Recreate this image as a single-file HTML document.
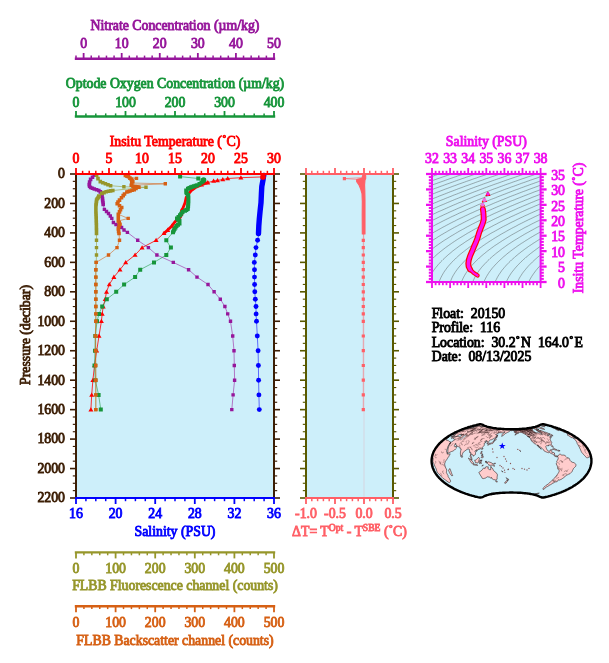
<!DOCTYPE html>
<html><head><meta charset="utf-8"><title>Float 20150 profile 116</title>
<style>
html,body{margin:0;padding:0;background:#fff;}
svg{display:block;font-family:"Liberation Serif",serif;will-change:transform;}
</style></head><body>
<svg width="609" height="663" viewBox="0 0 609 663">
<rect width="609" height="663" fill="#fff"/>
<rect x="76" y="174" width="198" height="324" fill="#cdeffa"/>
<polyline points="264.2,175.4 263.9,176.6 263.4,180.0 262.2,186.4 261.8,194.0 261.4,202.8 260.5,211.0 259.7,219.3 259.2,226.0 258.9,233.5 257.6,240.3 256.0,247.6 255.3,255.0 254.3,262.4 254.5,269.7 254.5,277.1 254.6,284.5 254.8,291.8 255.3,299.2 256.0,306.5 256.1,313.9 256.5,321.3 257.3,336.0 258.1,350.7 258.4,365.5 258.6,380.2 258.9,394.9 259.3,409.6" fill="none" stroke="#0000ff" stroke-width="0.7" stroke-opacity="0.8" stroke-linejoin="round"/>
<polyline points="263.8,175.4 263.5,176.6 263.0,180.0 261.8,186.4 261.4,194.0 261.0,202.8 260.1,211.0 259.3,219.3 258.8,226.0 258.5,233.5" fill="none" stroke="#0000ff" stroke-width="5.4" stroke-linejoin="round" stroke-linecap="round"/>
<circle cx="257.6" cy="240.3" r="2.45" fill="#0000ff"/>
<circle cx="256.0" cy="247.6" r="2.45" fill="#0000ff"/>
<circle cx="255.3" cy="255.0" r="2.45" fill="#0000ff"/>
<circle cx="254.3" cy="262.4" r="2.45" fill="#0000ff"/>
<circle cx="254.5" cy="269.7" r="2.45" fill="#0000ff"/>
<circle cx="254.5" cy="277.1" r="2.45" fill="#0000ff"/>
<circle cx="254.6" cy="284.5" r="2.45" fill="#0000ff"/>
<circle cx="254.8" cy="291.8" r="2.45" fill="#0000ff"/>
<circle cx="255.3" cy="299.2" r="2.45" fill="#0000ff"/>
<circle cx="256.0" cy="306.5" r="2.45" fill="#0000ff"/>
<circle cx="256.1" cy="313.9" r="2.45" fill="#0000ff"/>
<circle cx="256.5" cy="321.3" r="2.45" fill="#0000ff"/>
<circle cx="257.3" cy="336.0" r="2.45" fill="#0000ff"/>
<circle cx="258.1" cy="350.7" r="2.45" fill="#0000ff"/>
<circle cx="258.4" cy="365.5" r="2.45" fill="#0000ff"/>
<circle cx="258.6" cy="380.2" r="2.45" fill="#0000ff"/>
<circle cx="258.9" cy="394.9" r="2.45" fill="#0000ff"/>
<circle cx="259.3" cy="409.6" r="2.45" fill="#0000ff"/>
<polyline points="263.0,176.9 240.9,177.7 227.7,178.5 222.8,179.5 217.5,180.4 213.6,181.0 207.8,182.6 201.5,184.7 195.1,187.8 190.9,191.0 188.8,193.6 186.2,197.3 185.1,202.6 183.0,207.9 181.4,210.5 182.0,214.2 180.3,217.4 175.1,221.6 171.9,225.9 167.7,230.1 164.0,233.2 156.1,240.3 142.1,247.6 135.1,255.0 125.7,262.4 120.0,269.7 113.9,277.1 109.3,284.5 106.5,291.8 105.2,299.2 103.2,306.5 102.2,313.9 101.4,321.3 99.0,336.0 96.7,350.7 94.5,365.5 92.9,380.2 91.7,394.9 90.9,409.6" fill="none" stroke="#ff0000" stroke-width="0.8" stroke-opacity="1" stroke-linejoin="round"/>
<polyline points="207.8,182.6 201.5,184.7 195.1,187.8 190.9,191.0 188.8,193.6 186.2,197.3 185.1,202.6 183.0,207.9 181.4,210.5 182.0,214.2 180.3,217.4 175.1,221.6 171.9,225.9 167.7,230.1 164.0,233.2" fill="none" stroke="#ff0000" stroke-width="2.8" stroke-linejoin="round" stroke-linecap="round"/>
<path d="M260.5,178.7h5l-2.5,-4.3zM238.4,179.5h5l-2.5,-4.3zM225.2,180.3h5l-2.5,-4.3zM220.3,181.3h5l-2.5,-4.3zM215.0,182.2h5l-2.5,-4.3zM211.1,182.8h5l-2.5,-4.3zM205.3,184.4h5l-2.5,-4.3zM199.0,186.5h5l-2.5,-4.3zM169.4,227.7h5l-2.5,-4.3zM165.2,231.9h5l-2.5,-4.3zM161.5,235.0h5l-2.5,-4.3zM153.6,242.1h5l-2.5,-4.3zM139.6,249.5h5l-2.5,-4.3zM132.6,256.8h5l-2.5,-4.3zM123.2,264.2h5l-2.5,-4.3zM117.5,271.6h5l-2.5,-4.3zM111.4,278.9h5l-2.5,-4.3zM106.8,286.3h5l-2.5,-4.3zM104.0,293.7h5l-2.5,-4.3zM102.7,301.0h5l-2.5,-4.3zM100.7,308.4h5l-2.5,-4.3zM99.7,315.8h5l-2.5,-4.3zM98.9,323.1h5l-2.5,-4.3zM96.5,337.8h5l-2.5,-4.3zM94.2,352.6h5l-2.5,-4.3zM92.0,367.3h5l-2.5,-4.3zM90.4,382.0h5l-2.5,-4.3zM89.2,396.8h5l-2.5,-4.3zM88.4,411.5h5l-2.5,-4.3z" fill="#ff0000"/>
<circle cx="263.0" cy="176.9" r="2.8" fill="#ff0000"/>
<polyline points="180.1,176.6 198.3,178.5 203.6,179.9 203.0,181.2 201.5,182.6 199.5,184.0 197.2,185.2 194.0,186.3 190.9,187.3 188.0,188.8 186.2,190.5 186.3,192.0 186.7,193.1 187.8,195.0 188.3,196.3 188.4,199.5 188.3,202.6 188.1,206.0 187.7,209.0 185.0,210.8 182.5,212.1 180.0,215.3 177.0,218.5 179.5,221.0 179.5,223.5 176.5,226.0 174.5,229.0 173.0,232.2 166.3,240.3 170.9,247.6 166.3,255.0 154.0,262.4 140.2,269.7 135.1,277.1 124.1,284.5 116.2,291.8 106.8,299.2 102.2,306.5 99.0,313.9 97.0,321.3 95.3,336.0 95.0,350.7 94.5,365.5 95.3,380.2 98.6,394.9 100.8,409.6" fill="none" stroke="#16953a" stroke-width="0.7" stroke-opacity="0.8" stroke-linejoin="round"/>
<path d="M201.6,177.9h4.0v4.0h-4.0zM201.0,179.2h4.0v4.0h-4.0zM199.5,180.6h4.0v4.0h-4.0zM197.5,182.0h4.0v4.0h-4.0zM195.2,183.2h4.0v4.0h-4.0zM193.6,183.8h4.0v4.0h-4.0zM192.0,184.3h4.0v4.0h-4.0zM190.4,184.8h4.0v4.0h-4.0zM188.9,185.3h4.0v4.0h-4.0zM187.4,186.1h4.0v4.0h-4.0zM186.0,186.8h4.0v4.0h-4.0zM184.2,188.5h4.0v4.0h-4.0zM184.3,190.0h4.0v4.0h-4.0zM184.7,191.1h4.0v4.0h-4.0zM185.8,193.0h4.0v4.0h-4.0zM186.3,194.3h4.0v4.0h-4.0zM186.4,195.9h4.0v4.0h-4.0zM186.4,197.5h4.0v4.0h-4.0zM186.4,199.1h4.0v4.0h-4.0zM186.3,200.6h4.0v4.0h-4.0zM186.2,202.3h4.0v4.0h-4.0zM186.1,204.0h4.0v4.0h-4.0zM185.9,205.5h4.0v4.0h-4.0zM185.7,207.0h4.0v4.0h-4.0zM184.3,207.9h4.0v4.0h-4.0zM183.0,208.8h4.0v4.0h-4.0zM180.5,210.1h4.0v4.0h-4.0zM179.2,211.7h4.0v4.0h-4.0zM178.0,213.3h4.0v4.0h-4.0zM176.5,214.9h4.0v4.0h-4.0zM175.0,216.5h4.0v4.0h-4.0zM176.2,217.8h4.0v4.0h-4.0zM177.5,219.0h4.0v4.0h-4.0zM177.5,221.5h4.0v4.0h-4.0zM176.0,222.8h4.0v4.0h-4.0zM174.5,224.0h4.0v4.0h-4.0zM173.5,225.5h4.0v4.0h-4.0zM172.5,227.0h4.0v4.0h-4.0zM171.8,228.6h4.0v4.0h-4.0zM171.0,230.2h4.0v4.0h-4.0z" fill="#16953a"/>
<path d="M178.1,174.6h4.0v4.0h-4.0zM196.3,176.5h4.0v4.0h-4.0zM164.3,238.3h4.0v4.0h-4.0zM168.9,245.6h4.0v4.0h-4.0zM164.3,253.0h4.0v4.0h-4.0zM152.0,260.4h4.0v4.0h-4.0zM138.2,267.7h4.0v4.0h-4.0zM133.1,275.1h4.0v4.0h-4.0zM122.1,282.5h4.0v4.0h-4.0zM114.2,289.8h4.0v4.0h-4.0zM104.8,297.2h4.0v4.0h-4.0zM100.2,304.5h4.0v4.0h-4.0zM97.0,311.9h4.0v4.0h-4.0zM95.0,319.3h4.0v4.0h-4.0zM93.3,334.0h4.0v4.0h-4.0zM93.0,348.7h4.0v4.0h-4.0zM92.5,363.5h4.0v4.0h-4.0zM93.3,378.2h4.0v4.0h-4.0zM96.6,392.9h4.0v4.0h-4.0zM98.8,407.6h4.0v4.0h-4.0z" fill="#16953a"/>
<circle cx="203.6" cy="179.9" r="2.7" fill="#16953a"/>
<polyline points="94.3,175.2 92.5,177.3 90.6,179.4 89.6,182.0 89.2,184.6 89.6,186.3 90.6,187.5 94.3,189.0 98.8,190.5 101.7,193.4 102.5,198.6 103.2,204.5 104.4,209.4 106.5,211.5 108.5,213.5 110.3,216.0 111.8,218.4 113.4,222.5 116.0,224.5 118.5,226.0 121.6,227.5 124.0,230.0 127.4,232.4 137.7,240.3 148.4,247.6 156.9,255.0 173.3,262.4 188.6,269.7 197.0,277.1 208.0,284.5 214.1,291.8 220.3,299.2 224.9,306.5 227.7,313.9 230.5,321.3 232.7,336.0 234.0,350.7 234.3,365.5 234.6,380.2 233.1,394.9 231.8,409.6" fill="none" stroke="#96169b" stroke-width="0.7" stroke-opacity="0.8" stroke-linejoin="round"/>
<path d="M92.5,173.4h3.6v3.6h-3.6zM90.7,175.5h3.6v3.6h-3.6zM88.8,177.6h3.6v3.6h-3.6zM87.8,180.2h3.6v3.6h-3.6zM87.4,182.8h3.6v3.6h-3.6zM87.8,184.5h3.6v3.6h-3.6zM88.8,185.7h3.6v3.6h-3.6zM90.6,186.4h3.6v3.6h-3.6zM92.5,187.2h3.6v3.6h-3.6zM94.8,187.9h3.6v3.6h-3.6zM97.0,188.7h3.6v3.6h-3.6zM98.5,190.1h3.6v3.6h-3.6zM99.9,191.6h3.6v3.6h-3.6zM100.3,194.2h3.6v3.6h-3.6zM100.7,196.8h3.6v3.6h-3.6zM100.9,198.8h3.6v3.6h-3.6zM101.2,200.7h3.6v3.6h-3.6zM101.4,202.7h3.6v3.6h-3.6z" fill="#96169b"/>
<path d="M102.7,207.7h3.4v3.4h-3.4zM104.8,209.8h3.4v3.4h-3.4zM106.8,211.8h3.4v3.4h-3.4zM108.6,214.3h3.4v3.4h-3.4zM110.1,216.7h3.4v3.4h-3.4zM111.7,220.8h3.4v3.4h-3.4zM114.3,222.8h3.4v3.4h-3.4zM116.8,224.3h3.4v3.4h-3.4zM119.9,225.8h3.4v3.4h-3.4zM122.3,228.3h3.4v3.4h-3.4zM125.7,230.7h3.4v3.4h-3.4zM136.0,238.6h3.4v3.4h-3.4zM146.7,245.9h3.4v3.4h-3.4zM155.2,253.3h3.4v3.4h-3.4zM171.6,260.7h3.4v3.4h-3.4zM186.9,268.0h3.4v3.4h-3.4zM195.3,275.4h3.4v3.4h-3.4zM206.3,282.8h3.4v3.4h-3.4zM212.4,290.1h3.4v3.4h-3.4zM218.6,297.5h3.4v3.4h-3.4zM223.2,304.8h3.4v3.4h-3.4zM226.0,312.2h3.4v3.4h-3.4zM228.8,319.6h3.4v3.4h-3.4zM231.0,334.3h3.4v3.4h-3.4zM232.3,349.0h3.4v3.4h-3.4zM232.6,363.8h3.4v3.4h-3.4zM232.9,378.5h3.4v3.4h-3.4zM231.4,393.2h3.4v3.4h-3.4zM230.1,407.9h3.4v3.4h-3.4z" fill="#96169b"/>
<polyline points="96.6,175.2 98.0,178.6 100.3,181.6 105.4,183.8 110.6,185.7 123.9,186.8 146.0,187.2 112.8,190.5 106.2,191.7 101.7,193.4 98.8,196.4 96.6,200.0 95.9,206.0 95.9,212.0 96.2,219.3 96.4,226.0 96.5,233.5 96.5,240.3 96.5,247.6 96.5,255.0 96.2,262.4 95.9,269.7 95.9,277.1 95.9,284.5 95.9,291.8 95.9,299.2 95.9,306.5 95.9,313.9 95.9,321.3 95.7,336.0 95.7,350.7 95.7,365.5 95.8,380.2 95.8,394.9 95.8,409.6" fill="none" stroke="#96962a" stroke-width="0.7" stroke-opacity="0.8" stroke-linejoin="round"/>
<path d="M94.8,173.4h3.6v3.6h-3.6zM96.2,176.8h3.6v3.6h-3.6zM98.5,179.8h3.6v3.6h-3.6zM101.0,180.9h3.6v3.6h-3.6zM103.6,182.0h3.6v3.6h-3.6zM106.2,182.9h3.6v3.6h-3.6zM108.8,183.9h3.6v3.6h-3.6z" fill="#96962a"/>
<path d="M111.0,188.7h3.6v3.6h-3.6zM108.8,189.1h3.6v3.6h-3.6zM106.6,189.5h3.6v3.6h-3.6zM104.4,189.9h3.6v3.6h-3.6zM102.2,190.8h3.6v3.6h-3.6zM99.9,191.6h3.6v3.6h-3.6zM97.0,194.6h3.6v3.6h-3.6z" fill="#96962a"/>
<path d="M97.0,194.6h3.6v3.6h-3.6zM96.3,195.8h3.6v3.6h-3.6zM95.5,197.0h3.6v3.6h-3.6zM94.8,198.2h3.6v3.6h-3.6zM94.7,199.4h3.6v3.6h-3.6zM94.5,200.6h3.6v3.6h-3.6zM94.4,201.8h3.6v3.6h-3.6zM94.2,203.0h3.6v3.6h-3.6zM94.1,204.2h3.6v3.6h-3.6zM94.1,205.4h3.6v3.6h-3.6zM94.1,206.6h3.6v3.6h-3.6zM94.1,207.8h3.6v3.6h-3.6zM94.1,209.0h3.6v3.6h-3.6zM94.1,210.2h3.6v3.6h-3.6zM94.2,211.4h3.6v3.6h-3.6zM94.2,212.6h3.6v3.6h-3.6zM94.3,213.8h3.6v3.6h-3.6zM94.3,215.1h3.6v3.6h-3.6zM94.4,216.3h3.6v3.6h-3.6zM94.4,217.5h3.6v3.6h-3.6zM94.4,218.8h3.6v3.6h-3.6zM94.5,220.2h3.6v3.6h-3.6zM94.5,221.5h3.6v3.6h-3.6zM94.6,222.9h3.6v3.6h-3.6zM94.6,224.2h3.6v3.6h-3.6zM94.6,225.4h3.6v3.6h-3.6zM94.6,226.7h3.6v3.6h-3.6zM94.7,227.9h3.6v3.6h-3.6zM94.7,229.2h3.6v3.6h-3.6zM94.7,230.4h3.6v3.6h-3.6zM94.7,231.7h3.6v3.6h-3.6z" fill="#96962a"/>
<path d="M122.2,185.1h3.4v3.4h-3.4zM144.3,185.5h3.4v3.4h-3.4zM94.8,238.6h3.4v3.4h-3.4zM94.8,245.9h3.4v3.4h-3.4zM94.8,253.3h3.4v3.4h-3.4zM94.5,260.7h3.4v3.4h-3.4zM94.2,268.0h3.4v3.4h-3.4zM94.2,275.4h3.4v3.4h-3.4zM94.2,282.8h3.4v3.4h-3.4zM94.2,290.1h3.4v3.4h-3.4zM94.2,297.5h3.4v3.4h-3.4zM94.2,304.8h3.4v3.4h-3.4zM94.2,312.2h3.4v3.4h-3.4zM94.2,319.6h3.4v3.4h-3.4zM94.0,334.3h3.4v3.4h-3.4zM94.0,349.0h3.4v3.4h-3.4zM94.0,363.8h3.4v3.4h-3.4zM94.1,378.5h3.4v3.4h-3.4zM94.1,393.2h3.4v3.4h-3.4zM94.1,407.9h3.4v3.4h-3.4z" fill="#96962a"/>
<polyline points="125.4,175.4 128.5,176.8 136.5,178.4 131.3,179.4 132.0,180.5 132.8,181.6 131.8,183.0 165.3,183.8 131.3,185.3 133.0,186.2 138.7,187.2 136.0,188.5 134.2,189.7 130.0,191.0 126.9,192.0 124.5,194.0 123.2,195.6 121.5,197.8 119.5,200.1 118.0,202.0 117.2,203.8 119.5,205.7 121.7,207.5 120.5,209.8 119.5,211.9 118.3,214.3 128.2,218.4 118.3,221.0 119.2,222.6 120.0,224.2 119.0,226.5 118.3,229.0 118.6,231.5 119.0,233.5 119.5,240.3 117.0,247.6 108.5,255.0 96.2,262.4 95.8,269.7 95.8,277.1 95.8,284.5 95.8,291.8 95.8,299.2 95.8,306.5 95.8,313.9 95.8,321.3 95.3,336.0 95.5,350.7 95.7,365.5 95.8,380.2 95.8,394.9 95.8,409.6" fill="none" stroke="#d66014" stroke-width="0.7" stroke-opacity="0.8" stroke-linejoin="round"/>
<path d="M123.6,173.6h3.6v3.6h-3.6zM125.2,174.3h3.6v3.6h-3.6zM126.7,175.0h3.6v3.6h-3.6zM128.1,176.3h3.6v3.6h-3.6zM129.5,177.6h3.6v3.6h-3.6zM130.2,178.7h3.6v3.6h-3.6zM131.0,179.8h3.6v3.6h-3.6zM130.0,181.2h3.6v3.6h-3.6zM129.5,183.5h3.6v3.6h-3.6zM131.2,184.4h3.6v3.6h-3.6zM133.1,184.7h3.6v3.6h-3.6zM135.0,185.1h3.6v3.6h-3.6zM136.9,185.4h3.6v3.6h-3.6zM134.2,186.7h3.6v3.6h-3.6zM132.4,187.9h3.6v3.6h-3.6zM130.3,188.5h3.6v3.6h-3.6zM128.2,189.2h3.6v3.6h-3.6zM126.6,189.7h3.6v3.6h-3.6zM125.1,190.2h3.6v3.6h-3.6zM122.7,192.2h3.6v3.6h-3.6zM121.4,193.8h3.6v3.6h-3.6zM119.7,196.0h3.6v3.6h-3.6zM117.7,198.3h3.6v3.6h-3.6zM116.2,200.2h3.6v3.6h-3.6zM115.4,202.0h3.6v3.6h-3.6zM117.7,203.9h3.6v3.6h-3.6zM119.9,205.7h3.6v3.6h-3.6zM118.7,208.0h3.6v3.6h-3.6zM117.7,210.1h3.6v3.6h-3.6zM116.5,212.5h3.6v3.6h-3.6zM116.5,214.2h3.6v3.6h-3.6zM116.5,215.8h3.6v3.6h-3.6zM116.5,217.5h3.6v3.6h-3.6zM116.5,219.2h3.6v3.6h-3.6zM117.4,220.8h3.6v3.6h-3.6zM118.2,222.4h3.6v3.6h-3.6zM117.2,224.7h3.6v3.6h-3.6zM116.5,227.2h3.6v3.6h-3.6zM116.8,229.7h3.6v3.6h-3.6zM117.2,231.7h3.6v3.6h-3.6z" fill="#d66014"/>
<path d="M134.8,176.7h3.4v3.4h-3.4zM163.6,182.1h3.4v3.4h-3.4zM126.5,216.7h3.4v3.4h-3.4zM137.0,185.5h3.4v3.4h-3.4zM117.8,238.6h3.4v3.4h-3.4zM115.3,245.9h3.4v3.4h-3.4zM106.8,253.3h3.4v3.4h-3.4zM94.5,260.7h3.4v3.4h-3.4zM94.1,268.0h3.4v3.4h-3.4zM94.1,275.4h3.4v3.4h-3.4zM94.1,282.8h3.4v3.4h-3.4zM94.1,290.1h3.4v3.4h-3.4zM94.1,297.5h3.4v3.4h-3.4zM94.1,304.8h3.4v3.4h-3.4zM94.1,312.2h3.4v3.4h-3.4zM94.1,319.6h3.4v3.4h-3.4zM93.6,334.3h3.4v3.4h-3.4zM93.8,349.0h3.4v3.4h-3.4zM94.0,363.8h3.4v3.4h-3.4zM94.1,378.5h3.4v3.4h-3.4zM94.1,393.2h3.4v3.4h-3.4zM94.1,407.9h3.4v3.4h-3.4z" fill="#d66014"/>
<line x1="76.00" y1="173.00" x2="76.00" y2="499.00" stroke="#3c1e05" stroke-width="2" />
<line x1="76.00" y1="174.00" x2="70.00" y2="174.00" stroke="#3c1e05" stroke-width="1.6" />
<text x="65.00" y="178.40" fill="#3c1e05" stroke="#3c1e05" stroke-width="0.85" text-anchor="end" font-size="13.8" >0</text>
<line x1="76.00" y1="181.36" x2="72.80" y2="181.36" stroke="#3c1e05" stroke-width="1.15" />
<line x1="76.00" y1="188.73" x2="72.80" y2="188.73" stroke="#3c1e05" stroke-width="1.15" />
<line x1="76.00" y1="196.09" x2="72.80" y2="196.09" stroke="#3c1e05" stroke-width="1.15" />
<line x1="76.00" y1="203.45" x2="70.00" y2="203.45" stroke="#3c1e05" stroke-width="1.6" />
<text x="65.00" y="207.85" fill="#3c1e05" stroke="#3c1e05" stroke-width="0.85" text-anchor="end" font-size="13.8" >200</text>
<line x1="76.00" y1="210.82" x2="72.80" y2="210.82" stroke="#3c1e05" stroke-width="1.15" />
<line x1="76.00" y1="218.18" x2="72.80" y2="218.18" stroke="#3c1e05" stroke-width="1.15" />
<line x1="76.00" y1="225.55" x2="72.80" y2="225.55" stroke="#3c1e05" stroke-width="1.15" />
<line x1="76.00" y1="232.91" x2="70.00" y2="232.91" stroke="#3c1e05" stroke-width="1.6" />
<text x="65.00" y="237.31" fill="#3c1e05" stroke="#3c1e05" stroke-width="0.85" text-anchor="end" font-size="13.8" >400</text>
<line x1="76.00" y1="240.27" x2="72.80" y2="240.27" stroke="#3c1e05" stroke-width="1.15" />
<line x1="76.00" y1="247.64" x2="72.80" y2="247.64" stroke="#3c1e05" stroke-width="1.15" />
<line x1="76.00" y1="255.00" x2="72.80" y2="255.00" stroke="#3c1e05" stroke-width="1.15" />
<line x1="76.00" y1="262.36" x2="70.00" y2="262.36" stroke="#3c1e05" stroke-width="1.6" />
<text x="65.00" y="266.76" fill="#3c1e05" stroke="#3c1e05" stroke-width="0.85" text-anchor="end" font-size="13.8" >600</text>
<line x1="76.00" y1="269.73" x2="72.80" y2="269.73" stroke="#3c1e05" stroke-width="1.15" />
<line x1="76.00" y1="277.09" x2="72.80" y2="277.09" stroke="#3c1e05" stroke-width="1.15" />
<line x1="76.00" y1="284.45" x2="72.80" y2="284.45" stroke="#3c1e05" stroke-width="1.15" />
<line x1="76.00" y1="291.82" x2="70.00" y2="291.82" stroke="#3c1e05" stroke-width="1.6" />
<text x="65.00" y="296.22" fill="#3c1e05" stroke="#3c1e05" stroke-width="0.85" text-anchor="end" font-size="13.8" >800</text>
<line x1="76.00" y1="299.18" x2="72.80" y2="299.18" stroke="#3c1e05" stroke-width="1.15" />
<line x1="76.00" y1="306.55" x2="72.80" y2="306.55" stroke="#3c1e05" stroke-width="1.15" />
<line x1="76.00" y1="313.91" x2="72.80" y2="313.91" stroke="#3c1e05" stroke-width="1.15" />
<line x1="76.00" y1="321.27" x2="70.00" y2="321.27" stroke="#3c1e05" stroke-width="1.6" />
<text x="65.00" y="325.67" fill="#3c1e05" stroke="#3c1e05" stroke-width="0.85" text-anchor="end" font-size="13.8" >1000</text>
<line x1="76.00" y1="328.64" x2="72.80" y2="328.64" stroke="#3c1e05" stroke-width="1.15" />
<line x1="76.00" y1="336.00" x2="72.80" y2="336.00" stroke="#3c1e05" stroke-width="1.15" />
<line x1="76.00" y1="343.36" x2="72.80" y2="343.36" stroke="#3c1e05" stroke-width="1.15" />
<line x1="76.00" y1="350.73" x2="70.00" y2="350.73" stroke="#3c1e05" stroke-width="1.6" />
<text x="65.00" y="355.13" fill="#3c1e05" stroke="#3c1e05" stroke-width="0.85" text-anchor="end" font-size="13.8" >1200</text>
<line x1="76.00" y1="358.09" x2="72.80" y2="358.09" stroke="#3c1e05" stroke-width="1.15" />
<line x1="76.00" y1="365.45" x2="72.80" y2="365.45" stroke="#3c1e05" stroke-width="1.15" />
<line x1="76.00" y1="372.82" x2="72.80" y2="372.82" stroke="#3c1e05" stroke-width="1.15" />
<line x1="76.00" y1="380.18" x2="70.00" y2="380.18" stroke="#3c1e05" stroke-width="1.6" />
<text x="65.00" y="384.58" fill="#3c1e05" stroke="#3c1e05" stroke-width="0.85" text-anchor="end" font-size="13.8" >1400</text>
<line x1="76.00" y1="387.55" x2="72.80" y2="387.55" stroke="#3c1e05" stroke-width="1.15" />
<line x1="76.00" y1="394.91" x2="72.80" y2="394.91" stroke="#3c1e05" stroke-width="1.15" />
<line x1="76.00" y1="402.27" x2="72.80" y2="402.27" stroke="#3c1e05" stroke-width="1.15" />
<line x1="76.00" y1="409.64" x2="70.00" y2="409.64" stroke="#3c1e05" stroke-width="1.6" />
<text x="65.00" y="414.04" fill="#3c1e05" stroke="#3c1e05" stroke-width="0.85" text-anchor="end" font-size="13.8" >1600</text>
<line x1="76.00" y1="417.00" x2="72.80" y2="417.00" stroke="#3c1e05" stroke-width="1.15" />
<line x1="76.00" y1="424.36" x2="72.80" y2="424.36" stroke="#3c1e05" stroke-width="1.15" />
<line x1="76.00" y1="431.73" x2="72.80" y2="431.73" stroke="#3c1e05" stroke-width="1.15" />
<line x1="76.00" y1="439.09" x2="70.00" y2="439.09" stroke="#3c1e05" stroke-width="1.6" />
<text x="65.00" y="443.49" fill="#3c1e05" stroke="#3c1e05" stroke-width="0.85" text-anchor="end" font-size="13.8" >1800</text>
<line x1="76.00" y1="446.45" x2="72.80" y2="446.45" stroke="#3c1e05" stroke-width="1.15" />
<line x1="76.00" y1="453.82" x2="72.80" y2="453.82" stroke="#3c1e05" stroke-width="1.15" />
<line x1="76.00" y1="461.18" x2="72.80" y2="461.18" stroke="#3c1e05" stroke-width="1.15" />
<line x1="76.00" y1="468.55" x2="70.00" y2="468.55" stroke="#3c1e05" stroke-width="1.6" />
<text x="65.00" y="472.95" fill="#3c1e05" stroke="#3c1e05" stroke-width="0.85" text-anchor="end" font-size="13.8" >2000</text>
<line x1="76.00" y1="475.91" x2="72.80" y2="475.91" stroke="#3c1e05" stroke-width="1.15" />
<line x1="76.00" y1="483.27" x2="72.80" y2="483.27" stroke="#3c1e05" stroke-width="1.15" />
<line x1="76.00" y1="490.64" x2="72.80" y2="490.64" stroke="#3c1e05" stroke-width="1.15" />
<line x1="76.00" y1="498.00" x2="70.00" y2="498.00" stroke="#3c1e05" stroke-width="1.6" />
<text x="65.00" y="502.40" fill="#3c1e05" stroke="#3c1e05" stroke-width="0.85" text-anchor="end" font-size="13.8" >2200</text>
<line x1="274.00" y1="173.00" x2="274.00" y2="499.00" stroke="#3c1e05" stroke-width="2" />
<line x1="274.00" y1="174.00" x2="280.00" y2="174.00" stroke="#3c1e05" stroke-width="1.6" />
<line x1="274.00" y1="181.36" x2="277.20" y2="181.36" stroke="#3c1e05" stroke-width="1.15" />
<line x1="274.00" y1="188.73" x2="277.20" y2="188.73" stroke="#3c1e05" stroke-width="1.15" />
<line x1="274.00" y1="196.09" x2="277.20" y2="196.09" stroke="#3c1e05" stroke-width="1.15" />
<line x1="274.00" y1="203.45" x2="280.00" y2="203.45" stroke="#3c1e05" stroke-width="1.6" />
<line x1="274.00" y1="210.82" x2="277.20" y2="210.82" stroke="#3c1e05" stroke-width="1.15" />
<line x1="274.00" y1="218.18" x2="277.20" y2="218.18" stroke="#3c1e05" stroke-width="1.15" />
<line x1="274.00" y1="225.55" x2="277.20" y2="225.55" stroke="#3c1e05" stroke-width="1.15" />
<line x1="274.00" y1="232.91" x2="280.00" y2="232.91" stroke="#3c1e05" stroke-width="1.6" />
<line x1="274.00" y1="240.27" x2="277.20" y2="240.27" stroke="#3c1e05" stroke-width="1.15" />
<line x1="274.00" y1="247.64" x2="277.20" y2="247.64" stroke="#3c1e05" stroke-width="1.15" />
<line x1="274.00" y1="255.00" x2="277.20" y2="255.00" stroke="#3c1e05" stroke-width="1.15" />
<line x1="274.00" y1="262.36" x2="280.00" y2="262.36" stroke="#3c1e05" stroke-width="1.6" />
<line x1="274.00" y1="269.73" x2="277.20" y2="269.73" stroke="#3c1e05" stroke-width="1.15" />
<line x1="274.00" y1="277.09" x2="277.20" y2="277.09" stroke="#3c1e05" stroke-width="1.15" />
<line x1="274.00" y1="284.45" x2="277.20" y2="284.45" stroke="#3c1e05" stroke-width="1.15" />
<line x1="274.00" y1="291.82" x2="280.00" y2="291.82" stroke="#3c1e05" stroke-width="1.6" />
<line x1="274.00" y1="299.18" x2="277.20" y2="299.18" stroke="#3c1e05" stroke-width="1.15" />
<line x1="274.00" y1="306.55" x2="277.20" y2="306.55" stroke="#3c1e05" stroke-width="1.15" />
<line x1="274.00" y1="313.91" x2="277.20" y2="313.91" stroke="#3c1e05" stroke-width="1.15" />
<line x1="274.00" y1="321.27" x2="280.00" y2="321.27" stroke="#3c1e05" stroke-width="1.6" />
<line x1="274.00" y1="328.64" x2="277.20" y2="328.64" stroke="#3c1e05" stroke-width="1.15" />
<line x1="274.00" y1="336.00" x2="277.20" y2="336.00" stroke="#3c1e05" stroke-width="1.15" />
<line x1="274.00" y1="343.36" x2="277.20" y2="343.36" stroke="#3c1e05" stroke-width="1.15" />
<line x1="274.00" y1="350.73" x2="280.00" y2="350.73" stroke="#3c1e05" stroke-width="1.6" />
<line x1="274.00" y1="358.09" x2="277.20" y2="358.09" stroke="#3c1e05" stroke-width="1.15" />
<line x1="274.00" y1="365.45" x2="277.20" y2="365.45" stroke="#3c1e05" stroke-width="1.15" />
<line x1="274.00" y1="372.82" x2="277.20" y2="372.82" stroke="#3c1e05" stroke-width="1.15" />
<line x1="274.00" y1="380.18" x2="280.00" y2="380.18" stroke="#3c1e05" stroke-width="1.6" />
<line x1="274.00" y1="387.55" x2="277.20" y2="387.55" stroke="#3c1e05" stroke-width="1.15" />
<line x1="274.00" y1="394.91" x2="277.20" y2="394.91" stroke="#3c1e05" stroke-width="1.15" />
<line x1="274.00" y1="402.27" x2="277.20" y2="402.27" stroke="#3c1e05" stroke-width="1.15" />
<line x1="274.00" y1="409.64" x2="280.00" y2="409.64" stroke="#3c1e05" stroke-width="1.6" />
<line x1="274.00" y1="417.00" x2="277.20" y2="417.00" stroke="#3c1e05" stroke-width="1.15" />
<line x1="274.00" y1="424.36" x2="277.20" y2="424.36" stroke="#3c1e05" stroke-width="1.15" />
<line x1="274.00" y1="431.73" x2="277.20" y2="431.73" stroke="#3c1e05" stroke-width="1.15" />
<line x1="274.00" y1="439.09" x2="280.00" y2="439.09" stroke="#3c1e05" stroke-width="1.6" />
<line x1="274.00" y1="446.45" x2="277.20" y2="446.45" stroke="#3c1e05" stroke-width="1.15" />
<line x1="274.00" y1="453.82" x2="277.20" y2="453.82" stroke="#3c1e05" stroke-width="1.15" />
<line x1="274.00" y1="461.18" x2="277.20" y2="461.18" stroke="#3c1e05" stroke-width="1.15" />
<line x1="274.00" y1="468.55" x2="280.00" y2="468.55" stroke="#3c1e05" stroke-width="1.6" />
<line x1="274.00" y1="475.91" x2="277.20" y2="475.91" stroke="#3c1e05" stroke-width="1.15" />
<line x1="274.00" y1="483.27" x2="277.20" y2="483.27" stroke="#3c1e05" stroke-width="1.15" />
<line x1="274.00" y1="490.64" x2="277.20" y2="490.64" stroke="#3c1e05" stroke-width="1.15" />
<line x1="274.00" y1="498.00" x2="280.00" y2="498.00" stroke="#3c1e05" stroke-width="1.6" />
<line x1="75.00" y1="174.00" x2="275.00" y2="174.00" stroke="#ff0000" stroke-width="2" />
<line x1="76.00" y1="174.00" x2="76.00" y2="168.00" stroke="#ff0000" stroke-width="1.8" />
<text x="76.00" y="162.60" fill="#ff0000" stroke="#ff0000" stroke-width="0.85" text-anchor="middle" font-size="13.8" >0</text>
<line x1="82.60" y1="174.00" x2="82.60" y2="170.80" stroke="#ff0000" stroke-width="1.5" />
<line x1="89.20" y1="174.00" x2="89.20" y2="170.80" stroke="#ff0000" stroke-width="1.5" />
<line x1="95.80" y1="174.00" x2="95.80" y2="170.80" stroke="#ff0000" stroke-width="1.5" />
<line x1="102.40" y1="174.00" x2="102.40" y2="170.80" stroke="#ff0000" stroke-width="1.5" />
<line x1="109.00" y1="174.00" x2="109.00" y2="168.00" stroke="#ff0000" stroke-width="1.8" />
<text x="109.00" y="162.60" fill="#ff0000" stroke="#ff0000" stroke-width="0.85" text-anchor="middle" font-size="13.8" >5</text>
<line x1="115.60" y1="174.00" x2="115.60" y2="170.80" stroke="#ff0000" stroke-width="1.5" />
<line x1="122.20" y1="174.00" x2="122.20" y2="170.80" stroke="#ff0000" stroke-width="1.5" />
<line x1="128.80" y1="174.00" x2="128.80" y2="170.80" stroke="#ff0000" stroke-width="1.5" />
<line x1="135.40" y1="174.00" x2="135.40" y2="170.80" stroke="#ff0000" stroke-width="1.5" />
<line x1="142.00" y1="174.00" x2="142.00" y2="168.00" stroke="#ff0000" stroke-width="1.8" />
<text x="142.00" y="162.60" fill="#ff0000" stroke="#ff0000" stroke-width="0.85" text-anchor="middle" font-size="13.8" >10</text>
<line x1="148.60" y1="174.00" x2="148.60" y2="170.80" stroke="#ff0000" stroke-width="1.5" />
<line x1="155.20" y1="174.00" x2="155.20" y2="170.80" stroke="#ff0000" stroke-width="1.5" />
<line x1="161.80" y1="174.00" x2="161.80" y2="170.80" stroke="#ff0000" stroke-width="1.5" />
<line x1="168.40" y1="174.00" x2="168.40" y2="170.80" stroke="#ff0000" stroke-width="1.5" />
<line x1="175.00" y1="174.00" x2="175.00" y2="168.00" stroke="#ff0000" stroke-width="1.8" />
<text x="175.00" y="162.60" fill="#ff0000" stroke="#ff0000" stroke-width="0.85" text-anchor="middle" font-size="13.8" >15</text>
<line x1="181.60" y1="174.00" x2="181.60" y2="170.80" stroke="#ff0000" stroke-width="1.5" />
<line x1="188.20" y1="174.00" x2="188.20" y2="170.80" stroke="#ff0000" stroke-width="1.5" />
<line x1="194.80" y1="174.00" x2="194.80" y2="170.80" stroke="#ff0000" stroke-width="1.5" />
<line x1="201.40" y1="174.00" x2="201.40" y2="170.80" stroke="#ff0000" stroke-width="1.5" />
<line x1="208.00" y1="174.00" x2="208.00" y2="168.00" stroke="#ff0000" stroke-width="1.8" />
<text x="208.00" y="162.60" fill="#ff0000" stroke="#ff0000" stroke-width="0.85" text-anchor="middle" font-size="13.8" >20</text>
<line x1="214.60" y1="174.00" x2="214.60" y2="170.80" stroke="#ff0000" stroke-width="1.5" />
<line x1="221.20" y1="174.00" x2="221.20" y2="170.80" stroke="#ff0000" stroke-width="1.5" />
<line x1="227.80" y1="174.00" x2="227.80" y2="170.80" stroke="#ff0000" stroke-width="1.5" />
<line x1="234.40" y1="174.00" x2="234.40" y2="170.80" stroke="#ff0000" stroke-width="1.5" />
<line x1="241.00" y1="174.00" x2="241.00" y2="168.00" stroke="#ff0000" stroke-width="1.8" />
<text x="241.00" y="162.60" fill="#ff0000" stroke="#ff0000" stroke-width="0.85" text-anchor="middle" font-size="13.8" >25</text>
<line x1="247.60" y1="174.00" x2="247.60" y2="170.80" stroke="#ff0000" stroke-width="1.5" />
<line x1="254.20" y1="174.00" x2="254.20" y2="170.80" stroke="#ff0000" stroke-width="1.5" />
<line x1="260.80" y1="174.00" x2="260.80" y2="170.80" stroke="#ff0000" stroke-width="1.5" />
<line x1="267.40" y1="174.00" x2="267.40" y2="170.80" stroke="#ff0000" stroke-width="1.5" />
<line x1="274.00" y1="174.00" x2="274.00" y2="168.00" stroke="#ff0000" stroke-width="1.8" />
<text x="274.00" y="162.60" fill="#ff0000" stroke="#ff0000" stroke-width="0.85" text-anchor="middle" font-size="13.8" >30</text>
<text x="175.00" y="145.80" fill="#ff0000" stroke="#ff0000" stroke-width="0.85" text-anchor="middle" font-size="13.8" >Insitu Temperature (˚C)</text>
<line x1="75.00" y1="498.00" x2="275.00" y2="498.00" stroke="#0000ff" stroke-width="2" />
<line x1="76.00" y1="498.00" x2="76.00" y2="504.00" stroke="#0000ff" stroke-width="1.8" />
<text x="76.00" y="517.80" fill="#0000ff" stroke="#0000ff" stroke-width="0.85" text-anchor="middle" font-size="13.8" >16</text>
<line x1="85.90" y1="498.00" x2="85.90" y2="501.20" stroke="#0000ff" stroke-width="1.5" />
<line x1="95.80" y1="498.00" x2="95.80" y2="501.20" stroke="#0000ff" stroke-width="1.5" />
<line x1="105.70" y1="498.00" x2="105.70" y2="501.20" stroke="#0000ff" stroke-width="1.5" />
<line x1="115.60" y1="498.00" x2="115.60" y2="504.00" stroke="#0000ff" stroke-width="1.8" />
<text x="115.60" y="517.80" fill="#0000ff" stroke="#0000ff" stroke-width="0.85" text-anchor="middle" font-size="13.8" >20</text>
<line x1="125.50" y1="498.00" x2="125.50" y2="501.20" stroke="#0000ff" stroke-width="1.5" />
<line x1="135.40" y1="498.00" x2="135.40" y2="501.20" stroke="#0000ff" stroke-width="1.5" />
<line x1="145.30" y1="498.00" x2="145.30" y2="501.20" stroke="#0000ff" stroke-width="1.5" />
<line x1="155.20" y1="498.00" x2="155.20" y2="504.00" stroke="#0000ff" stroke-width="1.8" />
<text x="155.20" y="517.80" fill="#0000ff" stroke="#0000ff" stroke-width="0.85" text-anchor="middle" font-size="13.8" >24</text>
<line x1="165.10" y1="498.00" x2="165.10" y2="501.20" stroke="#0000ff" stroke-width="1.5" />
<line x1="175.00" y1="498.00" x2="175.00" y2="501.20" stroke="#0000ff" stroke-width="1.5" />
<line x1="184.90" y1="498.00" x2="184.90" y2="501.20" stroke="#0000ff" stroke-width="1.5" />
<line x1="194.80" y1="498.00" x2="194.80" y2="504.00" stroke="#0000ff" stroke-width="1.8" />
<text x="194.80" y="517.80" fill="#0000ff" stroke="#0000ff" stroke-width="0.85" text-anchor="middle" font-size="13.8" >28</text>
<line x1="204.70" y1="498.00" x2="204.70" y2="501.20" stroke="#0000ff" stroke-width="1.5" />
<line x1="214.60" y1="498.00" x2="214.60" y2="501.20" stroke="#0000ff" stroke-width="1.5" />
<line x1="224.50" y1="498.00" x2="224.50" y2="501.20" stroke="#0000ff" stroke-width="1.5" />
<line x1="234.40" y1="498.00" x2="234.40" y2="504.00" stroke="#0000ff" stroke-width="1.8" />
<text x="234.40" y="517.80" fill="#0000ff" stroke="#0000ff" stroke-width="0.85" text-anchor="middle" font-size="13.8" >32</text>
<line x1="244.30" y1="498.00" x2="244.30" y2="501.20" stroke="#0000ff" stroke-width="1.5" />
<line x1="254.20" y1="498.00" x2="254.20" y2="501.20" stroke="#0000ff" stroke-width="1.5" />
<line x1="264.10" y1="498.00" x2="264.10" y2="501.20" stroke="#0000ff" stroke-width="1.5" />
<line x1="274.00" y1="498.00" x2="274.00" y2="504.00" stroke="#0000ff" stroke-width="1.8" />
<text x="274.00" y="517.80" fill="#0000ff" stroke="#0000ff" stroke-width="0.85" text-anchor="middle" font-size="13.8" >36</text>
<text x="175.00" y="535.80" fill="#0000ff" stroke="#0000ff" stroke-width="0.85" text-anchor="middle" font-size="13.8" >Salinity (PSU)</text>
<text transform="translate(30.2,335) rotate(-90)" fill="#3c1e05" stroke="#3c1e05" stroke-width="0.85" text-anchor="middle" font-size="13.8">Pressure (decibar)</text>
<line x1="74.80" y1="58.70" x2="275.20" y2="58.70" stroke="#96169b" stroke-width="2.4" />
<line x1="76.00" y1="58.70" x2="76.00" y2="55.60" stroke="#96169b" stroke-width="1.5" />
<line x1="83.62" y1="58.70" x2="83.62" y2="53.00" stroke="#96169b" stroke-width="1.8" />
<text x="83.62" y="47.80" fill="#96169b" stroke="#96169b" stroke-width="0.85" text-anchor="middle" font-size="13.8" >0</text>
<line x1="91.23" y1="58.70" x2="91.23" y2="55.60" stroke="#96169b" stroke-width="1.5" />
<line x1="98.85" y1="58.70" x2="98.85" y2="55.60" stroke="#96169b" stroke-width="1.5" />
<line x1="106.46" y1="58.70" x2="106.46" y2="55.60" stroke="#96169b" stroke-width="1.5" />
<line x1="114.08" y1="58.70" x2="114.08" y2="55.60" stroke="#96169b" stroke-width="1.5" />
<line x1="121.69" y1="58.70" x2="121.69" y2="53.00" stroke="#96169b" stroke-width="1.8" />
<text x="121.69" y="47.80" fill="#96169b" stroke="#96169b" stroke-width="0.85" text-anchor="middle" font-size="13.8" >10</text>
<line x1="129.31" y1="58.70" x2="129.31" y2="55.60" stroke="#96169b" stroke-width="1.5" />
<line x1="136.92" y1="58.70" x2="136.92" y2="55.60" stroke="#96169b" stroke-width="1.5" />
<line x1="144.54" y1="58.70" x2="144.54" y2="55.60" stroke="#96169b" stroke-width="1.5" />
<line x1="152.15" y1="58.70" x2="152.15" y2="55.60" stroke="#96169b" stroke-width="1.5" />
<line x1="159.77" y1="58.70" x2="159.77" y2="53.00" stroke="#96169b" stroke-width="1.8" />
<text x="159.77" y="47.80" fill="#96169b" stroke="#96169b" stroke-width="0.85" text-anchor="middle" font-size="13.8" >20</text>
<line x1="167.38" y1="58.70" x2="167.38" y2="55.60" stroke="#96169b" stroke-width="1.5" />
<line x1="175.00" y1="58.70" x2="175.00" y2="55.60" stroke="#96169b" stroke-width="1.5" />
<line x1="182.62" y1="58.70" x2="182.62" y2="55.60" stroke="#96169b" stroke-width="1.5" />
<line x1="190.23" y1="58.70" x2="190.23" y2="55.60" stroke="#96169b" stroke-width="1.5" />
<line x1="197.85" y1="58.70" x2="197.85" y2="53.00" stroke="#96169b" stroke-width="1.8" />
<text x="197.85" y="47.80" fill="#96169b" stroke="#96169b" stroke-width="0.85" text-anchor="middle" font-size="13.8" >30</text>
<line x1="205.46" y1="58.70" x2="205.46" y2="55.60" stroke="#96169b" stroke-width="1.5" />
<line x1="213.08" y1="58.70" x2="213.08" y2="55.60" stroke="#96169b" stroke-width="1.5" />
<line x1="220.69" y1="58.70" x2="220.69" y2="55.60" stroke="#96169b" stroke-width="1.5" />
<line x1="228.31" y1="58.70" x2="228.31" y2="55.60" stroke="#96169b" stroke-width="1.5" />
<line x1="235.92" y1="58.70" x2="235.92" y2="53.00" stroke="#96169b" stroke-width="1.8" />
<text x="235.92" y="47.80" fill="#96169b" stroke="#96169b" stroke-width="0.85" text-anchor="middle" font-size="13.8" >40</text>
<line x1="243.54" y1="58.70" x2="243.54" y2="55.60" stroke="#96169b" stroke-width="1.5" />
<line x1="251.15" y1="58.70" x2="251.15" y2="55.60" stroke="#96169b" stroke-width="1.5" />
<line x1="258.77" y1="58.70" x2="258.77" y2="55.60" stroke="#96169b" stroke-width="1.5" />
<line x1="266.38" y1="58.70" x2="266.38" y2="55.60" stroke="#96169b" stroke-width="1.5" />
<line x1="274.00" y1="58.70" x2="274.00" y2="53.00" stroke="#96169b" stroke-width="1.8" />
<text x="274.00" y="47.80" fill="#96169b" stroke="#96169b" stroke-width="0.85" text-anchor="middle" font-size="13.8" >50</text>
<text x="175.00" y="29.80" fill="#96169b" stroke="#96169b" stroke-width="0.85" text-anchor="middle" font-size="13.8" >Nitrate Concentration (µm/kg)</text>
<line x1="74.80" y1="116.50" x2="275.20" y2="116.50" stroke="#16953a" stroke-width="2.4" />
<line x1="76.00" y1="116.50" x2="76.00" y2="111.00" stroke="#16953a" stroke-width="1.8" />
<text x="76.00" y="106.50" fill="#16953a" stroke="#16953a" stroke-width="0.85" text-anchor="middle" font-size="13.8" >0</text>
<line x1="85.90" y1="116.50" x2="85.90" y2="113.40" stroke="#16953a" stroke-width="1.5" />
<line x1="95.80" y1="116.50" x2="95.80" y2="113.40" stroke="#16953a" stroke-width="1.5" />
<line x1="105.70" y1="116.50" x2="105.70" y2="113.40" stroke="#16953a" stroke-width="1.5" />
<line x1="115.60" y1="116.50" x2="115.60" y2="113.40" stroke="#16953a" stroke-width="1.5" />
<line x1="125.50" y1="116.50" x2="125.50" y2="111.00" stroke="#16953a" stroke-width="1.8" />
<text x="125.50" y="106.50" fill="#16953a" stroke="#16953a" stroke-width="0.85" text-anchor="middle" font-size="13.8" >100</text>
<line x1="135.40" y1="116.50" x2="135.40" y2="113.40" stroke="#16953a" stroke-width="1.5" />
<line x1="145.30" y1="116.50" x2="145.30" y2="113.40" stroke="#16953a" stroke-width="1.5" />
<line x1="155.20" y1="116.50" x2="155.20" y2="113.40" stroke="#16953a" stroke-width="1.5" />
<line x1="165.10" y1="116.50" x2="165.10" y2="113.40" stroke="#16953a" stroke-width="1.5" />
<line x1="175.00" y1="116.50" x2="175.00" y2="111.00" stroke="#16953a" stroke-width="1.8" />
<text x="175.00" y="106.50" fill="#16953a" stroke="#16953a" stroke-width="0.85" text-anchor="middle" font-size="13.8" >200</text>
<line x1="184.90" y1="116.50" x2="184.90" y2="113.40" stroke="#16953a" stroke-width="1.5" />
<line x1="194.80" y1="116.50" x2="194.80" y2="113.40" stroke="#16953a" stroke-width="1.5" />
<line x1="204.70" y1="116.50" x2="204.70" y2="113.40" stroke="#16953a" stroke-width="1.5" />
<line x1="214.60" y1="116.50" x2="214.60" y2="113.40" stroke="#16953a" stroke-width="1.5" />
<line x1="224.50" y1="116.50" x2="224.50" y2="111.00" stroke="#16953a" stroke-width="1.8" />
<text x="224.50" y="106.50" fill="#16953a" stroke="#16953a" stroke-width="0.85" text-anchor="middle" font-size="13.8" >300</text>
<line x1="234.40" y1="116.50" x2="234.40" y2="113.40" stroke="#16953a" stroke-width="1.5" />
<line x1="244.30" y1="116.50" x2="244.30" y2="113.40" stroke="#16953a" stroke-width="1.5" />
<line x1="254.20" y1="116.50" x2="254.20" y2="113.40" stroke="#16953a" stroke-width="1.5" />
<line x1="264.10" y1="116.50" x2="264.10" y2="113.40" stroke="#16953a" stroke-width="1.5" />
<line x1="274.00" y1="116.50" x2="274.00" y2="111.00" stroke="#16953a" stroke-width="1.8" />
<text x="274.00" y="106.50" fill="#16953a" stroke="#16953a" stroke-width="0.85" text-anchor="middle" font-size="13.8" >400</text>
<text x="175.00" y="88.10" fill="#16953a" stroke="#16953a" stroke-width="0.85" text-anchor="middle" font-size="13.8" >Optode Oxygen Concentration (µm/kg)</text>
<line x1="74.80" y1="552.40" x2="275.20" y2="552.40" stroke="#96962a" stroke-width="2.4" />
<line x1="76.00" y1="552.40" x2="76.00" y2="558.40" stroke="#96962a" stroke-width="1.8" />
<text x="76.00" y="572.50" fill="#96962a" stroke="#96962a" stroke-width="0.85" text-anchor="middle" font-size="13.8" >0</text>
<line x1="83.92" y1="552.40" x2="83.92" y2="555.30" stroke="#96962a" stroke-width="1.5" />
<line x1="91.84" y1="552.40" x2="91.84" y2="555.30" stroke="#96962a" stroke-width="1.5" />
<line x1="99.76" y1="552.40" x2="99.76" y2="555.30" stroke="#96962a" stroke-width="1.5" />
<line x1="107.68" y1="552.40" x2="107.68" y2="555.30" stroke="#96962a" stroke-width="1.5" />
<line x1="115.60" y1="552.40" x2="115.60" y2="558.40" stroke="#96962a" stroke-width="1.8" />
<text x="115.60" y="572.50" fill="#96962a" stroke="#96962a" stroke-width="0.85" text-anchor="middle" font-size="13.8" >100</text>
<line x1="123.52" y1="552.40" x2="123.52" y2="555.30" stroke="#96962a" stroke-width="1.5" />
<line x1="131.44" y1="552.40" x2="131.44" y2="555.30" stroke="#96962a" stroke-width="1.5" />
<line x1="139.36" y1="552.40" x2="139.36" y2="555.30" stroke="#96962a" stroke-width="1.5" />
<line x1="147.28" y1="552.40" x2="147.28" y2="555.30" stroke="#96962a" stroke-width="1.5" />
<line x1="155.20" y1="552.40" x2="155.20" y2="558.40" stroke="#96962a" stroke-width="1.8" />
<text x="155.20" y="572.50" fill="#96962a" stroke="#96962a" stroke-width="0.85" text-anchor="middle" font-size="13.8" >200</text>
<line x1="163.12" y1="552.40" x2="163.12" y2="555.30" stroke="#96962a" stroke-width="1.5" />
<line x1="171.04" y1="552.40" x2="171.04" y2="555.30" stroke="#96962a" stroke-width="1.5" />
<line x1="178.96" y1="552.40" x2="178.96" y2="555.30" stroke="#96962a" stroke-width="1.5" />
<line x1="186.88" y1="552.40" x2="186.88" y2="555.30" stroke="#96962a" stroke-width="1.5" />
<line x1="194.80" y1="552.40" x2="194.80" y2="558.40" stroke="#96962a" stroke-width="1.8" />
<text x="194.80" y="572.50" fill="#96962a" stroke="#96962a" stroke-width="0.85" text-anchor="middle" font-size="13.8" >300</text>
<line x1="202.72" y1="552.40" x2="202.72" y2="555.30" stroke="#96962a" stroke-width="1.5" />
<line x1="210.64" y1="552.40" x2="210.64" y2="555.30" stroke="#96962a" stroke-width="1.5" />
<line x1="218.56" y1="552.40" x2="218.56" y2="555.30" stroke="#96962a" stroke-width="1.5" />
<line x1="226.48" y1="552.40" x2="226.48" y2="555.30" stroke="#96962a" stroke-width="1.5" />
<line x1="234.40" y1="552.40" x2="234.40" y2="558.40" stroke="#96962a" stroke-width="1.8" />
<text x="234.40" y="572.50" fill="#96962a" stroke="#96962a" stroke-width="0.85" text-anchor="middle" font-size="13.8" >400</text>
<line x1="242.32" y1="552.40" x2="242.32" y2="555.30" stroke="#96962a" stroke-width="1.5" />
<line x1="250.24" y1="552.40" x2="250.24" y2="555.30" stroke="#96962a" stroke-width="1.5" />
<line x1="258.16" y1="552.40" x2="258.16" y2="555.30" stroke="#96962a" stroke-width="1.5" />
<line x1="266.08" y1="552.40" x2="266.08" y2="555.30" stroke="#96962a" stroke-width="1.5" />
<line x1="274.00" y1="552.40" x2="274.00" y2="558.40" stroke="#96962a" stroke-width="1.8" />
<text x="274.00" y="572.50" fill="#96962a" stroke="#96962a" stroke-width="0.85" text-anchor="middle" font-size="13.8" >500</text>
<text x="175.00" y="589.90" fill="#96962a" stroke="#96962a" stroke-width="0.85" text-anchor="middle" font-size="13.8" >FLBB Fluorescence channel (counts)</text>
<line x1="74.80" y1="606.20" x2="275.20" y2="606.20" stroke="#d66014" stroke-width="2.4" />
<line x1="76.00" y1="606.20" x2="76.00" y2="612.20" stroke="#d66014" stroke-width="1.8" />
<text x="76.00" y="627.00" fill="#d66014" stroke="#d66014" stroke-width="0.85" text-anchor="middle" font-size="13.8" >0</text>
<line x1="83.92" y1="606.20" x2="83.92" y2="609.10" stroke="#d66014" stroke-width="1.5" />
<line x1="91.84" y1="606.20" x2="91.84" y2="609.10" stroke="#d66014" stroke-width="1.5" />
<line x1="99.76" y1="606.20" x2="99.76" y2="609.10" stroke="#d66014" stroke-width="1.5" />
<line x1="107.68" y1="606.20" x2="107.68" y2="609.10" stroke="#d66014" stroke-width="1.5" />
<line x1="115.60" y1="606.20" x2="115.60" y2="612.20" stroke="#d66014" stroke-width="1.8" />
<text x="115.60" y="627.00" fill="#d66014" stroke="#d66014" stroke-width="0.85" text-anchor="middle" font-size="13.8" >100</text>
<line x1="123.52" y1="606.20" x2="123.52" y2="609.10" stroke="#d66014" stroke-width="1.5" />
<line x1="131.44" y1="606.20" x2="131.44" y2="609.10" stroke="#d66014" stroke-width="1.5" />
<line x1="139.36" y1="606.20" x2="139.36" y2="609.10" stroke="#d66014" stroke-width="1.5" />
<line x1="147.28" y1="606.20" x2="147.28" y2="609.10" stroke="#d66014" stroke-width="1.5" />
<line x1="155.20" y1="606.20" x2="155.20" y2="612.20" stroke="#d66014" stroke-width="1.8" />
<text x="155.20" y="627.00" fill="#d66014" stroke="#d66014" stroke-width="0.85" text-anchor="middle" font-size="13.8" >200</text>
<line x1="163.12" y1="606.20" x2="163.12" y2="609.10" stroke="#d66014" stroke-width="1.5" />
<line x1="171.04" y1="606.20" x2="171.04" y2="609.10" stroke="#d66014" stroke-width="1.5" />
<line x1="178.96" y1="606.20" x2="178.96" y2="609.10" stroke="#d66014" stroke-width="1.5" />
<line x1="186.88" y1="606.20" x2="186.88" y2="609.10" stroke="#d66014" stroke-width="1.5" />
<line x1="194.80" y1="606.20" x2="194.80" y2="612.20" stroke="#d66014" stroke-width="1.8" />
<text x="194.80" y="627.00" fill="#d66014" stroke="#d66014" stroke-width="0.85" text-anchor="middle" font-size="13.8" >300</text>
<line x1="202.72" y1="606.20" x2="202.72" y2="609.10" stroke="#d66014" stroke-width="1.5" />
<line x1="210.64" y1="606.20" x2="210.64" y2="609.10" stroke="#d66014" stroke-width="1.5" />
<line x1="218.56" y1="606.20" x2="218.56" y2="609.10" stroke="#d66014" stroke-width="1.5" />
<line x1="226.48" y1="606.20" x2="226.48" y2="609.10" stroke="#d66014" stroke-width="1.5" />
<line x1="234.40" y1="606.20" x2="234.40" y2="612.20" stroke="#d66014" stroke-width="1.8" />
<text x="234.40" y="627.00" fill="#d66014" stroke="#d66014" stroke-width="0.85" text-anchor="middle" font-size="13.8" >400</text>
<line x1="242.32" y1="606.20" x2="242.32" y2="609.10" stroke="#d66014" stroke-width="1.5" />
<line x1="250.24" y1="606.20" x2="250.24" y2="609.10" stroke="#d66014" stroke-width="1.5" />
<line x1="258.16" y1="606.20" x2="258.16" y2="609.10" stroke="#d66014" stroke-width="1.5" />
<line x1="266.08" y1="606.20" x2="266.08" y2="609.10" stroke="#d66014" stroke-width="1.5" />
<line x1="274.00" y1="606.20" x2="274.00" y2="612.20" stroke="#d66014" stroke-width="1.8" />
<text x="274.00" y="627.00" fill="#d66014" stroke="#d66014" stroke-width="0.85" text-anchor="middle" font-size="13.8" >500</text>
<text x="175.00" y="644.50" fill="#d66014" stroke="#d66014" stroke-width="0.85" text-anchor="middle" font-size="13.8" >FLBB Backscatter channel (counts)</text>
<rect x="306" y="174" width="87" height="324" fill="#cdeffa"/>
<line x1="364.00" y1="174.00" x2="364.00" y2="498.00" stroke="#ff5f66" stroke-width="0.5" stroke-opacity="0.35"/>
<polyline points="364.0,175.3 364.0,177.5 344.4,178.6 360.0,179.6 361.0,181.5 361.5,184.0 362.3,187.0 363.0,191.0 363.4,196.0 363.5,205.0 363.5,215.0 363.5,225.0 363.5,234.0 363.3,240.3 363.3,247.6 363.3,255.0 363.3,262.4 363.3,269.7 363.3,277.1 363.3,284.5 363.3,291.8 363.3,299.2 363.3,306.5 363.3,313.9 363.3,321.3 363.3,336.0 363.3,350.7 363.3,365.5 363.3,380.2 363.3,394.9 363.3,409.6" fill="none" stroke="#ff5f66" stroke-width="0.7" stroke-opacity="0.8" stroke-linejoin="round"/>
<path d="M362.6,175.5 L365.7,175.5 L365.7,178.5 L365.0,180.0 L364.6,185.0 L364.8,190.0 L365.0,200.0 L365.0,234.0 L362.3,234.0 L362.2,215.0 L362.3,201.6 L362.0,193.7 L360.7,189.0 L359.0,185.0 L356.7,181.7 L356.6,179.8 L358.2,179.0 L362.0,178.4Z" fill="#ff5f66" stroke="#ff5f66" stroke-width="1.1" stroke-linejoin="round"/>
<path d="M342.8,177.0h3.2v3.2h-3.2zM361.7,238.7h3.2v3.2h-3.2zM361.7,246.0h3.2v3.2h-3.2zM361.7,253.4h3.2v3.2h-3.2zM361.7,260.8h3.2v3.2h-3.2zM361.7,268.1h3.2v3.2h-3.2zM361.7,275.5h3.2v3.2h-3.2zM361.7,282.9h3.2v3.2h-3.2zM361.7,290.2h3.2v3.2h-3.2zM361.7,297.6h3.2v3.2h-3.2zM361.7,304.9h3.2v3.2h-3.2zM361.7,312.3h3.2v3.2h-3.2zM361.7,319.7h3.2v3.2h-3.2zM361.7,334.4h3.2v3.2h-3.2zM361.7,349.1h3.2v3.2h-3.2zM361.7,363.9h3.2v3.2h-3.2zM361.7,378.6h3.2v3.2h-3.2zM361.7,393.3h3.2v3.2h-3.2zM361.7,408.0h3.2v3.2h-3.2z" fill="#ff5f66"/>
<line x1="306.00" y1="173.00" x2="306.00" y2="499.00" stroke="#595900" stroke-width="2" />
<line x1="306.00" y1="174.00" x2="300.00" y2="174.00" stroke="#595900" stroke-width="1.6" />
<line x1="306.00" y1="181.36" x2="302.80" y2="181.36" stroke="#595900" stroke-width="1.15" />
<line x1="306.00" y1="188.73" x2="302.80" y2="188.73" stroke="#595900" stroke-width="1.15" />
<line x1="306.00" y1="196.09" x2="302.80" y2="196.09" stroke="#595900" stroke-width="1.15" />
<line x1="306.00" y1="203.45" x2="300.00" y2="203.45" stroke="#595900" stroke-width="1.6" />
<line x1="306.00" y1="210.82" x2="302.80" y2="210.82" stroke="#595900" stroke-width="1.15" />
<line x1="306.00" y1="218.18" x2="302.80" y2="218.18" stroke="#595900" stroke-width="1.15" />
<line x1="306.00" y1="225.55" x2="302.80" y2="225.55" stroke="#595900" stroke-width="1.15" />
<line x1="306.00" y1="232.91" x2="300.00" y2="232.91" stroke="#595900" stroke-width="1.6" />
<line x1="306.00" y1="240.27" x2="302.80" y2="240.27" stroke="#595900" stroke-width="1.15" />
<line x1="306.00" y1="247.64" x2="302.80" y2="247.64" stroke="#595900" stroke-width="1.15" />
<line x1="306.00" y1="255.00" x2="302.80" y2="255.00" stroke="#595900" stroke-width="1.15" />
<line x1="306.00" y1="262.36" x2="300.00" y2="262.36" stroke="#595900" stroke-width="1.6" />
<line x1="306.00" y1="269.73" x2="302.80" y2="269.73" stroke="#595900" stroke-width="1.15" />
<line x1="306.00" y1="277.09" x2="302.80" y2="277.09" stroke="#595900" stroke-width="1.15" />
<line x1="306.00" y1="284.45" x2="302.80" y2="284.45" stroke="#595900" stroke-width="1.15" />
<line x1="306.00" y1="291.82" x2="300.00" y2="291.82" stroke="#595900" stroke-width="1.6" />
<line x1="306.00" y1="299.18" x2="302.80" y2="299.18" stroke="#595900" stroke-width="1.15" />
<line x1="306.00" y1="306.55" x2="302.80" y2="306.55" stroke="#595900" stroke-width="1.15" />
<line x1="306.00" y1="313.91" x2="302.80" y2="313.91" stroke="#595900" stroke-width="1.15" />
<line x1="306.00" y1="321.27" x2="300.00" y2="321.27" stroke="#595900" stroke-width="1.6" />
<line x1="306.00" y1="328.64" x2="302.80" y2="328.64" stroke="#595900" stroke-width="1.15" />
<line x1="306.00" y1="336.00" x2="302.80" y2="336.00" stroke="#595900" stroke-width="1.15" />
<line x1="306.00" y1="343.36" x2="302.80" y2="343.36" stroke="#595900" stroke-width="1.15" />
<line x1="306.00" y1="350.73" x2="300.00" y2="350.73" stroke="#595900" stroke-width="1.6" />
<line x1="306.00" y1="358.09" x2="302.80" y2="358.09" stroke="#595900" stroke-width="1.15" />
<line x1="306.00" y1="365.45" x2="302.80" y2="365.45" stroke="#595900" stroke-width="1.15" />
<line x1="306.00" y1="372.82" x2="302.80" y2="372.82" stroke="#595900" stroke-width="1.15" />
<line x1="306.00" y1="380.18" x2="300.00" y2="380.18" stroke="#595900" stroke-width="1.6" />
<line x1="306.00" y1="387.55" x2="302.80" y2="387.55" stroke="#595900" stroke-width="1.15" />
<line x1="306.00" y1="394.91" x2="302.80" y2="394.91" stroke="#595900" stroke-width="1.15" />
<line x1="306.00" y1="402.27" x2="302.80" y2="402.27" stroke="#595900" stroke-width="1.15" />
<line x1="306.00" y1="409.64" x2="300.00" y2="409.64" stroke="#595900" stroke-width="1.6" />
<line x1="306.00" y1="417.00" x2="302.80" y2="417.00" stroke="#595900" stroke-width="1.15" />
<line x1="306.00" y1="424.36" x2="302.80" y2="424.36" stroke="#595900" stroke-width="1.15" />
<line x1="306.00" y1="431.73" x2="302.80" y2="431.73" stroke="#595900" stroke-width="1.15" />
<line x1="306.00" y1="439.09" x2="300.00" y2="439.09" stroke="#595900" stroke-width="1.6" />
<line x1="306.00" y1="446.45" x2="302.80" y2="446.45" stroke="#595900" stroke-width="1.15" />
<line x1="306.00" y1="453.82" x2="302.80" y2="453.82" stroke="#595900" stroke-width="1.15" />
<line x1="306.00" y1="461.18" x2="302.80" y2="461.18" stroke="#595900" stroke-width="1.15" />
<line x1="306.00" y1="468.55" x2="300.00" y2="468.55" stroke="#595900" stroke-width="1.6" />
<line x1="306.00" y1="475.91" x2="302.80" y2="475.91" stroke="#595900" stroke-width="1.15" />
<line x1="306.00" y1="483.27" x2="302.80" y2="483.27" stroke="#595900" stroke-width="1.15" />
<line x1="306.00" y1="490.64" x2="302.80" y2="490.64" stroke="#595900" stroke-width="1.15" />
<line x1="306.00" y1="498.00" x2="300.00" y2="498.00" stroke="#595900" stroke-width="1.6" />
<line x1="393.00" y1="173.00" x2="393.00" y2="499.00" stroke="#595900" stroke-width="2" />
<line x1="393.00" y1="174.00" x2="399.00" y2="174.00" stroke="#595900" stroke-width="1.6" />
<line x1="393.00" y1="181.36" x2="396.20" y2="181.36" stroke="#595900" stroke-width="1.15" />
<line x1="393.00" y1="188.73" x2="396.20" y2="188.73" stroke="#595900" stroke-width="1.15" />
<line x1="393.00" y1="196.09" x2="396.20" y2="196.09" stroke="#595900" stroke-width="1.15" />
<line x1="393.00" y1="203.45" x2="399.00" y2="203.45" stroke="#595900" stroke-width="1.6" />
<line x1="393.00" y1="210.82" x2="396.20" y2="210.82" stroke="#595900" stroke-width="1.15" />
<line x1="393.00" y1="218.18" x2="396.20" y2="218.18" stroke="#595900" stroke-width="1.15" />
<line x1="393.00" y1="225.55" x2="396.20" y2="225.55" stroke="#595900" stroke-width="1.15" />
<line x1="393.00" y1="232.91" x2="399.00" y2="232.91" stroke="#595900" stroke-width="1.6" />
<line x1="393.00" y1="240.27" x2="396.20" y2="240.27" stroke="#595900" stroke-width="1.15" />
<line x1="393.00" y1="247.64" x2="396.20" y2="247.64" stroke="#595900" stroke-width="1.15" />
<line x1="393.00" y1="255.00" x2="396.20" y2="255.00" stroke="#595900" stroke-width="1.15" />
<line x1="393.00" y1="262.36" x2="399.00" y2="262.36" stroke="#595900" stroke-width="1.6" />
<line x1="393.00" y1="269.73" x2="396.20" y2="269.73" stroke="#595900" stroke-width="1.15" />
<line x1="393.00" y1="277.09" x2="396.20" y2="277.09" stroke="#595900" stroke-width="1.15" />
<line x1="393.00" y1="284.45" x2="396.20" y2="284.45" stroke="#595900" stroke-width="1.15" />
<line x1="393.00" y1="291.82" x2="399.00" y2="291.82" stroke="#595900" stroke-width="1.6" />
<line x1="393.00" y1="299.18" x2="396.20" y2="299.18" stroke="#595900" stroke-width="1.15" />
<line x1="393.00" y1="306.55" x2="396.20" y2="306.55" stroke="#595900" stroke-width="1.15" />
<line x1="393.00" y1="313.91" x2="396.20" y2="313.91" stroke="#595900" stroke-width="1.15" />
<line x1="393.00" y1="321.27" x2="399.00" y2="321.27" stroke="#595900" stroke-width="1.6" />
<line x1="393.00" y1="328.64" x2="396.20" y2="328.64" stroke="#595900" stroke-width="1.15" />
<line x1="393.00" y1="336.00" x2="396.20" y2="336.00" stroke="#595900" stroke-width="1.15" />
<line x1="393.00" y1="343.36" x2="396.20" y2="343.36" stroke="#595900" stroke-width="1.15" />
<line x1="393.00" y1="350.73" x2="399.00" y2="350.73" stroke="#595900" stroke-width="1.6" />
<line x1="393.00" y1="358.09" x2="396.20" y2="358.09" stroke="#595900" stroke-width="1.15" />
<line x1="393.00" y1="365.45" x2="396.20" y2="365.45" stroke="#595900" stroke-width="1.15" />
<line x1="393.00" y1="372.82" x2="396.20" y2="372.82" stroke="#595900" stroke-width="1.15" />
<line x1="393.00" y1="380.18" x2="399.00" y2="380.18" stroke="#595900" stroke-width="1.6" />
<line x1="393.00" y1="387.55" x2="396.20" y2="387.55" stroke="#595900" stroke-width="1.15" />
<line x1="393.00" y1="394.91" x2="396.20" y2="394.91" stroke="#595900" stroke-width="1.15" />
<line x1="393.00" y1="402.27" x2="396.20" y2="402.27" stroke="#595900" stroke-width="1.15" />
<line x1="393.00" y1="409.64" x2="399.00" y2="409.64" stroke="#595900" stroke-width="1.6" />
<line x1="393.00" y1="417.00" x2="396.20" y2="417.00" stroke="#595900" stroke-width="1.15" />
<line x1="393.00" y1="424.36" x2="396.20" y2="424.36" stroke="#595900" stroke-width="1.15" />
<line x1="393.00" y1="431.73" x2="396.20" y2="431.73" stroke="#595900" stroke-width="1.15" />
<line x1="393.00" y1="439.09" x2="399.00" y2="439.09" stroke="#595900" stroke-width="1.6" />
<line x1="393.00" y1="446.45" x2="396.20" y2="446.45" stroke="#595900" stroke-width="1.15" />
<line x1="393.00" y1="453.82" x2="396.20" y2="453.82" stroke="#595900" stroke-width="1.15" />
<line x1="393.00" y1="461.18" x2="396.20" y2="461.18" stroke="#595900" stroke-width="1.15" />
<line x1="393.00" y1="468.55" x2="399.00" y2="468.55" stroke="#595900" stroke-width="1.6" />
<line x1="393.00" y1="475.91" x2="396.20" y2="475.91" stroke="#595900" stroke-width="1.15" />
<line x1="393.00" y1="483.27" x2="396.20" y2="483.27" stroke="#595900" stroke-width="1.15" />
<line x1="393.00" y1="490.64" x2="396.20" y2="490.64" stroke="#595900" stroke-width="1.15" />
<line x1="393.00" y1="498.00" x2="399.00" y2="498.00" stroke="#595900" stroke-width="1.6" />
<line x1="305.00" y1="174.00" x2="394.00" y2="174.00" stroke="#ff5f66" stroke-width="2" />
<line x1="306.00" y1="174.00" x2="306.00" y2="168.00" stroke="#ff5f66" stroke-width="1.8" />
<line x1="311.80" y1="174.00" x2="311.80" y2="170.80" stroke="#ff5f66" stroke-width="1.5" />
<line x1="317.60" y1="174.00" x2="317.60" y2="170.80" stroke="#ff5f66" stroke-width="1.5" />
<line x1="323.40" y1="174.00" x2="323.40" y2="170.80" stroke="#ff5f66" stroke-width="1.5" />
<line x1="329.20" y1="174.00" x2="329.20" y2="170.80" stroke="#ff5f66" stroke-width="1.5" />
<line x1="335.00" y1="174.00" x2="335.00" y2="168.00" stroke="#ff5f66" stroke-width="1.8" />
<line x1="340.80" y1="174.00" x2="340.80" y2="170.80" stroke="#ff5f66" stroke-width="1.5" />
<line x1="346.60" y1="174.00" x2="346.60" y2="170.80" stroke="#ff5f66" stroke-width="1.5" />
<line x1="352.40" y1="174.00" x2="352.40" y2="170.80" stroke="#ff5f66" stroke-width="1.5" />
<line x1="358.20" y1="174.00" x2="358.20" y2="170.80" stroke="#ff5f66" stroke-width="1.5" />
<line x1="364.00" y1="174.00" x2="364.00" y2="168.00" stroke="#ff5f66" stroke-width="1.8" />
<line x1="369.80" y1="174.00" x2="369.80" y2="170.80" stroke="#ff5f66" stroke-width="1.5" />
<line x1="375.60" y1="174.00" x2="375.60" y2="170.80" stroke="#ff5f66" stroke-width="1.5" />
<line x1="381.40" y1="174.00" x2="381.40" y2="170.80" stroke="#ff5f66" stroke-width="1.5" />
<line x1="387.20" y1="174.00" x2="387.20" y2="170.80" stroke="#ff5f66" stroke-width="1.5" />
<line x1="393.00" y1="174.00" x2="393.00" y2="168.00" stroke="#ff5f66" stroke-width="1.8" />
<line x1="305.00" y1="498.00" x2="394.00" y2="498.00" stroke="#ff5f66" stroke-width="2" />
<line x1="306.00" y1="498.00" x2="306.00" y2="504.00" stroke="#ff5f66" stroke-width="1.8" />
<text x="306.00" y="517.80" fill="#ff5f66" stroke="#ff5f66" stroke-width="0.85" text-anchor="middle" font-size="13.8" >-1.0</text>
<line x1="311.80" y1="498.00" x2="311.80" y2="501.20" stroke="#ff5f66" stroke-width="1.5" />
<line x1="317.60" y1="498.00" x2="317.60" y2="501.20" stroke="#ff5f66" stroke-width="1.5" />
<line x1="323.40" y1="498.00" x2="323.40" y2="501.20" stroke="#ff5f66" stroke-width="1.5" />
<line x1="329.20" y1="498.00" x2="329.20" y2="501.20" stroke="#ff5f66" stroke-width="1.5" />
<line x1="335.00" y1="498.00" x2="335.00" y2="504.00" stroke="#ff5f66" stroke-width="1.8" />
<text x="335.00" y="517.80" fill="#ff5f66" stroke="#ff5f66" stroke-width="0.85" text-anchor="middle" font-size="13.8" >-0.5</text>
<line x1="340.80" y1="498.00" x2="340.80" y2="501.20" stroke="#ff5f66" stroke-width="1.5" />
<line x1="346.60" y1="498.00" x2="346.60" y2="501.20" stroke="#ff5f66" stroke-width="1.5" />
<line x1="352.40" y1="498.00" x2="352.40" y2="501.20" stroke="#ff5f66" stroke-width="1.5" />
<line x1="358.20" y1="498.00" x2="358.20" y2="501.20" stroke="#ff5f66" stroke-width="1.5" />
<line x1="364.00" y1="498.00" x2="364.00" y2="504.00" stroke="#ff5f66" stroke-width="1.8" />
<text x="364.00" y="517.80" fill="#ff5f66" stroke="#ff5f66" stroke-width="0.85" text-anchor="middle" font-size="13.8" >0.0</text>
<line x1="369.80" y1="498.00" x2="369.80" y2="501.20" stroke="#ff5f66" stroke-width="1.5" />
<line x1="375.60" y1="498.00" x2="375.60" y2="501.20" stroke="#ff5f66" stroke-width="1.5" />
<line x1="381.40" y1="498.00" x2="381.40" y2="501.20" stroke="#ff5f66" stroke-width="1.5" />
<line x1="387.20" y1="498.00" x2="387.20" y2="501.20" stroke="#ff5f66" stroke-width="1.5" />
<line x1="393.00" y1="498.00" x2="393.00" y2="504.00" stroke="#ff5f66" stroke-width="1.8" />
<text x="393.00" y="517.80" fill="#ff5f66" stroke="#ff5f66" stroke-width="0.85" text-anchor="middle" font-size="13.8" >0.5</text>
<text x="349.5" y="535.8" fill="#ff5f66" stroke="#ff5f66" stroke-width="0.85" text-anchor="middle" font-size="13.8">ΔT= T<tspan font-size="9.6" dy="-5">Opt</tspan><tspan dy="5"> - T</tspan><tspan font-size="9.6" dy="-5">SBE</tspan><tspan dy="5"> (˚C)</tspan></text>
<rect x="432" y="174" width="108.60000000000002" height="108" fill="#cdeffa"/>
<path d="M439.3,174.0 L437.4,174.6 L435.6,175.2 L433.8,175.9 L432.0,176.5 L432.0,176.5M451.4,174.0 L449.2,174.8 L447.4,175.4 L445.6,176.0 L443.8,176.6 L442.0,177.2 L440.1,177.9 L438.0,178.6 L435.8,179.4 L433.8,180.1 L432.0,180.7 L432.0,180.7M463.6,174.0 L461.3,174.8 L459.1,175.5 L457.3,176.1 L455.5,176.8 L453.7,177.4 L451.9,178.0 L450.1,178.6 L447.9,179.4 L445.7,180.2 L443.8,180.9 L442.0,181.5 L440.1,182.2 L438.3,182.8 L436.5,183.5 L434.7,184.1 L432.8,184.8 L432.0,185.1M475.8,174.0 L473.6,174.7 L471.8,175.3 L470.0,176.0 L468.2,176.6 L466.4,177.2 L464.5,177.9 L462.3,178.6 L460.1,179.4 L458.2,180.0 L456.4,180.7 L454.6,181.3 L452.8,182.0 L451.0,182.6 L449.2,183.3 L447.1,184.0 L444.9,184.8 L442.9,185.6 L441.1,186.2 L439.2,186.9 L437.4,187.6 L435.6,188.2 L433.8,188.9 L432.0,189.6 L432.0,189.6M487.9,174.0 L485.6,174.8 L483.6,175.5 L481.8,176.1 L480.0,176.7 L478.2,177.3 L476.3,178.0 L474.4,178.6 L472.2,179.4 L470.0,180.2 L468.2,180.8 L466.4,181.4 L464.6,182.1 L462.8,182.7 L461.0,183.4 L459.1,184.0 L457.0,184.8 L454.9,185.6 L452.8,186.3 L451.0,187.0 L449.2,187.7 L447.4,188.4 L445.6,189.0 L443.8,189.7 L442.0,190.4 L440.1,191.1 L438.3,191.8 L436.4,192.5 L434.5,193.3 L432.5,194.1 L432.0,194.2M500.1,174.0 L498.1,174.7 L496.3,175.3 L494.4,175.9 L492.6,176.5 L490.8,177.1 L488.8,177.9 L486.5,178.6 L484.5,179.3 L482.7,180.0 L480.9,180.6 L479.1,181.2 L477.2,181.9 L475.4,182.5 L473.4,183.3 L471.3,184.0 L469.2,184.8 L467.3,185.5 L465.5,186.1 L463.7,186.8 L461.9,187.5 L460.1,188.1 L458.2,188.8 L456.4,189.5 L454.6,190.2 L452.5,191.0 L450.5,191.7 L448.5,192.5 L446.5,193.3 L444.7,194.0 L442.9,194.7 L441.1,195.4 L439.2,196.1 L437.4,196.9 L435.6,197.6 L433.8,198.3 L432.0,199.1 L432.0,199.1M512.2,174.0 L509.9,174.8 L508.0,175.4 L506.2,176.0 L504.4,176.7 L502.6,177.3 L500.8,177.9 L498.7,178.6 L496.4,179.4 L494.4,180.1 L492.6,180.7 L490.8,181.4 L489.0,182.0 L487.2,182.7 L485.4,183.3 L483.4,184.0 L481.3,184.8 L479.1,185.6 L477.2,186.3 L475.4,186.9 L473.6,187.6 L471.8,188.3 L470.0,188.9 L468.2,189.6 L466.4,190.3 L464.6,191.0 L462.6,191.7 L460.6,192.5 L458.6,193.3 L456.6,194.1 L454.6,194.8 L452.8,195.5 L451.0,196.3 L449.2,197.0 L447.4,197.7 L445.6,198.4 L443.8,199.2 L442.0,199.9 L440.1,200.6 L438.3,201.4 L436.5,202.2 L434.7,202.9 L432.9,203.7 L432.0,204.1M524.4,174.0 L522.5,174.6 L520.7,175.2 L518.9,175.9 L517.1,176.5 L515.3,177.1 L513.0,177.9 L510.8,178.6 L508.9,179.3 L507.1,179.9 L505.3,180.5 L503.5,181.2 L501.7,181.8 L499.8,182.5 L497.6,183.3 L495.5,184.0 L493.5,184.7 L491.7,185.4 L489.9,186.0 L488.1,186.7 L486.3,187.4 L484.5,188.0 L482.7,188.7 L480.8,189.4 L478.7,190.2 L476.7,191.0 L474.7,191.7 L472.7,192.5 L470.9,193.2 L469.1,193.9 L467.3,194.6 L465.5,195.3 L463.7,196.0 L461.9,196.7 L460.1,197.4 L458.2,198.2 L456.4,198.9 L454.6,199.6 L452.8,200.4 L451.0,201.1 L449.2,201.9 L447.4,202.6 L445.6,203.4 L443.8,204.2 L442.0,204.9 L440.1,205.7 L438.3,206.5 L436.5,207.3 L434.7,208.1 L432.9,208.9 L432.0,209.3M536.5,174.0 L534.3,174.7 L532.5,175.4 L530.6,176.0 L528.8,176.6 L527.0,177.2 L525.1,177.9 L522.9,178.6 L520.7,179.4 L518.9,180.0 L517.1,180.7 L515.3,181.3 L513.5,181.9 L511.6,182.6 L509.7,183.3 L507.6,184.0 L505.4,184.8 L503.5,185.5 L501.7,186.2 L499.9,186.8 L498.1,187.5 L496.3,188.2 L494.4,188.8 L492.6,189.5 L490.8,190.2 L488.8,191.0 L486.7,191.7 L484.7,192.5 L482.7,193.3 L480.9,194.0 L479.1,194.7 L477.2,195.4 L475.4,196.1 L473.6,196.8 L471.8,197.6 L470.0,198.3 L468.2,199.0 L466.4,199.7 L464.6,200.5 L462.8,201.2 L461.0,202.0 L459.1,202.7 L457.3,203.5 L455.5,204.3 L453.7,205.0 L451.9,205.8 L450.1,206.6 L448.3,207.4 L446.5,208.2 L444.7,209.0 L442.9,209.8 L441.1,210.6 L439.2,211.4 L437.4,212.2 L435.6,213.1 L433.8,213.9 L432.0,214.8 L432.0,214.8M540.6,176.7 L538.8,177.3 L537.0,178.0 L535.0,178.6 L532.8,179.4 L530.6,180.1 L528.8,180.8 L527.0,181.4 L525.2,182.1 L523.4,182.7 L521.6,183.3 L519.7,184.0 L517.5,184.8 L515.4,185.6 L513.5,186.3 L511.6,186.9 L509.8,187.6 L508.0,188.3 L506.2,188.9 L504.4,189.6 L502.6,190.3 L500.8,191.0 L498.8,191.7 L496.8,192.5 L494.7,193.3 L492.7,194.1 L490.8,194.8 L489.0,195.5 L487.2,196.2 L485.4,196.9 L483.6,197.7 L481.8,198.4 L480.0,199.1 L478.2,199.8 L476.3,200.6 L474.5,201.3 L472.7,202.1 L470.9,202.8 L469.1,203.6 L467.3,204.4 L465.5,205.1 L463.7,205.9 L461.9,206.7 L460.1,207.5 L458.2,208.3 L456.4,209.1 L454.6,209.9 L452.8,210.7 L451.0,211.5 L449.2,212.3 L447.4,213.2 L445.6,214.0 L443.8,214.8 L442.0,215.7 L440.4,216.4 L438.8,217.2 L437.2,218.0 L435.6,218.8 L433.8,219.7 L432.0,220.6 L432.0,220.6M540.6,180.9 L538.8,181.5 L537.0,182.2 L535.2,182.8 L533.4,183.5 L531.6,184.1 L529.6,184.8 L527.5,185.6 L525.4,186.3 L523.4,187.1 L521.6,187.7 L519.8,188.4 L518.0,189.1 L516.2,189.7 L514.4,190.4 L512.5,191.1 L510.7,191.8 L508.8,192.5 L506.8,193.3 L504.8,194.1 L502.8,194.8 L500.8,195.6 L499.0,196.3 L497.2,197.0 L495.4,197.8 L493.5,198.5 L491.7,199.2 L489.9,199.9 L488.1,200.7 L486.3,201.4 L484.5,202.2 L482.7,202.9 L480.9,203.7 L479.1,204.4 L477.2,205.2 L475.4,206.0 L473.6,206.8 L471.8,207.6 L470.0,208.3 L468.2,209.1 L466.4,209.9 L464.6,210.8 L462.8,211.6 L461.0,212.4 L459.1,213.2 L457.3,214.1 L455.6,214.9 L454.0,215.7 L452.3,216.4 L450.7,217.2 L449.1,218.0 L447.4,218.8 L445.6,219.7 L443.8,220.6 L442.0,221.5 L440.1,222.5 L438.4,223.4 L436.9,224.1 L435.4,224.9 L433.8,225.8 L432.0,226.8 L432.0,226.8M540.6,185.2 L538.8,185.8 L537.0,186.5 L535.2,187.2 L533.2,187.9 L531.1,188.7 L529.0,189.4 L527.0,190.2 L525.2,190.9 L523.4,191.5 L521.6,192.2 L519.8,192.9 L518.0,193.6 L516.2,194.3 L514.4,195.0 L512.5,195.7 L510.7,196.4 L508.9,197.1 L507.0,197.9 L505.0,198.7 L503.1,199.5 L501.2,200.2 L499.3,201.0 L497.4,201.8 L495.6,202.5 L493.7,203.3 L491.9,204.1 L490.1,204.9 L488.2,205.6 L486.4,206.4 L484.7,207.2 L482.9,207.9 L481.1,208.7 L479.4,209.5 L477.6,210.3 L475.9,211.0 L474.2,211.8 L472.5,212.6 L470.8,213.3 L469.1,214.1 L467.3,215.0 L465.5,215.8 L463.7,216.7 L461.9,217.6 L460.1,218.4 L458.2,219.3 L456.4,220.2 L454.8,221.1 L453.2,221.8 L451.7,222.6 L450.1,223.4 L448.3,224.4 L446.5,225.3 L444.7,226.3 L442.9,227.2 L441.5,228.0 L440.1,228.8 L438.3,229.8 L436.5,230.8 L434.7,231.8 L433.4,232.6 L432.0,233.4 L432.0,233.4M540.6,189.6 L538.8,190.3 L537.0,191.0 L534.9,191.7 L532.9,192.5 L530.9,193.3 L528.8,194.1 L527.0,194.8 L525.2,195.5 L523.4,196.2 L521.6,196.9 L519.8,197.6 L518.0,198.3 L516.2,199.0 L514.4,199.8 L512.5,200.5 L510.7,201.2 L508.9,202.0 L507.1,202.7 L505.3,203.5 L503.5,204.2 L501.7,205.0 L499.9,205.8 L498.1,206.5 L496.3,207.3 L494.4,208.1 L492.6,208.9 L490.8,209.7 L489.0,210.5 L487.2,211.3 L485.4,212.1 L483.6,213.0 L481.8,213.8 L480.0,214.6 L478.2,215.5 L476.3,216.3 L474.5,217.2 L472.9,218.0 L471.3,218.7 L469.8,219.5 L468.2,220.3 L466.4,221.2 L464.6,222.1 L462.8,223.0 L461.0,224.0 L459.1,224.9 L457.7,225.7 L456.2,226.5 L454.6,227.3 L452.8,228.3 L451.0,229.3 L449.2,230.3 L447.8,231.1 L446.5,231.9 L444.7,232.9 L442.9,234.0 L441.2,234.9 L440.0,235.7 L438.3,236.7 L436.5,237.9 L435.0,238.8 L433.8,239.6 L432.0,240.8 L432.0,240.8M540.6,194.2 L538.8,194.9 L536.9,195.6 L534.9,196.4 L532.9,197.1 L531.0,197.9 L529.0,198.7 L527.1,199.5 L525.2,200.2 L523.4,201.0 L521.6,201.7 L519.8,202.4 L518.0,203.2 L516.2,203.9 L514.4,204.7 L512.5,205.5 L510.7,206.2 L508.9,207.0 L507.1,207.8 L505.3,208.6 L503.5,209.4 L501.7,210.2 L499.9,211.0 L498.1,211.8 L496.4,212.6 L494.7,213.3 L493.0,214.1 L491.3,214.9 L489.7,215.7 L488.0,216.4 L486.3,217.3 L484.5,218.1 L482.7,219.0 L480.9,219.9 L479.1,220.8 L477.2,221.7 L475.4,222.6 L473.9,223.4 L472.4,224.1 L470.9,224.9 L469.1,225.9 L467.3,226.8 L465.5,227.8 L463.8,228.8 L462.4,229.5 L461.0,230.3 L459.1,231.3 L457.3,232.4 L455.6,233.4 L454.3,234.2 L452.8,235.1 L451.0,236.1 L449.2,237.3 L448.0,238.0 L446.5,239.0 L444.7,240.1 L443.2,241.1 L442.0,241.9 L440.1,243.2 L438.7,244.2 L437.4,245.1 L435.6,246.4 L434.4,247.3 L432.9,248.4 L432.0,249.1M540.6,198.9 L538.8,199.6 L537.0,200.3 L535.2,201.0 L533.4,201.8 L531.5,202.5 L529.7,203.3 L527.8,204.1 L526.0,204.9 L524.1,205.6 L522.3,206.4 L520.5,207.2 L518.7,207.9 L516.9,208.7 L515.2,209.5 L513.4,210.3 L511.6,211.1 L509.8,211.9 L508.0,212.7 L506.2,213.5 L504.4,214.3 L502.6,215.2 L500.8,216.0 L499.0,216.9 L497.2,217.7 L495.4,218.6 L493.5,219.5 L491.9,220.3 L490.4,221.1 L488.8,221.8 L487.2,222.6 L485.4,223.6 L483.6,224.5 L481.8,225.4 L480.0,226.4 L478.4,227.2 L477.0,228.0 L475.4,228.8 L473.6,229.8 L471.8,230.8 L470.0,231.9 L468.7,232.6 L467.3,233.4 L465.5,234.5 L463.7,235.6 L462.2,236.5 L460.9,237.3 L459.1,238.4 L457.3,239.5 L456.1,240.3 L454.6,241.3 L452.8,242.5 L451.5,243.4 L450.1,244.4 L448.3,245.7 L447.1,246.5 L445.6,247.6 L444.0,248.8 L442.9,249.7 L441.1,251.1 L440.1,251.9 L438.3,253.4 L437.3,254.2 L435.6,255.7 L434.7,256.5 L433.1,258.1 L432.0,259.1 L432.0,259.1M540.6,203.7 L538.8,204.5 L537.0,205.3 L535.2,206.0 L533.4,206.8 L531.6,207.6 L529.7,208.3 L527.9,209.1 L526.1,209.9 L524.3,210.7 L522.5,211.5 L520.7,212.3 L518.9,213.2 L517.1,214.0 L515.3,214.8 L513.5,215.7 L511.8,216.4 L510.2,217.2 L508.6,218.0 L507.0,218.7 L505.3,219.5 L503.5,220.4 L501.7,221.3 L499.9,222.2 L498.1,223.1 L496.3,224.1 L494.6,224.9 L493.1,225.7 L491.7,226.5 L489.9,227.4 L488.1,228.4 L486.3,229.3 L484.5,230.3 L483.2,231.1 L481.8,231.9 L480.0,232.9 L478.2,234.0 L476.5,234.9 L475.2,235.7 L473.6,236.7 L471.8,237.8 L470.2,238.8 L469.0,239.6 L467.3,240.7 L465.5,241.8 L464.3,242.7 L462.8,243.7 L461.0,244.9 L459.8,245.7 L458.2,246.9 L456.6,248.1 L455.5,248.9 L453.7,250.3 L452.6,251.1 L451.0,252.5 L449.8,253.5 L448.3,254.7 L447.1,255.8 L445.6,257.2 L444.6,258.1 L443.0,259.6 L442.0,260.6 L440.7,261.9 L439.3,263.5 L438.3,264.5 L437.3,265.8 L436.0,267.3 L434.8,268.9 L433.8,270.3 L432.9,271.6 L432.0,273.1 L432.0,273.1M540.6,208.8 L538.8,209.6 L537.0,210.4 L535.2,211.2 L533.4,212.0 L531.6,212.8 L529.7,213.6 L527.9,214.5 L526.1,215.3 L524.3,216.1 L522.5,217.0 L520.7,217.8 L518.9,218.7 L517.2,219.5 L515.6,220.3 L514.1,221.1 L512.5,221.8 L510.7,222.7 L508.9,223.6 L507.1,224.6 L505.3,225.5 L503.5,226.4 L502.0,227.2 L500.6,228.0 L499.0,228.9 L497.2,229.9 L495.4,230.9 L493.6,231.9 L492.2,232.6 L490.8,233.4 L489.0,234.5 L487.2,235.6 L485.7,236.5 L484.4,237.3 L482.7,238.3 L480.9,239.5 L479.5,240.3 L478.2,241.2 L476.3,242.4 L474.8,243.4 L473.6,244.2 L471.8,245.5 L470.4,246.5 L469.1,247.4 L467.3,248.8 L466.2,249.6 L464.6,250.9 L463.3,251.9 L461.9,253.0 L460.4,254.2 L459.1,255.3 L457.8,256.5 L456.4,257.8 L455.3,258.9 L453.7,260.4 L452.8,261.3 L451.4,262.7 L450.1,264.2 L449.2,265.2 L448.0,266.6 L446.8,268.1 L445.7,269.7 L444.7,271.0 L443.8,272.4 L442.9,273.9 L442.0,275.5 L441.1,277.2 L440.3,278.9 L439.6,280.5 L439.1,282.0 L439.1,282.0M540.6,214.1 L538.9,214.9 L537.2,215.7 L535.6,216.4 L533.9,217.2 L532.3,218.0 L530.6,218.8 L528.8,219.6 L527.0,220.5 L525.2,221.4 L523.4,222.3 L521.6,223.2 L519.8,224.1 L518.2,224.9 L516.8,225.7 L515.3,226.5 L513.5,227.4 L511.6,228.4 L509.8,229.4 L508.1,230.3 L506.7,231.1 L505.3,231.9 L503.5,232.9 L501.7,233.9 L500.0,234.9 L498.7,235.7 L497.2,236.6 L495.4,237.7 L493.6,238.8 L492.4,239.6 L490.8,240.6 L489.0,241.7 L487.6,242.7 L486.3,243.5 L484.5,244.8 L483.1,245.7 L481.8,246.7 L480.0,248.0 L478.8,248.8 L477.2,250.0 L475.8,251.1 L474.5,252.2 L472.9,253.5 L471.8,254.4 L470.2,255.8 L469.1,256.7 L467.6,258.1 L466.4,259.2 L465.2,260.4 L463.7,261.9 L462.8,262.9 L461.5,264.3 L460.1,265.8 L459.1,267.0 L458.2,268.1 L457.0,269.7 L455.9,271.2 L454.9,272.7 L453.9,274.3 L453.0,275.8 L452.2,277.4 L451.5,278.9 L450.9,280.5 L450.3,282.0M540.6,219.7 L538.8,220.6 L537.0,221.4 L535.2,222.3 L533.4,223.2 L531.6,224.1 L530.1,224.9 L528.6,225.7 L527.0,226.5 L525.2,227.4 L523.4,228.4 L521.6,229.4 L519.9,230.3 L518.5,231.1 L517.1,231.9 L515.3,232.9 L513.5,233.9 L511.7,234.9 L510.4,235.7 L508.9,236.6 L507.1,237.7 L505.3,238.8 L504.1,239.6 L502.6,240.5 L500.8,241.7 L499.3,242.7 L498.1,243.5 L496.3,244.7 L494.7,245.7 L493.5,246.6 L491.7,247.9 L490.5,248.8 L489.0,249.9 L487.4,251.1 L486.3,252.0 L484.5,253.5 L483.6,254.2 L481.8,255.7 L480.9,256.5 L479.1,258.1 L478.2,259.0 L476.7,260.4 L475.4,261.6 L474.4,262.7 L472.9,264.3 L471.8,265.5 L470.9,266.6 L469.6,268.1 L468.4,269.7 L467.3,271.2 L466.4,272.5 L465.5,273.9 L464.6,275.4 L463.7,277.1 L462.8,278.9 L462.1,280.5 L461.5,282.0 L461.5,282.0M540.6,225.6 L538.9,226.5 L537.4,227.2 L535.9,228.0 L534.3,228.9 L532.5,229.9 L530.6,230.9 L528.9,231.9 L527.5,232.6 L526.1,233.4 L524.3,234.4 L522.5,235.5 L520.8,236.5 L519.5,237.3 L518.0,238.2 L516.2,239.3 L514.5,240.3 L513.3,241.1 L511.6,242.2 L509.8,243.4 L508.6,244.2 L507.1,245.2 L505.3,246.5 L504.2,247.3 L502.6,248.4 L501.0,249.6 L499.9,250.5 L498.1,251.9 L497.0,252.7 L495.4,254.0 L494.2,255.0 L492.6,256.3 L491.5,257.3 L489.9,258.7 L489.0,259.6 L487.4,261.2 L486.3,262.2 L485.1,263.5 L483.7,265.0 L482.7,266.1 L481.6,267.3 L480.4,268.9 L479.2,270.4 L478.2,271.9 L477.2,273.2 L476.3,274.7 L475.4,276.2 L474.5,277.9 L473.7,279.7 L473.0,281.2 L472.7,282.0M540.6,231.9 L538.8,232.9 L537.0,233.9 L535.2,234.9 L533.8,235.7 L532.5,236.5 L530.6,237.6 L528.8,238.7 L527.5,239.6 L526.1,240.4 L524.3,241.6 L522.6,242.7 L521.4,243.4 L519.8,244.5 L518.0,245.7 L516.9,246.5 L515.3,247.7 L513.7,248.8 L512.5,249.7 L510.7,251.0 L509.6,251.9 L508.0,253.1 L506.7,254.2 L505.3,255.4 L503.9,256.5 L502.6,257.7 L501.3,258.9 L499.9,260.2 L498.8,261.2 L497.3,262.7 L496.3,263.8 L495.1,265.0 L493.7,266.6 L492.6,267.8 L491.7,268.9 L490.6,270.4 L489.4,272.0 L488.4,273.5 L487.4,275.1 L486.5,276.6 L485.7,278.1 L484.9,279.7 L484.2,281.2 L483.9,282.0M540.6,238.7 L539.1,239.6 L537.9,240.4 L536.1,241.5 L534.3,242.7 L533.1,243.4 L531.6,244.5 L529.7,245.7 L528.5,246.5 L527.0,247.6 L525.3,248.8 L524.2,249.6 L522.5,250.9 L521.1,251.9 L519.8,253.0 L518.2,254.2 L517.1,255.2 L515.4,256.5 L514.4,257.5 L512.8,258.9 L511.6,259.9 L510.3,261.2 L508.9,262.5 L508.0,263.5 L506.5,265.0 L505.3,266.4 L504.4,267.4 L503.2,268.9 L501.9,270.4 L500.8,272.0 L499.9,273.3 L499.0,274.6 L498.1,276.1 L497.2,277.7 L496.3,279.5 L495.4,281.2 L495.1,282.0M540.6,246.2 L539.0,247.3 L537.9,248.1 L536.1,249.4 L534.8,250.4 L533.4,251.4 L531.7,252.7 L530.6,253.5 L528.8,255.0 L527.9,255.8 L526.1,257.2 L525.2,258.1 L523.4,259.6 L522.5,260.5 L521.0,261.9 L519.8,263.1 L518.7,264.3 L517.2,265.8 L516.2,267.0 L515.2,268.1 L513.9,269.7 L512.7,271.2 L511.6,272.6 L510.7,273.9 L509.8,275.3 L508.9,276.8 L508.0,278.4 L507.1,280.2 L506.3,282.0 L506.3,282.0M540.6,254.8 L539.4,255.8 L537.9,257.0 L536.7,258.1 L535.2,259.4 L534.1,260.4 L532.5,261.9 L531.6,262.8 L530.1,264.3 L528.8,265.6 L527.9,266.6 L526.6,268.1 L525.3,269.7 L524.3,270.9 L523.4,272.0 L522.3,273.5 L521.3,275.1 L520.3,276.6 L519.4,278.1 L518.6,279.7 L517.9,281.2 L517.5,282.0M540.6,265.2 L539.3,266.6 L537.9,268.1 L537.0,269.2 L536.0,270.4 L534.8,272.0 L533.7,273.5 L532.6,275.1 L531.6,276.6 L530.7,278.1 L529.8,279.7 L529.1,281.2 L528.7,282.0M540.6,280.6 L539.9,282.0" fill="none" stroke="#444" stroke-width="0.5" stroke-opacity="0.85"/>
<path d="M485.2,196.0h5.4l-2.7,-4.7zM481.7,202.0h5.4l-2.7,-4.7zM479.9,206.6h5.4l-2.7,-4.7z" fill="#ff0000"/>
<polyline points="470.1,269.5 473.5,272.8 477.6,275.5" fill="none" stroke="#ff0000" stroke-width="4.2" stroke-linejoin="round" stroke-linecap="round"/>
<polyline points="482.9,209.1 483.5,214.0 483.7,219.7 482.5,224.0 480.6,228.7 479.0,233.0 477.6,237.8 475.8,242.5 473.9,246.8 472.0,251.5 470.1,255.9 468.8,260.0 468.3,263.4 468.6,266.5 470.1,269.5" fill="none" stroke="#ff0000" stroke-width="5.9" stroke-linejoin="round" stroke-linecap="round"/>
<polyline points="470.1,269.5 473.5,272.8 477.6,275.5" fill="none" stroke="#ff10f0" stroke-width="2.2" stroke-linejoin="round" stroke-linecap="round"/>
<polyline points="482.9,209.1 483.5,214.0 483.7,219.7 482.5,224.0 480.6,228.7 479.0,233.0 477.6,237.8 475.8,242.5 473.9,246.8 472.0,251.5 470.1,255.9 468.8,260.0 468.3,263.4 468.6,266.5 470.1,269.5" fill="none" stroke="#ff10f0" stroke-width="3.5" stroke-linejoin="round" stroke-linecap="round"/>
<circle cx="487.9" cy="194.0" r="1.7" fill="#f020e8"/>
<circle cx="484.4" cy="200.0" r="1.9" fill="#f070e8"/>
<circle cx="482.6" cy="204.6" r="1.9" fill="#f070e8"/>
<line x1="432.00" y1="173.00" x2="432.00" y2="283.00" stroke="#ee10ee" stroke-width="2" />
<line x1="432.00" y1="174.00" x2="426.00" y2="174.00" stroke="#ee10ee" stroke-width="2.3" />
<line x1="432.00" y1="177.09" x2="428.80" y2="177.09" stroke="#ee10ee" stroke-width="2.0" />
<line x1="432.00" y1="180.17" x2="428.80" y2="180.17" stroke="#ee10ee" stroke-width="2.0" />
<line x1="432.00" y1="183.26" x2="428.80" y2="183.26" stroke="#ee10ee" stroke-width="2.0" />
<line x1="432.00" y1="186.34" x2="428.80" y2="186.34" stroke="#ee10ee" stroke-width="2.0" />
<line x1="432.00" y1="189.43" x2="426.00" y2="189.43" stroke="#ee10ee" stroke-width="2.3" />
<line x1="432.00" y1="192.51" x2="428.80" y2="192.51" stroke="#ee10ee" stroke-width="2.0" />
<line x1="432.00" y1="195.60" x2="428.80" y2="195.60" stroke="#ee10ee" stroke-width="2.0" />
<line x1="432.00" y1="198.69" x2="428.80" y2="198.69" stroke="#ee10ee" stroke-width="2.0" />
<line x1="432.00" y1="201.77" x2="428.80" y2="201.77" stroke="#ee10ee" stroke-width="2.0" />
<line x1="432.00" y1="204.86" x2="426.00" y2="204.86" stroke="#ee10ee" stroke-width="2.3" />
<line x1="432.00" y1="207.94" x2="428.80" y2="207.94" stroke="#ee10ee" stroke-width="2.0" />
<line x1="432.00" y1="211.03" x2="428.80" y2="211.03" stroke="#ee10ee" stroke-width="2.0" />
<line x1="432.00" y1="214.11" x2="428.80" y2="214.11" stroke="#ee10ee" stroke-width="2.0" />
<line x1="432.00" y1="217.20" x2="428.80" y2="217.20" stroke="#ee10ee" stroke-width="2.0" />
<line x1="432.00" y1="220.29" x2="426.00" y2="220.29" stroke="#ee10ee" stroke-width="2.3" />
<line x1="432.00" y1="223.37" x2="428.80" y2="223.37" stroke="#ee10ee" stroke-width="2.0" />
<line x1="432.00" y1="226.46" x2="428.80" y2="226.46" stroke="#ee10ee" stroke-width="2.0" />
<line x1="432.00" y1="229.54" x2="428.80" y2="229.54" stroke="#ee10ee" stroke-width="2.0" />
<line x1="432.00" y1="232.63" x2="428.80" y2="232.63" stroke="#ee10ee" stroke-width="2.0" />
<line x1="432.00" y1="235.71" x2="426.00" y2="235.71" stroke="#ee10ee" stroke-width="2.3" />
<line x1="432.00" y1="238.80" x2="428.80" y2="238.80" stroke="#ee10ee" stroke-width="2.0" />
<line x1="432.00" y1="241.89" x2="428.80" y2="241.89" stroke="#ee10ee" stroke-width="2.0" />
<line x1="432.00" y1="244.97" x2="428.80" y2="244.97" stroke="#ee10ee" stroke-width="2.0" />
<line x1="432.00" y1="248.06" x2="428.80" y2="248.06" stroke="#ee10ee" stroke-width="2.0" />
<line x1="432.00" y1="251.14" x2="426.00" y2="251.14" stroke="#ee10ee" stroke-width="2.3" />
<line x1="432.00" y1="254.23" x2="428.80" y2="254.23" stroke="#ee10ee" stroke-width="2.0" />
<line x1="432.00" y1="257.31" x2="428.80" y2="257.31" stroke="#ee10ee" stroke-width="2.0" />
<line x1="432.00" y1="260.40" x2="428.80" y2="260.40" stroke="#ee10ee" stroke-width="2.0" />
<line x1="432.00" y1="263.49" x2="428.80" y2="263.49" stroke="#ee10ee" stroke-width="2.0" />
<line x1="432.00" y1="266.57" x2="426.00" y2="266.57" stroke="#ee10ee" stroke-width="2.3" />
<line x1="432.00" y1="269.66" x2="428.80" y2="269.66" stroke="#ee10ee" stroke-width="2.0" />
<line x1="432.00" y1="272.74" x2="428.80" y2="272.74" stroke="#ee10ee" stroke-width="2.0" />
<line x1="432.00" y1="275.83" x2="428.80" y2="275.83" stroke="#ee10ee" stroke-width="2.0" />
<line x1="432.00" y1="278.91" x2="428.80" y2="278.91" stroke="#ee10ee" stroke-width="2.0" />
<line x1="432.00" y1="282.00" x2="426.00" y2="282.00" stroke="#ee10ee" stroke-width="2.3" />
<line x1="540.60" y1="173.00" x2="540.60" y2="283.00" stroke="#ee10ee" stroke-width="2" />
<line x1="540.60" y1="174.00" x2="546.60" y2="174.00" stroke="#ee10ee" stroke-width="2.3" />
<text x="565.00" y="179.70" fill="#ee10ee" stroke="#ee10ee" stroke-width="0.85" text-anchor="end" font-size="13.8" >35</text>
<line x1="540.60" y1="177.09" x2="543.80" y2="177.09" stroke="#ee10ee" stroke-width="2.0" />
<line x1="540.60" y1="180.17" x2="543.80" y2="180.17" stroke="#ee10ee" stroke-width="2.0" />
<line x1="540.60" y1="183.26" x2="543.80" y2="183.26" stroke="#ee10ee" stroke-width="2.0" />
<line x1="540.60" y1="186.34" x2="543.80" y2="186.34" stroke="#ee10ee" stroke-width="2.0" />
<line x1="540.60" y1="189.43" x2="546.60" y2="189.43" stroke="#ee10ee" stroke-width="2.3" />
<text x="565.00" y="195.13" fill="#ee10ee" stroke="#ee10ee" stroke-width="0.85" text-anchor="end" font-size="13.8" >30</text>
<line x1="540.60" y1="192.51" x2="543.80" y2="192.51" stroke="#ee10ee" stroke-width="2.0" />
<line x1="540.60" y1="195.60" x2="543.80" y2="195.60" stroke="#ee10ee" stroke-width="2.0" />
<line x1="540.60" y1="198.69" x2="543.80" y2="198.69" stroke="#ee10ee" stroke-width="2.0" />
<line x1="540.60" y1="201.77" x2="543.80" y2="201.77" stroke="#ee10ee" stroke-width="2.0" />
<line x1="540.60" y1="204.86" x2="546.60" y2="204.86" stroke="#ee10ee" stroke-width="2.3" />
<text x="565.00" y="210.56" fill="#ee10ee" stroke="#ee10ee" stroke-width="0.85" text-anchor="end" font-size="13.8" >25</text>
<line x1="540.60" y1="207.94" x2="543.80" y2="207.94" stroke="#ee10ee" stroke-width="2.0" />
<line x1="540.60" y1="211.03" x2="543.80" y2="211.03" stroke="#ee10ee" stroke-width="2.0" />
<line x1="540.60" y1="214.11" x2="543.80" y2="214.11" stroke="#ee10ee" stroke-width="2.0" />
<line x1="540.60" y1="217.20" x2="543.80" y2="217.20" stroke="#ee10ee" stroke-width="2.0" />
<line x1="540.60" y1="220.29" x2="546.60" y2="220.29" stroke="#ee10ee" stroke-width="2.3" />
<text x="565.00" y="225.99" fill="#ee10ee" stroke="#ee10ee" stroke-width="0.85" text-anchor="end" font-size="13.8" >20</text>
<line x1="540.60" y1="223.37" x2="543.80" y2="223.37" stroke="#ee10ee" stroke-width="2.0" />
<line x1="540.60" y1="226.46" x2="543.80" y2="226.46" stroke="#ee10ee" stroke-width="2.0" />
<line x1="540.60" y1="229.54" x2="543.80" y2="229.54" stroke="#ee10ee" stroke-width="2.0" />
<line x1="540.60" y1="232.63" x2="543.80" y2="232.63" stroke="#ee10ee" stroke-width="2.0" />
<line x1="540.60" y1="235.71" x2="546.60" y2="235.71" stroke="#ee10ee" stroke-width="2.3" />
<text x="565.00" y="241.41" fill="#ee10ee" stroke="#ee10ee" stroke-width="0.85" text-anchor="end" font-size="13.8" >15</text>
<line x1="540.60" y1="238.80" x2="543.80" y2="238.80" stroke="#ee10ee" stroke-width="2.0" />
<line x1="540.60" y1="241.89" x2="543.80" y2="241.89" stroke="#ee10ee" stroke-width="2.0" />
<line x1="540.60" y1="244.97" x2="543.80" y2="244.97" stroke="#ee10ee" stroke-width="2.0" />
<line x1="540.60" y1="248.06" x2="543.80" y2="248.06" stroke="#ee10ee" stroke-width="2.0" />
<line x1="540.60" y1="251.14" x2="546.60" y2="251.14" stroke="#ee10ee" stroke-width="2.3" />
<text x="565.00" y="256.84" fill="#ee10ee" stroke="#ee10ee" stroke-width="0.85" text-anchor="end" font-size="13.8" >10</text>
<line x1="540.60" y1="254.23" x2="543.80" y2="254.23" stroke="#ee10ee" stroke-width="2.0" />
<line x1="540.60" y1="257.31" x2="543.80" y2="257.31" stroke="#ee10ee" stroke-width="2.0" />
<line x1="540.60" y1="260.40" x2="543.80" y2="260.40" stroke="#ee10ee" stroke-width="2.0" />
<line x1="540.60" y1="263.49" x2="543.80" y2="263.49" stroke="#ee10ee" stroke-width="2.0" />
<line x1="540.60" y1="266.57" x2="546.60" y2="266.57" stroke="#ee10ee" stroke-width="2.3" />
<text x="565.00" y="272.27" fill="#ee10ee" stroke="#ee10ee" stroke-width="0.85" text-anchor="end" font-size="13.8" >5</text>
<line x1="540.60" y1="269.66" x2="543.80" y2="269.66" stroke="#ee10ee" stroke-width="2.0" />
<line x1="540.60" y1="272.74" x2="543.80" y2="272.74" stroke="#ee10ee" stroke-width="2.0" />
<line x1="540.60" y1="275.83" x2="543.80" y2="275.83" stroke="#ee10ee" stroke-width="2.0" />
<line x1="540.60" y1="278.91" x2="543.80" y2="278.91" stroke="#ee10ee" stroke-width="2.0" />
<line x1="540.60" y1="282.00" x2="546.60" y2="282.00" stroke="#ee10ee" stroke-width="2.3" />
<text x="565.00" y="287.70" fill="#ee10ee" stroke="#ee10ee" stroke-width="0.85" text-anchor="end" font-size="13.8" >0</text>
<line x1="431.00" y1="174.00" x2="541.60" y2="174.00" stroke="#ee10ee" stroke-width="2" />
<line x1="432.00" y1="174.00" x2="432.00" y2="168.00" stroke="#ee10ee" stroke-width="1.8" />
<text x="432.00" y="162.80" fill="#ee10ee" stroke="#ee10ee" stroke-width="0.85" text-anchor="middle" font-size="13.8" >32</text>
<line x1="435.62" y1="174.00" x2="435.62" y2="170.80" stroke="#ee10ee" stroke-width="1.8" />
<line x1="439.24" y1="174.00" x2="439.24" y2="170.80" stroke="#ee10ee" stroke-width="1.8" />
<line x1="442.86" y1="174.00" x2="442.86" y2="170.80" stroke="#ee10ee" stroke-width="1.8" />
<line x1="446.48" y1="174.00" x2="446.48" y2="170.80" stroke="#ee10ee" stroke-width="1.8" />
<line x1="450.10" y1="174.00" x2="450.10" y2="168.00" stroke="#ee10ee" stroke-width="1.8" />
<text x="450.10" y="162.80" fill="#ee10ee" stroke="#ee10ee" stroke-width="0.85" text-anchor="middle" font-size="13.8" >33</text>
<line x1="453.72" y1="174.00" x2="453.72" y2="170.80" stroke="#ee10ee" stroke-width="1.8" />
<line x1="457.34" y1="174.00" x2="457.34" y2="170.80" stroke="#ee10ee" stroke-width="1.8" />
<line x1="460.96" y1="174.00" x2="460.96" y2="170.80" stroke="#ee10ee" stroke-width="1.8" />
<line x1="464.58" y1="174.00" x2="464.58" y2="170.80" stroke="#ee10ee" stroke-width="1.8" />
<line x1="468.20" y1="174.00" x2="468.20" y2="168.00" stroke="#ee10ee" stroke-width="1.8" />
<text x="468.20" y="162.80" fill="#ee10ee" stroke="#ee10ee" stroke-width="0.85" text-anchor="middle" font-size="13.8" >34</text>
<line x1="471.82" y1="174.00" x2="471.82" y2="170.80" stroke="#ee10ee" stroke-width="1.8" />
<line x1="475.44" y1="174.00" x2="475.44" y2="170.80" stroke="#ee10ee" stroke-width="1.8" />
<line x1="479.06" y1="174.00" x2="479.06" y2="170.80" stroke="#ee10ee" stroke-width="1.8" />
<line x1="482.68" y1="174.00" x2="482.68" y2="170.80" stroke="#ee10ee" stroke-width="1.8" />
<line x1="486.30" y1="174.00" x2="486.30" y2="168.00" stroke="#ee10ee" stroke-width="1.8" />
<text x="486.30" y="162.80" fill="#ee10ee" stroke="#ee10ee" stroke-width="0.85" text-anchor="middle" font-size="13.8" >35</text>
<line x1="489.92" y1="174.00" x2="489.92" y2="170.80" stroke="#ee10ee" stroke-width="1.8" />
<line x1="493.54" y1="174.00" x2="493.54" y2="170.80" stroke="#ee10ee" stroke-width="1.8" />
<line x1="497.16" y1="174.00" x2="497.16" y2="170.80" stroke="#ee10ee" stroke-width="1.8" />
<line x1="500.78" y1="174.00" x2="500.78" y2="170.80" stroke="#ee10ee" stroke-width="1.8" />
<line x1="504.40" y1="174.00" x2="504.40" y2="168.00" stroke="#ee10ee" stroke-width="1.8" />
<text x="504.40" y="162.80" fill="#ee10ee" stroke="#ee10ee" stroke-width="0.85" text-anchor="middle" font-size="13.8" >36</text>
<line x1="508.02" y1="174.00" x2="508.02" y2="170.80" stroke="#ee10ee" stroke-width="1.8" />
<line x1="511.64" y1="174.00" x2="511.64" y2="170.80" stroke="#ee10ee" stroke-width="1.8" />
<line x1="515.26" y1="174.00" x2="515.26" y2="170.80" stroke="#ee10ee" stroke-width="1.8" />
<line x1="518.88" y1="174.00" x2="518.88" y2="170.80" stroke="#ee10ee" stroke-width="1.8" />
<line x1="522.50" y1="174.00" x2="522.50" y2="168.00" stroke="#ee10ee" stroke-width="1.8" />
<text x="522.50" y="162.80" fill="#ee10ee" stroke="#ee10ee" stroke-width="0.85" text-anchor="middle" font-size="13.8" >37</text>
<line x1="526.12" y1="174.00" x2="526.12" y2="170.80" stroke="#ee10ee" stroke-width="1.8" />
<line x1="529.74" y1="174.00" x2="529.74" y2="170.80" stroke="#ee10ee" stroke-width="1.8" />
<line x1="533.36" y1="174.00" x2="533.36" y2="170.80" stroke="#ee10ee" stroke-width="1.8" />
<line x1="536.98" y1="174.00" x2="536.98" y2="170.80" stroke="#ee10ee" stroke-width="1.8" />
<line x1="540.60" y1="174.00" x2="540.60" y2="168.00" stroke="#ee10ee" stroke-width="1.8" />
<text x="540.60" y="162.80" fill="#ee10ee" stroke="#ee10ee" stroke-width="0.85" text-anchor="middle" font-size="13.8" >38</text>
<text x="486.30" y="146.40" fill="#ee10ee" stroke="#ee10ee" stroke-width="0.85" text-anchor="middle" font-size="13.8" >Salinity (PSU)</text>
<line x1="431.00" y1="282.00" x2="541.60" y2="282.00" stroke="#ee10ee" stroke-width="2" />
<line x1="432.00" y1="282.00" x2="432.00" y2="288.00" stroke="#ee10ee" stroke-width="1.8" />
<line x1="435.62" y1="282.00" x2="435.62" y2="285.20" stroke="#ee10ee" stroke-width="1.8" />
<line x1="439.24" y1="282.00" x2="439.24" y2="285.20" stroke="#ee10ee" stroke-width="1.8" />
<line x1="442.86" y1="282.00" x2="442.86" y2="285.20" stroke="#ee10ee" stroke-width="1.8" />
<line x1="446.48" y1="282.00" x2="446.48" y2="285.20" stroke="#ee10ee" stroke-width="1.8" />
<line x1="450.10" y1="282.00" x2="450.10" y2="288.00" stroke="#ee10ee" stroke-width="1.8" />
<line x1="453.72" y1="282.00" x2="453.72" y2="285.20" stroke="#ee10ee" stroke-width="1.8" />
<line x1="457.34" y1="282.00" x2="457.34" y2="285.20" stroke="#ee10ee" stroke-width="1.8" />
<line x1="460.96" y1="282.00" x2="460.96" y2="285.20" stroke="#ee10ee" stroke-width="1.8" />
<line x1="464.58" y1="282.00" x2="464.58" y2="285.20" stroke="#ee10ee" stroke-width="1.8" />
<line x1="468.20" y1="282.00" x2="468.20" y2="288.00" stroke="#ee10ee" stroke-width="1.8" />
<line x1="471.82" y1="282.00" x2="471.82" y2="285.20" stroke="#ee10ee" stroke-width="1.8" />
<line x1="475.44" y1="282.00" x2="475.44" y2="285.20" stroke="#ee10ee" stroke-width="1.8" />
<line x1="479.06" y1="282.00" x2="479.06" y2="285.20" stroke="#ee10ee" stroke-width="1.8" />
<line x1="482.68" y1="282.00" x2="482.68" y2="285.20" stroke="#ee10ee" stroke-width="1.8" />
<line x1="486.30" y1="282.00" x2="486.30" y2="288.00" stroke="#ee10ee" stroke-width="1.8" />
<line x1="489.92" y1="282.00" x2="489.92" y2="285.20" stroke="#ee10ee" stroke-width="1.8" />
<line x1="493.54" y1="282.00" x2="493.54" y2="285.20" stroke="#ee10ee" stroke-width="1.8" />
<line x1="497.16" y1="282.00" x2="497.16" y2="285.20" stroke="#ee10ee" stroke-width="1.8" />
<line x1="500.78" y1="282.00" x2="500.78" y2="285.20" stroke="#ee10ee" stroke-width="1.8" />
<line x1="504.40" y1="282.00" x2="504.40" y2="288.00" stroke="#ee10ee" stroke-width="1.8" />
<line x1="508.02" y1="282.00" x2="508.02" y2="285.20" stroke="#ee10ee" stroke-width="1.8" />
<line x1="511.64" y1="282.00" x2="511.64" y2="285.20" stroke="#ee10ee" stroke-width="1.8" />
<line x1="515.26" y1="282.00" x2="515.26" y2="285.20" stroke="#ee10ee" stroke-width="1.8" />
<line x1="518.88" y1="282.00" x2="518.88" y2="285.20" stroke="#ee10ee" stroke-width="1.8" />
<line x1="522.50" y1="282.00" x2="522.50" y2="288.00" stroke="#ee10ee" stroke-width="1.8" />
<line x1="526.12" y1="282.00" x2="526.12" y2="285.20" stroke="#ee10ee" stroke-width="1.8" />
<line x1="529.74" y1="282.00" x2="529.74" y2="285.20" stroke="#ee10ee" stroke-width="1.8" />
<line x1="533.36" y1="282.00" x2="533.36" y2="285.20" stroke="#ee10ee" stroke-width="1.8" />
<line x1="536.98" y1="282.00" x2="536.98" y2="285.20" stroke="#ee10ee" stroke-width="1.8" />
<line x1="540.60" y1="282.00" x2="540.60" y2="288.00" stroke="#ee10ee" stroke-width="1.8" />
<text transform="translate(582.8,228) rotate(-90)" fill="#ee10ee" stroke="#ee10ee" stroke-width="0.85" text-anchor="middle" font-size="13.8">Insitu Temperature (˚C)</text>
<text x="431.7" y="317.9" fill="#000" stroke="#000" stroke-width="0.9" font-size="13.8" style="white-space:pre">Float:  20150</text>
<text x="431.7" y="332.3" fill="#000" stroke="#000" stroke-width="0.9" font-size="13.8" style="white-space:pre">Profile:  116</text>
<text x="431.7" y="346.7" fill="#000" stroke="#000" stroke-width="0.9" font-size="13.8" style="white-space:pre">Location:  30.2˚<tspan dx="0.9">N  164.0˚</tspan><tspan dx="0.9">E</tspan></text>
<text x="431.7" y="361.1" fill="#000" stroke="#000" stroke-width="0.9" font-size="13.8" style="white-space:pre">Date:  08/13/2025</text>
<path d="M481.5,424.4 L482.4,424.6 L483.2,425.0 L484.0,425.5 L484.9,425.9 L485.8,426.2 L486.8,426.6 L487.7,426.8 L488.7,427.1 L489.7,427.3 L490.7,427.5 L491.6,427.7 L492.6,427.9 L493.6,428.1 L494.6,428.2 L495.6,428.3 L496.6,428.5 L497.6,428.6 L498.6,428.7 L499.6,428.8 L500.6,428.8 L501.6,428.9 L502.6,429.0 L503.6,429.0 L504.6,429.1 L505.5,429.1 L506.5,429.2 L507.5,429.2 L508.5,429.2 L509.5,429.3 L510.5,429.3 L511.5,429.3 L512.5,429.3 L513.5,429.2 L514.5,429.2 L515.5,429.2 L516.5,429.2 L517.5,429.1 L518.5,429.1 L519.5,429.0 L520.5,429.0 L521.5,428.9 L522.5,428.8 L523.5,428.8 L524.5,428.7 L525.5,428.6 L526.5,428.5 L527.5,428.3 L528.5,428.2 L529.5,428.0 L530.5,427.9 L531.5,427.7 L532.4,427.5 L533.4,427.3 L534.4,427.1 L535.4,426.8 L536.3,426.5 L537.3,426.2 L538.2,425.8 L539.1,425.4 L539.9,425.0 L540.8,424.6 L541.7,424.4 L542.6,424.3 L543.5,424.3 L544.5,424.5 L545.5,424.7 L546.4,424.9 L547.4,425.2 L548.4,425.4 L549.3,425.7 L550.3,425.9 L551.3,426.2 L552.2,426.5 L553.2,426.8 L554.1,427.1 L555.1,427.4 L556.0,427.7 L557.0,428.0 L557.9,428.4 L558.9,428.7 L559.8,429.0 L560.7,429.4 L561.7,429.8 L562.6,430.1 L563.5,430.5 L564.4,430.9 L565.3,431.3 L566.3,431.8 L567.2,432.2 L568.1,432.6 L568.9,433.1 L569.8,433.6 L570.7,434.0 L571.6,434.5 L572.4,435.0 L573.3,435.5 L574.1,436.1 L575.0,436.6 L575.8,437.2 L576.6,437.7 L577.5,438.3 L578.3,438.9 L579.0,439.5 L579.8,440.1 L580.6,440.8 L581.3,441.5 L582.1,442.1 L582.8,442.8 L583.5,443.5 L584.2,444.3 L584.8,445.0 L585.5,445.8 L586.1,446.6 L586.7,447.4 L587.3,448.2 L587.8,449.0 L588.3,449.9 L588.8,450.7 L589.3,451.6 L589.7,452.5 L590.0,453.5 L590.4,454.4 L590.7,455.4 L590.9,456.3 L591.1,457.3 L591.2,458.3 L591.4,459.3 L591.4,460.3 L591.4,461.3 L591.4,462.3 L591.3,463.3 L591.1,464.3 L590.9,465.2 L590.7,466.2 L590.4,467.2 L590.1,468.1 L589.8,469.0 L589.3,469.9 L588.9,470.8 L588.4,471.7 L587.9,472.6 L587.4,473.4 L586.8,474.3 L586.2,475.1 L585.6,475.8 L585.0,476.6 L584.3,477.4 L583.7,478.1 L583.0,478.8 L582.2,479.5 L581.5,480.2 L580.8,480.9 L580.0,481.5 L579.2,482.1 L578.4,482.8 L577.6,483.4 L576.8,483.9 L576.0,484.5 L575.2,485.1 L574.3,485.6 L573.5,486.1 L572.6,486.7 L571.8,487.2 L570.9,487.7 L570.0,488.1 L569.1,488.6 L568.3,489.1 L567.4,489.5 L566.5,489.9 L565.6,490.4 L564.6,490.8 L563.7,491.2 L562.8,491.6 L561.9,491.9 L561.0,492.3 L560.0,492.7 L559.1,493.0 L558.1,493.4 L557.2,493.7 L556.3,494.0 L555.3,494.3 L554.4,494.7 L553.4,494.9 L552.5,495.2 L551.5,495.5 L550.5,495.8 L549.6,496.1 L548.6,496.3 L547.6,496.6 L546.7,496.8 L545.7,497.0 L544.7,497.3 L543.7,497.5 L542.8,497.5 L541.9,497.5 L541.0,497.2 L540.1,496.9 L539.3,496.5 L538.4,496.1 L537.5,495.7 L536.5,495.3 L535.6,495.0 L534.6,494.8 L533.6,494.5 L532.7,494.3 L531.7,494.1 L530.7,494.0 L529.7,493.8 L528.7,493.6 L527.7,493.5 L526.7,493.4 L525.8,493.3 L524.8,493.2 L523.8,493.1 L522.8,493.0 L521.8,492.9 L520.8,492.8 L519.8,492.8 L518.8,492.7 L517.8,492.7 L516.8,492.6 L515.8,492.6 L514.8,492.6 L513.8,492.6 L512.8,492.5 L511.8,492.5 L510.8,492.5 L509.8,492.5 L508.8,492.6 L507.8,492.6 L506.8,492.6 L505.8,492.6 L504.8,492.7 L503.8,492.7 L502.8,492.8 L501.8,492.9 L500.8,492.9 L499.8,493.0 L498.8,493.1 L497.8,493.2 L496.8,493.3 L495.8,493.4 L494.8,493.6 L493.8,493.7 L492.8,493.9 L491.9,494.0 L490.9,494.2 L489.9,494.4 L488.9,494.6 L488.0,494.9 L487.0,495.2 L486.1,495.5 L485.1,495.8 L484.2,496.2 L483.3,496.7 L482.5,497.1 L481.6,497.4 L480.7,497.5 L479.8,497.5 L478.8,497.4 L477.9,497.2 L476.9,496.9 L475.9,496.7 L474.9,496.5 L474.0,496.2 L473.0,495.9 L472.0,495.7 L471.1,495.4 L470.1,495.1 L469.2,494.8 L468.2,494.5 L467.3,494.2 L466.3,493.9 L465.4,493.6 L464.4,493.2 L463.5,492.9 L462.6,492.5 L461.6,492.2 L460.7,491.8 L459.8,491.4 L458.9,491.0 L458.0,490.6 L457.0,490.2 L456.1,489.7 L455.2,489.3 L454.3,488.9 L453.5,488.4 L452.6,487.9 L451.7,487.4 L450.8,486.9 L450.0,486.4 L449.1,485.9 L448.3,485.4 L447.4,484.8 L446.6,484.3 L445.8,483.7 L445.0,483.1 L444.2,482.5 L443.4,481.9 L442.7,481.2 L441.9,480.6 L441.2,479.9 L440.4,479.2 L439.7,478.5 L439.0,477.8 L438.4,477.0 L437.7,476.3 L437.1,475.5 L436.5,474.7 L435.9,473.9 L435.4,473.1 L434.8,472.2 L434.3,471.3 L433.9,470.5 L433.5,469.5 L433.1,468.6 L432.7,467.7 L432.4,466.7 L432.2,465.8 L432.0,464.8 L431.8,463.8 L431.7,462.8 L431.6,461.8 L431.6,460.8 L431.6,459.8 L431.7,458.9 L431.8,457.9 L432.0,456.9 L432.2,455.9 L432.5,455.0 L432.8,454.0 L433.1,453.1 L433.5,452.1 L433.9,451.2 L434.4,450.4 L434.9,449.5 L435.4,448.6 L436.0,447.8 L436.6,447.0 L437.2,446.2 L437.8,445.4 L438.4,444.7 L439.1,443.9 L439.8,443.2 L440.5,442.5 L441.2,441.8 L442.0,441.2 L442.7,440.5 L443.5,439.9 L444.3,439.2 L445.1,438.6 L445.9,438.1 L446.7,437.5 L447.5,436.9 L448.4,436.4 L449.2,435.8 L450.1,435.3 L450.9,434.8 L451.8,434.3 L452.7,433.8 L453.6,433.4 L454.4,432.9 L455.3,432.4 L456.2,432.0 L457.1,431.6 L458.1,431.2 L459.0,430.8 L459.9,430.4 L460.8,430.0 L461.7,429.6 L462.7,429.2 L463.6,428.9 L464.5,428.5 L465.5,428.2 L466.4,427.9 L467.4,427.6 L468.3,427.2 L469.3,426.9 L470.2,426.7 L471.2,426.4 L472.2,426.1 L473.1,425.8 L474.1,425.6 L475.1,425.3 L476.0,425.1 L477.0,424.8 L478.0,424.6 L478.9,424.4 L479.8,424.2 L480.7,424.2Z" fill="#cdeffa"/>
<path d="M449.0,437.1 L447.6,438.2 L446.3,439.3 L446.4,439.8 L446.5,440.3 L447.1,440.3 L447.6,440.3 L448.2,440.3 L448.4,440.7 L448.7,441.0 L448.9,441.3 L449.4,441.5 L449.8,441.6 L450.3,441.8 L450.8,442.0 L450.3,442.7 L449.4,443.9 L448.7,445.1 L448.0,446.3 L447.7,447.2 L447.5,448.1 L447.1,449.1 L446.8,450.1 L446.5,451.2 L446.8,452.3 L447.2,453.4 L447.1,454.1 L447.9,454.0 L448.7,454.0 L449.5,453.9 L450.2,453.8 L449.7,454.8 L449.1,455.8 L448.7,456.7 L447.9,457.7 L447.3,458.7 L446.7,459.7 L446.0,460.6 L445.4,461.5 L445.0,462.7 L444.6,464.0 L444.8,465.0 L445.0,466.0 L445.3,467.0 L445.8,468.0 L446.3,469.0 L446.8,470.0 L446.6,470.8 L446.5,471.7 L446.4,472.5 L446.9,473.5 L447.4,474.5 L448.0,475.5 L448.1,476.2 L448.2,476.8 L448.8,477.7 L449.5,478.6 L450.0,479.8 L450.7,481.1 L450.5,481.4 L450.4,481.8 L450.2,482.1 L449.9,482.3 L449.6,482.6 L448.6,482.3 L447.0,481.2 L445.5,480.0 L444.3,479.2 L443.1,478.4 L442.1,477.4 L441.2,476.4 L440.3,475.3 L439.2,474.3 L438.2,473.3 L437.3,472.3 L436.8,471.2 L436.5,470.0 L436.2,468.9 L435.5,467.6 L434.9,466.3 L434.4,465.0 L433.9,463.8 L433.4,462.7 L432.9,461.6 L433.0,460.6 L433.1,459.5 L433.2,458.5 L432.8,457.8 L432.4,457.3 L432.0,456.7 L432.3,455.4 L432.7,454.0 L433.2,452.7 L433.8,451.4 L434.5,450.1 L435.3,448.8 L436.1,447.5 L437.1,446.2 L438.1,445.0 L439.3,443.7 L440.5,442.5 L441.8,441.3 L443.1,440.1 L444.6,439.0 L446.1,437.9 L447.7,436.8 L448.1,436.9 L448.6,437.0 L449.0,437.1ZM579.8,448.3 L579.3,447.1 L578.6,445.9 L577.9,444.7 L577.2,443.6 L577.0,442.8 L576.7,441.9 L575.8,440.7 L574.8,439.5 L573.7,438.4 L574.5,438.4 L575.3,438.5 L575.2,438.0 L575.1,437.5 L574.9,437.0 L575.3,436.8 L576.9,437.9 L578.4,439.0 L579.9,440.1 L581.2,441.3 L582.5,442.5 L583.7,443.7 L584.9,445.0 L585.9,446.2 L586.9,447.5 L587.7,448.8 L588.5,450.1 L589.2,451.4 L589.8,452.7 L590.3,454.0 L590.7,455.4 L591.0,456.7 L590.4,456.8 L589.7,456.8 L589.0,457.2 L588.4,457.5 L587.8,457.7 L587.3,457.8 L586.8,457.9 L586.0,457.1 L585.2,456.3 L584.5,455.5 L583.8,454.8 L583.0,453.8 L582.1,452.9 L581.7,452.3 L581.3,451.6 L580.8,450.5 L580.4,449.4 L579.8,448.3ZM449.9,473.4 L449.4,472.5 L449.0,471.5 L448.6,470.5 L449.0,469.7 L449.4,468.9 L450.0,468.6 L450.4,469.8 L450.8,470.9 L451.2,472.1 L451.6,473.3 L452.1,474.4 L452.7,475.6 L452.2,475.6 L451.6,475.7 L450.7,474.6 L449.9,473.4ZM464.9,428.8 L466.6,428.2 L468.3,427.6 L469.1,427.6 L467.1,428.3 L465.1,429.0 L465.4,429.1 L465.7,429.3 L466.1,429.3 L466.5,429.4 L466.9,429.4 L468.4,429.0 L469.9,428.6 L471.2,428.3 L472.5,428.0 L473.3,427.9 L474.1,427.9 L473.9,427.8 L473.7,427.7 L473.5,427.5 L475.0,426.9 L476.7,426.4 L478.3,426.1 L479.9,425.8 L479.8,425.7 L479.7,425.6 L478.1,425.9 L476.6,426.2 L475.1,426.5 L472.8,427.2 L470.8,427.8 L468.7,428.4 L468.0,428.5 L467.2,428.6 L469.0,427.8 L470.9,427.1 L470.1,427.1 L469.4,427.2 L470.4,426.7 L471.5,426.3 L473.9,425.6 L474.9,425.5 L475.8,425.4 L476.8,425.3 L479.4,424.8 L482.1,424.4 L482.2,424.5 L482.3,424.6 L482.5,424.7 L482.6,424.8 L482.8,424.9 L483.0,425.0 L483.1,425.1 L483.3,425.2 L483.5,425.3 L483.7,425.4 L483.9,425.5 L484.1,425.6 L484.3,425.7 L484.5,425.8 L482.2,426.4 L482.1,426.3 L482.1,426.1 L482.1,425.9 L480.9,426.3 L479.7,426.7 L480.0,426.8 L480.3,426.9 L480.6,426.9 L481.7,426.8 L482.7,426.6 L484.9,425.9 L485.1,426.0 L485.4,426.1 L485.6,426.2 L485.9,426.3 L486.1,426.4 L486.4,426.5 L486.7,426.6 L486.9,426.7 L487.2,426.7 L487.5,426.8 L487.8,426.9 L488.1,427.0 L488.4,427.1 L488.7,427.1 L489.0,427.2 L489.4,427.3 L489.7,427.4 L490.0,427.4 L490.3,427.5 L490.7,427.6 L491.0,427.6 L491.4,427.7 L491.7,427.8 L492.1,427.8 L492.4,427.9 L492.8,427.9 L493.1,428.0 L493.5,428.1 L493.9,428.1 L494.2,428.2 L494.6,428.2 L495.0,428.3 L495.4,428.3 L495.8,428.4 L496.2,428.4 L496.5,428.5 L496.9,428.5 L497.3,428.6 L497.7,428.6 L498.1,428.6 L498.5,428.7 L499.0,428.7 L499.4,428.8 L499.8,428.8 L500.2,428.8 L500.6,428.9 L501.0,428.9 L501.5,428.9 L501.9,429.0 L502.3,429.0 L502.7,429.0 L503.1,429.0 L503.6,429.1 L504.0,429.1 L504.4,429.1 L504.9,429.1 L505.3,429.1 L505.7,429.2 L506.2,429.2 L506.6,429.2 L507.1,429.2 L507.5,429.2 L507.9,429.2 L508.4,429.2 L508.8,429.2 L509.3,429.3 L509.7,429.3 L510.1,429.3 L510.6,429.3 L511.0,429.3 L511.4,429.5 L511.8,429.7 L512.3,429.9 L512.7,430.1 L512.4,430.4 L512.0,430.7 L511.6,430.7 L511.1,430.6 L510.7,430.6 L510.3,430.5 L509.8,431.0 L509.4,431.5 L508.9,431.8 L508.3,432.1 L507.8,432.3 L507.2,432.6 L506.6,432.9 L506.0,433.2 L505.4,433.5 L504.8,433.8 L504.2,434.7 L503.4,435.3 L502.6,435.8 L501.7,436.4 L501.9,435.7 L502.1,434.9 L502.3,434.2 L503.2,433.3 L503.8,432.9 L504.5,432.5 L505.1,432.1 L504.6,432.0 L504.1,431.9 L503.5,432.2 L502.9,432.5 L502.2,432.9 L501.8,432.8 L501.3,432.7 L500.9,432.7 L500.3,432.7 L499.7,432.7 L499.1,432.7 L498.1,433.3 L497.0,433.9 L496.3,434.2 L495.6,434.5 L496.1,434.8 L496.6,435.1 L497.1,435.3 L496.4,436.2 L495.8,437.1 L495.0,437.8 L494.2,438.4 L493.3,438.8 L492.5,439.3 L491.6,439.7 L491.0,439.8 L490.5,439.9 L489.6,440.6 L488.8,441.3 L488.7,441.9 L488.7,442.5 L488.1,443.4 L487.5,443.5 L486.9,443.6 L487.1,443.0 L487.3,442.4 L487.4,441.8 L487.5,441.2 L486.7,441.3 L485.9,441.4 L486.7,440.7 L485.8,441.0 L484.8,441.3 L485.1,441.7 L485.5,442.1 L486.0,442.3 L485.1,442.8 L484.2,443.2 L484.2,444.0 L484.3,444.7 L484.0,445.7 L483.3,446.5 L482.6,447.2 L481.9,447.8 L481.2,448.4 L480.1,448.9 L479.1,449.3 L478.1,449.7 L477.0,450.0 L476.5,449.8 L475.7,450.4 L474.9,451.0 L475.2,451.8 L475.6,452.6 L475.5,453.5 L475.5,454.4 L474.9,454.9 L474.2,455.4 L473.2,456.2 L473.3,455.4 L472.5,455.1 L471.8,454.0 L471.4,453.8 L471.1,454.7 L470.8,455.6 L471.2,456.5 L471.6,457.5 L471.8,458.4 L471.9,459.2 L472.1,460.1 L471.6,459.7 L471.0,459.3 L470.9,458.5 L470.8,457.7 L470.1,456.7 L470.3,455.6 L470.5,454.5 L470.6,453.8 L470.6,453.0 L470.7,452.2 L470.1,452.3 L469.5,452.4 L469.5,451.7 L469.6,451.1 L469.4,450.3 L469.4,449.5 L469.0,448.9 L468.1,449.1 L467.2,449.3 L466.0,450.1 L465.1,450.8 L464.2,451.5 L463.3,452.2 L462.9,452.8 L462.6,453.5 L462.4,454.3 L462.1,455.1 L461.5,455.8 L460.8,456.5 L460.6,455.6 L460.5,454.8 L460.4,453.8 L460.4,452.9 L460.5,452.0 L460.6,451.2 L460.8,450.4 L461.0,449.7 L461.3,449.0 L460.6,448.8 L460.0,448.6 L460.0,447.9 L460.0,447.2 L459.4,447.0 L458.8,446.8 L458.2,446.7 L457.6,446.5 L457.1,446.4 L456.7,446.2 L457.0,445.5 L456.5,445.2 L456.1,445.0 L455.6,444.7 L456.0,443.6 L455.3,443.5 L454.9,444.5 L454.4,445.5 L454.3,446.4 L454.6,446.7 L454.9,446.9 L455.7,446.5 L456.5,446.0 L456.0,446.9 L456.3,447.5 L456.5,448.1 L455.5,449.0 L454.5,450.0 L453.8,450.5 L453.0,451.0 L452.3,451.3 L451.5,451.5 L450.7,451.9 L449.8,452.3 L448.9,452.7 L448.1,453.1 L447.3,453.2 L447.6,452.3 L447.9,451.3 L447.9,450.2 L448.0,449.2 L448.2,448.2 L448.5,447.1 L448.9,446.1 L449.4,445.0 L450.0,444.0 L450.7,443.1 L449.5,444.0 L449.9,443.4 L450.3,442.7 L450.9,442.0 L451.3,442.0 L451.7,442.0 L453.1,440.9 L454.6,439.9 L455.5,439.2 L454.7,439.2 L454.0,439.2 L453.7,439.0 L453.5,438.7 L453.2,438.5 L454.0,437.8 L454.8,437.1 L455.7,436.8 L456.6,436.5 L457.4,436.5 L458.1,436.4 L458.9,436.4 L459.3,436.6 L459.6,436.7 L459.9,436.9 L460.3,437.0 L461.4,436.0 L461.5,435.5 L461.8,435.0 L463.9,434.2 L462.8,434.4 L461.7,434.7 L460.5,435.0 L461.6,434.3 L461.5,434.1 L461.5,433.9 L459.9,434.5 L458.4,435.2 L457.6,435.7 L456.8,436.3 L456.1,436.4 L455.5,436.6 L455.2,436.3 L454.3,436.6 L453.0,437.7 L451.6,438.5 L451.6,438.1 L452.7,437.1 L453.9,436.1 L455.0,435.3 L455.5,434.6 L456.1,434.0 L456.7,433.4 L457.2,433.0 L456.6,433.1 L455.2,434.1 L454.7,434.6 L454.2,435.1 L453.8,435.6 L453.4,436.2 L452.0,436.7 L451.1,437.2 L450.9,437.1 L452.2,436.4 L452.9,435.6 L453.1,435.2 L453.4,434.9 L454.1,434.1 L455.0,433.2 L454.1,433.5 L453.8,433.4 L453.5,433.4 L455.2,432.5 L457.0,431.6 L458.9,430.8 L460.8,430.0 L462.8,429.2 L463.8,429.0 L464.9,428.8ZM567.0,434.8 L567.3,434.6 L567.6,434.4 L567.9,434.2 L568.2,434.0 L567.1,433.3 L565.9,432.7 L564.4,432.2 L562.9,431.7 L562.9,431.5 L562.9,431.3 L562.2,430.7 L561.4,430.1 L560.6,429.5 L560.2,429.2 L562.2,430.0 L564.1,430.8 L566.0,431.6 L567.8,432.5 L569.5,433.4 L569.3,433.6 L570.8,434.4 L571.5,435.1 L572.1,435.9 L572.7,436.3 L573.9,437.5 L573.8,437.9 L573.7,438.2 L572.7,437.7 L572.3,437.8 L572.0,437.9 L570.4,436.9 L568.8,435.8 L567.0,434.8ZM560.2,430.3 L559.6,430.3 L558.1,429.6 L558.2,429.5 L557.5,429.2 L555.9,428.8 L554.3,428.4 L552.2,427.6 L552.3,427.4 L553.5,427.6 L555.4,428.3 L556.9,428.7 L558.4,429.2 L559.4,429.3 L561.1,430.0 L561.2,430.3 L561.2,430.6 L561.2,430.9 L561.3,431.1 L560.8,430.7 L560.2,430.3ZM556.4,429.7 L555.4,429.0 L556.5,429.2 L557.7,429.7 L558.9,430.2 L558.7,430.4 L558.5,430.6 L556.4,429.7ZM541.3,425.9 L541.5,425.8 L541.8,425.7 L542.2,425.6 L542.5,425.6 L544.3,426.0 L544.7,426.3 L545.1,426.6 L544.6,426.7 L544.0,426.7 L542.1,426.3 L541.3,425.9ZM487.9,444.4 L488.7,443.8 L489.8,443.3 L490.4,443.2 L491.1,443.2 L491.7,442.6 L492.6,442.1 L493.4,441.7 L493.8,440.8 L494.4,440.6 L494.2,441.5 L493.8,442.1 L493.4,442.7 L492.6,443.6 L491.9,443.7 L491.3,443.7 L490.2,444.2 L489.6,444.2 L489.0,444.2 L488.4,445.2 L487.7,445.2 L487.9,444.4ZM494.1,440.1 L494.8,439.7 L495.1,439.2 L495.4,438.7 L495.7,439.1 L495.9,439.4 L496.3,439.8 L495.8,440.1 L495.2,440.3 L494.9,440.2 L494.5,440.1 L493.9,440.5 L494.1,440.1ZM496.6,436.7 L497.0,435.9 L497.5,435.1 L498.0,434.8 L497.7,435.3 L497.4,435.8 L497.3,436.5 L497.2,437.2 L496.7,437.1 L496.5,437.6 L496.4,438.1 L495.6,438.5 L496.1,437.6 L496.6,436.7ZM482.0,448.9 L482.7,448.1 L483.1,448.2 L482.6,448.9 L482.1,449.7 L481.7,449.4 L482.0,448.9ZM476.4,450.5 L477.3,450.6 L476.8,451.3 L476.1,451.4 L476.4,450.5ZM481.3,451.4 L482.2,451.5 L481.9,452.1 L481.7,452.7 L482.0,453.5 L482.3,454.3 L481.8,454.1 L481.2,453.9 L480.6,453.7 L480.8,453.0 L481.1,452.2 L481.3,451.4ZM481.5,456.8 L482.0,456.3 L482.6,456.2 L483.2,456.1 L483.2,456.8 L483.1,457.6 L482.5,457.7 L481.9,457.8 L481.0,457.3 L481.5,456.8ZM481.7,455.0 L482.8,454.5 L482.9,455.3 L482.2,455.5 L481.6,455.8 L481.7,455.0ZM475.6,460.1 L476.6,459.3 L477.6,458.3 L478.6,457.3 L479.5,458.3 L479.2,459.4 L478.9,460.4 L478.7,461.2 L478.4,461.9 L478.2,462.7 L477.3,463.0 L476.4,462.7 L475.4,462.5 L475.1,461.4 L474.9,460.8 L474.7,460.1 L475.6,460.1ZM469.7,458.8 L470.3,459.3 L471.0,459.8 L471.7,460.6 L472.4,461.4 L473.3,462.5 L473.3,463.2 L473.3,463.9 L472.5,463.8 L471.7,463.1 L471.0,462.5 L470.4,461.4 L469.8,460.4 L469.2,459.4 L468.5,458.5 L468.5,458.0 L469.1,458.4 L469.7,458.8ZM473.7,464.0 L474.6,464.2 L475.6,464.3 L476.5,464.6 L477.5,464.9 L477.6,465.4 L476.8,465.3 L476.1,465.2 L475.4,465.2 L474.5,465.0 L473.5,464.8 L473.1,464.5 L473.7,464.0ZM479.4,462.7 L479.5,461.8 L479.7,460.9 L479.9,460.7 L480.6,461.4 L481.5,461.3 L480.8,461.9 L481.3,462.7 L481.4,463.5 L480.4,462.4 L480.3,463.1 L480.2,463.7 L479.7,463.7 L479.4,462.7ZM480.1,460.3 L480.8,460.2 L481.5,460.1 L482.2,460.0 L482.0,460.4 L481.3,460.5 L480.6,460.6 L479.9,460.6 L480.1,460.3ZM486.5,461.3 L486.8,461.9 L487.0,462.6 L487.8,462.2 L488.5,461.8 L489.2,462.0 L489.9,462.2 L490.9,462.6 L491.9,463.1 L492.5,463.5 L493.1,463.9 L492.9,464.3 L493.8,465.2 L494.8,466.1 L494.1,466.0 L493.5,465.9 L492.5,465.2 L491.9,465.2 L491.3,465.2 L490.7,465.3 L490.1,465.4 L489.4,465.3 L488.6,465.1 L488.6,464.4 L488.0,463.8 L487.3,463.2 L486.7,463.0 L486.1,462.9 L485.6,462.3 L486.6,462.1 L485.8,461.7 L485.1,461.4 L485.8,461.4 L486.5,461.3ZM479.2,472.1 L479.7,471.7 L480.3,471.4 L480.9,471.1 L481.4,470.6 L482.0,470.1 L482.5,469.4 L483.0,468.7 L483.6,468.0 L484.3,468.3 L485.1,468.5 L485.2,467.9 L485.3,467.2 L485.9,467.0 L486.4,466.7 L487.4,466.8 L488.4,466.9 L488.1,467.7 L487.9,468.5 L488.8,469.1 L489.7,469.7 L490.7,469.7 L490.7,468.9 L490.7,468.2 L490.7,467.4 L490.8,466.9 L490.9,466.3 L491.3,467.1 L491.6,467.9 L492.6,468.4 L493.0,469.4 L493.4,470.4 L494.2,471.1 L495.0,471.8 L496.0,472.7 L496.9,473.5 L497.2,474.2 L497.5,474.9 L497.3,475.8 L497.2,476.6 L497.1,477.4 L497.1,478.3 L497.1,479.2 L496.5,479.6 L495.9,480.0 L495.4,479.9 L494.8,479.7 L494.1,479.7 L493.4,479.6 L492.6,479.0 L491.9,478.5 L491.6,477.9 L491.3,477.3 L490.9,478.3 L490.3,477.7 L489.7,477.2 L488.9,477.1 L488.1,476.9 L487.4,476.8 L486.8,477.2 L486.2,477.6 L485.6,478.0 L484.9,478.2 L484.3,478.4 L483.6,478.6 L482.9,478.4 L482.2,478.3 L481.8,477.6 L481.5,476.9 L480.9,476.0 L480.3,475.1 L479.8,474.2 L479.3,473.3 L478.9,472.5 L479.2,472.1ZM497.0,480.9 L497.1,481.4 L497.3,482.0 L496.6,482.2 L495.9,481.4 L495.5,480.8 L496.3,480.9 L497.0,480.9ZM507.2,478.8 L507.8,479.1 L508.3,479.2 L508.8,479.2 L508.3,480.0 L508.0,480.5 L507.7,481.0 L507.4,480.1 L507.0,479.9 L507.3,479.1 L506.9,478.5 L506.4,477.9 L506.3,477.6 L506.7,478.2 L507.2,478.8ZM507.3,481.0 L506.8,482.0 L506.3,482.8 L505.6,483.3 L505.1,483.2 L504.6,483.1 L505.1,482.1 L505.6,481.7 L506.0,481.3 L506.6,480.5 L507.3,481.0ZM462.6,456.8 L461.9,457.6 L461.7,456.5 L462.0,455.6 L462.3,456.2 L462.6,456.8ZM482.5,465.1 L483.4,465.2 L482.6,465.7 L481.9,466.2 L482.5,465.1ZM495.3,463.0 L495.4,463.6 L494.8,463.8 L494.1,464.0 L493.6,463.7 L494.5,463.3 L495.3,463.0ZM503.1,471.9 L502.8,471.9 L502.2,471.5 L501.7,471.2 L501.6,470.9 L502.4,471.4 L503.1,471.9ZM508.5,469.5 L508.4,469.8 L507.8,469.9 L507.8,469.5 L508.5,469.5ZM520.5,450.9 L521.0,451.3 L520.5,451.5 L520.5,450.9ZM514.1,429.9 L513.8,429.6 L513.5,429.3 L513.9,429.3 L514.4,429.2 L514.8,429.2 L515.2,429.2 L515.7,429.2 L516.1,429.2 L516.5,429.2 L517.0,429.2 L517.4,429.2 L517.8,429.1 L518.3,429.1 L518.7,429.1 L519.1,429.1 L519.5,429.1 L520.0,429.0 L520.4,429.0 L520.8,429.0 L521.2,428.9 L521.6,428.9 L522.1,428.9 L522.5,428.9 L522.9,428.8 L523.3,428.8 L523.7,428.8 L524.1,428.7 L524.5,428.7 L524.9,428.6 L525.2,428.6 L525.6,428.6 L525.9,428.5 L526.3,428.5 L526.7,428.4 L527.1,428.4 L527.5,428.3 L527.9,428.3 L528.3,428.2 L528.7,428.2 L529.0,428.1 L529.4,428.1 L529.8,428.0 L530.2,428.0 L530.5,427.9 L530.9,427.8 L532.5,428.6 L532.2,428.6 L531.9,428.7 L531.6,428.7 L532.5,429.6 L532.7,430.0 L532.9,430.4 L533.0,430.8 L533.5,431.3 L534.1,431.9 L535.7,432.6 L536.2,432.7 L536.7,432.7 L537.2,432.7 L537.9,432.8 L538.7,433.0 L539.5,433.1 L540.2,433.6 L540.9,434.1 L541.7,434.4 L542.5,434.7 L541.8,434.1 L541.1,433.5 L540.6,432.9 L540.0,432.3 L539.1,431.9 L538.2,431.4 L537.0,430.6 L535.8,429.8 L536.3,429.8 L536.8,429.8 L537.7,430.0 L538.6,430.1 L540.1,431.0 L540.1,430.6 L540.0,430.3 L541.4,430.8 L542.8,431.3 L544.2,431.9 L545.5,432.2 L546.7,432.6 L548.6,433.4 L548.9,433.9 L549.2,434.4 L548.6,434.5 L548.0,434.6 L547.4,434.6 L547.6,435.2 L547.7,435.7 L547.9,436.3 L548.1,436.0 L548.3,435.6 L548.5,435.2 L549.4,436.1 L550.3,436.5 L550.9,436.4 L551.5,436.3 L551.7,436.8 L551.5,437.1 L551.3,437.5 L551.1,437.8 L550.3,437.1 L550.0,437.1 L549.9,437.5 L549.7,437.9 L550.4,438.7 L550.8,438.8 L550.4,439.2 L550.0,439.6 L550.5,440.3 L550.9,441.1 L551.3,441.7 L551.8,442.4 L551.4,442.9 L551.3,443.6 L551.2,444.3 L551.9,445.1 L552.5,446.0 L553.2,446.8 L553.3,447.5 L552.6,447.1 L551.6,446.1 L550.5,445.1 L549.6,445.0 L548.9,445.1 L548.2,445.2 L548.7,445.8 L548.0,445.7 L547.3,445.7 L546.6,445.6 L546.2,446.2 L545.7,446.7 L546.1,447.5 L546.4,448.4 L546.7,449.2 L547.4,450.1 L548.1,451.0 L548.9,451.4 L549.6,451.2 L550.3,451.0 L550.2,450.5 L550.2,449.9 L550.8,449.7 L551.5,449.6 L551.7,450.3 L551.9,451.1 L551.8,451.8 L551.8,452.4 L552.5,452.5 L553.2,452.5 L553.9,452.5 L554.4,452.9 L554.6,454.0 L554.7,455.0 L555.7,456.1 L556.2,455.9 L556.8,455.8 L557.3,456.1 L556.7,456.4 L556.5,457.0 L555.9,456.7 L555.3,456.5 L555.0,456.1 L554.0,455.6 L553.8,455.0 L552.8,454.0 L551.9,453.8 L551.1,453.5 L550.3,453.0 L549.4,452.4 L548.9,452.6 L548.4,452.7 L547.5,452.4 L546.6,452.1 L545.8,451.8 L545.1,451.4 L544.3,451.1 L543.7,450.2 L543.2,449.4 L542.4,448.6 L541.6,447.9 L540.7,447.2 L539.7,446.6 L538.8,446.0 L538.2,445.1 L537.4,444.9 L537.8,445.8 L538.5,446.4 L539.3,447.0 L539.8,447.6 L540.4,448.2 L541.4,449.2 L541.2,449.2 L540.5,448.7 L539.9,448.2 L539.1,447.4 L538.4,446.5 L537.2,445.6 L536.2,444.6 L535.4,443.9 L534.9,443.8 L534.4,443.6 L533.4,442.7 L532.6,442.1 L532.1,441.5 L531.6,441.0 L531.3,440.4 L530.9,439.7 L530.6,439.0 L530.2,438.2 L529.8,437.7 L529.3,437.3 L529.6,436.8 L528.9,436.6 L528.3,436.4 L527.6,436.1 L526.7,435.4 L525.7,434.6 L525.0,434.2 L524.4,433.8 L523.5,433.4 L522.6,432.9 L522.0,432.7 L521.4,432.5 L520.9,432.5 L520.3,432.4 L519.7,432.4 L519.1,432.3 L518.7,432.5 L518.3,432.8 L517.9,432.1 L517.8,433.0 L517.4,433.3 L517.1,433.7 L516.7,434.1 L516.2,434.4 L515.6,434.8 L515.2,434.8 L514.8,434.9 L515.4,434.6 L515.9,434.3 L516.2,433.8 L516.5,433.2 L515.9,433.2 L515.3,433.1 L515.2,432.6 L514.7,432.4 L514.2,432.3 L514.0,431.9 L514.3,431.3 L514.7,431.2 L515.1,431.1 L515.0,430.7 L514.6,430.7 L514.2,430.7 L513.8,430.7 L513.2,430.3 L513.7,430.1 L514.1,429.9ZM557.8,456.3 L558.4,455.2 L559.1,454.7 L559.7,454.2 L560.6,454.3 L561.7,455.1 L562.6,455.1 L563.4,455.1 L563.9,455.0 L564.4,455.0 L565.4,456.1 L566.2,456.8 L566.9,457.5 L567.7,457.8 L568.4,458.0 L569.2,458.3 L569.7,459.5 L570.2,460.6 L571.0,461.5 L571.8,461.9 L572.6,462.4 L573.5,462.5 L574.3,462.7 L574.8,463.3 L575.4,463.9 L576.0,464.8 L575.9,465.6 L575.7,466.3 L574.5,467.5 L573.4,468.6 L573.0,469.6 L572.5,470.5 L572.1,471.5 L571.1,472.6 L570.0,473.7 L569.2,474.0 L568.4,474.3 L567.5,474.8 L566.6,475.2 L565.7,475.7 L565.1,476.4 L564.6,477.1 L563.5,477.8 L562.4,478.6 L561.3,479.3 L560.4,479.7 L559.6,480.1 L559.2,480.0 L558.8,479.9 L558.6,479.6 L558.3,480.2 L557.9,480.9 L556.7,481.7 L556.1,481.8 L555.5,481.9 L554.9,482.0 L553.7,482.9 L553.3,482.9 L552.8,482.8 L552.2,483.8 L551.4,484.2 L550.5,484.7 L549.7,485.0 L548.9,485.4 L548.5,486.1 L547.4,486.6 L546.3,487.1 L545.0,488.0 L544.6,488.6 L544.2,489.2 L543.6,489.3 L543.0,489.4 L543.0,489.0 L543.0,488.6 L543.3,488.1 L543.6,487.6 L544.6,486.7 L545.6,485.7 L547.0,484.8 L548.3,483.9 L549.4,483.0 L550.4,482.0 L551.1,481.3 L551.8,480.5 L552.8,479.7 L553.7,478.9 L554.6,478.1 L555.4,477.0 L556.2,476.0 L556.9,475.1 L557.5,474.3 L558.1,473.4 L558.6,472.6 L559.0,471.7 L559.3,470.9 L559.0,470.4 L558.6,469.9 L558.1,469.2 L557.6,468.5 L557.5,467.4 L557.4,466.3 L556.9,465.2 L556.3,464.1 L556.4,463.2 L557.0,462.5 L556.7,461.4 L557.1,460.5 L557.6,460.1 L557.9,459.4 L558.2,458.7 L558.1,457.9 L557.9,457.1 L557.3,456.1 L557.8,456.3ZM536.2,429.2 L535.5,429.2 L534.8,429.1 L534.1,429.0 L534.0,428.7 L533.8,428.4 L533.7,428.1 L532.4,427.6 L532.7,427.5 L533.0,427.4 L533.4,427.4 L533.7,427.3 L534.0,427.2 L535.1,427.5 L535.8,427.9 L536.3,428.4 L537.7,429.0 L539.0,429.6 L538.3,429.5 L537.6,429.4 L536.9,429.3 L536.2,429.2ZM540.5,427.3 L542.0,427.9 L543.4,428.6 L544.7,429.4 L544.1,429.3 L543.5,429.2 L543.0,429.2 L540.8,428.5 L538.6,427.8 L537.1,427.3 L535.6,426.8 L535.9,426.7 L536.1,426.6 L536.4,426.6 L536.7,426.5 L536.9,426.4 L537.2,426.3 L537.4,426.2 L537.7,426.1 L537.9,426.0 L538.1,425.9 L538.4,425.8 L538.9,426.2 L539.5,426.5 L540.0,426.9 L540.5,427.3ZM549.2,434.1 L549.0,433.6 L550.5,434.2 L551.9,434.8 L553.1,435.7 L552.5,435.7 L551.9,435.6 L551.3,435.6 L550.7,435.6 L550.0,434.8 L549.2,434.1ZM554.1,448.5 L555.1,449.0 L556.2,449.5 L557.3,450.0 L556.6,450.1 L555.9,450.2 L555.2,449.9 L554.4,449.7 L553.6,449.4 L552.9,449.3 L552.3,449.3 L552.9,449.0 L553.5,448.8 L554.1,448.5ZM558.2,450.1 L559.2,450.4 L560.1,450.7 L559.5,451.0 L558.9,451.2 L558.2,451.0 L557.6,450.9 L557.9,450.5 L558.2,450.1ZM528.8,436.5 L529.8,437.2 L529.2,437.1 L528.7,437.0 L528.1,436.6 L527.4,436.2 L528.1,436.4 L528.8,436.5ZM518.0,433.3 L518.3,433.6 L518.1,433.7 L517.8,433.8 L518.0,433.3ZM484.6,495.2 L484.9,495.2 L485.3,495.1 L485.7,495.1 L486.1,495.0 L486.5,495.0 L486.9,495.0 L487.3,494.9 L487.7,494.9 L487.4,495.0 L487.1,495.1 L486.9,495.2 L486.6,495.2 L486.4,495.3 L486.1,495.4 L485.9,495.5 L485.6,495.6 L485.4,495.7 L485.1,495.8 L484.9,495.8 L484.7,495.9 L484.6,495.8 L484.6,495.6 L484.6,495.4 L484.6,495.2ZM489.2,494.0 L489.5,493.9 L489.8,493.8 L490.0,493.7 L490.3,493.6 L490.6,493.5 L490.9,493.3 L491.2,493.2 L491.6,493.1 L491.9,493.0 L492.2,492.9 L492.7,492.9 L493.1,492.9 L493.6,492.8 L494.0,492.8 L494.5,492.8 L494.9,492.8 L495.4,492.8 L495.9,492.8 L496.4,492.8 L496.8,492.7 L497.2,492.7 L497.6,492.6 L498.0,492.5 L498.4,492.4 L498.8,492.3 L499.2,492.3 L499.7,492.4 L500.2,492.4 L500.7,492.4 L501.2,492.4 L501.7,492.5 L502.2,492.6 L502.7,492.7 L503.1,492.8 L502.7,492.8 L502.3,492.8 L501.8,492.8 L501.4,492.9 L501.0,492.9 L500.6,492.9 L500.2,493.0 L499.7,493.0 L499.3,493.0 L498.9,493.1 L498.5,493.1 L498.1,493.2 L497.7,493.2 L497.3,493.2 L496.9,493.3 L496.5,493.3 L496.1,493.4 L495.7,493.4 L495.3,493.5 L494.9,493.5 L494.6,493.6 L494.2,493.6 L493.8,493.7 L493.4,493.7 L493.1,493.8 L492.7,493.9 L492.3,493.9 L492.0,494.0 L491.6,494.0 L491.3,494.1 L490.9,494.2 L490.6,494.2 L490.3,494.3 L489.9,494.4 L489.6,494.5 L489.3,494.5 L489.0,494.6 L489.0,494.5 L489.1,494.3 L489.1,494.1 L489.2,494.0ZM537.3,493.3 L538.0,493.3 L538.6,493.2 L539.3,493.1 L537.8,493.6 L536.4,494.0 L534.4,494.7 L534.1,494.6 L533.8,494.6 L533.6,494.5 L533.3,494.4 L534.6,494.1 L536.0,493.7 L537.3,493.3Z" fill="#ffcccc" stroke="#1c0c0c" stroke-width="0.55" stroke-linejoin="round"/>
<path d="M474.7,433.0 L473.4,433.8 L471.9,434.3M463.8,430.6 L465.3,429.8M476.9,428.9 L477.9,429.1 L477.6,429.7 L476.7,430.4M492.3,431.0 L491.7,430.6 L490.9,430.3 L489.8,430.2 L488.7,430.0M491.6,429.8 L491.2,429.3 L491.7,428.6M478.7,430.2 L480.1,429.4 L480.0,428.9 L481.3,428.2M487.0,429.2 L488.6,428.8 L489.8,428.1M492.8,429.8 L493.0,430.4 L493.5,430.9 L494.2,431.3M489.5,428.9 L490.6,429.0 L490.5,429.6 L491.1,430.0M480.3,429.6 L478.7,429.9 L477.2,430.1 L475.5,430.4M467.6,431.7 L467.8,432.2 L467.1,432.9 L466.2,433.7M485.5,430.9 L486.5,431.1 L487.0,431.5 L487.3,432.1M486.8,427.9 L485.9,428.6 L484.2,429.2M491.6,436.3 L491.0,437.1 L489.8,437.5M481.9,432.1 L480.4,432.5 L478.8,433.0M494.3,430.9 L495.7,430.4 L497.1,430.0 L498.5,429.7 L499.5,430.0M490.4,435.8 L491.7,435.6 L492.4,436.0M488.8,435.3 L488.0,434.9 L487.6,434.4 L488.5,433.6 L488.5,433.0M489.9,435.0 L490.4,434.2 L490.9,433.4 L492.2,432.9M484.2,433.0 L485.6,432.6 L486.8,432.7 L488.3,432.2 L489.4,432.3M485.0,434.6 L483.6,435.0 L482.3,435.2M491.1,435.6 L490.9,436.4 L490.0,437.1 L489.6,437.9 L489.4,438.7M481.6,427.2 L483.1,427.1 L485.0,426.7M486.5,432.9 L488.0,432.4 L489.4,432.0M477.0,428.3 L476.3,428.0 L474.4,428.4 L472.8,428.6 L472.0,428.4M471.2,431.7 L471.9,431.0 L472.3,430.3 L474.1,429.6 L474.9,428.9M482.6,429.5 L483.2,429.8 L484.5,429.7M484.6,428.3 L485.1,428.6 L486.4,428.7 L486.4,429.2M472.7,426.4 L474.2,425.7M481.4,430.2 L483.0,429.5 L484.1,428.8M471.5,431.1 L472.1,430.4 L473.3,429.6M492.8,429.4 L494.0,429.5 L495.1,429.6 L496.4,429.6 L497.8,429.1M491.9,429.0 L490.3,429.3 L488.9,430.0 L487.3,430.3 L485.7,430.6M498.6,432.2 L498.5,431.6 L498.5,430.9 L497.8,430.4 L496.5,430.5M463.1,430.1 L462.2,430.0 L460.3,430.5M486.0,430.4 L485.9,429.9 L486.5,429.2 L487.2,428.5 L486.8,428.1M484.9,433.6 L483.5,434.2 L482.8,435.0 L481.6,435.7M483.8,431.9 L484.9,431.2 L486.5,430.6 L487.8,430.6M497.5,430.3 L498.9,430.3 L500.2,430.0M478.0,432.6 L479.3,432.5 L480.8,431.9 L482.4,431.3M484.3,431.1 L485.2,430.3 L486.9,429.8M479.1,431.9 L480.1,431.1 L481.4,430.4 L482.6,429.7 L483.7,428.9M468.1,429.7 L468.3,430.1 L467.3,430.9M489.3,428.1 L488.2,428.9 L487.3,429.6 L486.4,430.3M485.1,432.9 L486.4,432.3 L487.1,431.6 L488.3,430.8 L489.8,430.6M481.0,430.1 L481.6,430.4 L480.8,431.2 L480.7,431.8M472.4,432.2 L472.0,432.9 L472.4,433.3 L472.2,434.0 L472.1,434.6M471.9,430.0 L471.2,430.7 L469.4,431.4 L467.8,432.1M475.9,430.0 L474.2,430.4 L472.5,430.8 L470.8,431.5 L469.1,432.2M489.6,430.3 L489.7,430.9 L490.9,431.0 L492.3,430.7M473.3,426.0 L471.2,426.7M505.6,430.1 L504.9,430.8 L504.7,431.6M470.8,430.7 L472.6,430.2 L473.9,429.4 L475.3,428.7M477.0,431.3 L476.6,432.0 L475.6,432.8 L475.0,433.5M481.6,427.7 L482.2,428.0 L483.1,428.2M479.9,432.4 L478.3,433.0 L476.8,433.6M500.5,431.5 L499.4,432.2 L498.2,432.7M478.0,427.0 L476.1,427.7 L474.7,428.4M487.0,432.3 L485.6,432.5 L484.1,432.8 L482.6,433.1 L481.3,433.8M503.8,430.4 L502.7,430.9 L501.9,431.6 L500.6,432.1 L499.5,431.9M470.7,429.4 L472.4,429.0 L474.3,428.6 L476.2,428.0M495.9,432.6 L497.3,432.3 L498.6,432.0M490.5,430.6 L491.9,430.5 L493.3,430.0 L494.2,429.3M494.1,432.7 L494.2,433.4 L494.7,433.9M482.3,429.3 L480.6,429.9 L479.2,430.0 L479.2,429.5 L480.1,428.8M496.9,431.0 L496.2,431.8 L495.0,432.4 L493.7,433.0M487.7,433.4 L488.3,433.8 L488.9,434.3 L490.1,434.3M473.1,432.0 L472.1,432.8 L470.5,433.5M482.6,429.9 L481.2,430.6 L480.4,431.3 L479.0,432.1M460.8,430.6 L460.8,430.2M481.9,432.0 L482.6,432.3 L483.9,432.3 L485.4,431.8M480.1,431.5 L479.8,432.2 L480.8,432.4 L482.2,432.2 L483.7,431.5M471.4,433.4 L470.4,434.2 L469.0,435.0 L467.4,435.6 L465.9,436.2M472.7,429.9 L474.0,429.9 L475.6,429.7M489.8,435.1 L489.0,435.8 L489.2,436.5 L488.5,437.3M466.5,429.9 L466.5,430.4 L465.7,431.1 L464.9,431.8M458.6,438.4 L457.5,438.5 L456.2,439.2M478.5,429.5 L478.1,429.1 L478.6,428.5M460.9,431.4 L462.6,430.6 L464.2,429.9M464.8,435.2 L465.6,434.4 L466.9,433.6 L467.7,432.9 L468.6,432.2M466.2,433.6 L464.7,434.2 L463.6,434.9M465.1,431.2 L464.1,431.2 L462.5,431.7 L461.9,431.5M468.0,434.9 L467.6,434.5 L466.3,434.8M469.4,434.4 L469.6,433.8 L470.8,433.1 L472.3,432.6M467.4,431.4 L468.1,431.6 L469.6,431.3 L471.1,430.6 L472.6,430.3M458.6,440.2 L459.5,439.4 L460.2,438.6 L461.3,437.7 L462.6,437.3M463.6,430.8 L462.4,430.9 L461.8,430.7M464.2,438.4 L465.4,438.0 L466.7,437.6 L467.6,436.8 L468.8,436.1M469.2,429.0 L470.9,428.6 L472.2,428.5M462.3,436.2 L463.7,435.7 L465.0,435.1 L466.2,434.9M458.4,433.1 L460.0,432.4 L461.6,431.8 L463.2,431.4M460.1,437.5 L460.1,438.1 L459.1,438.9 L458.2,439.7 L457.0,440.4M461.3,437.8 L460.3,437.9 L459.6,437.7 L458.3,438.1M460.8,430.4 L459.6,431.2 L459.9,431.5M456.0,432.7 L456.2,433.1M466.1,436.7 L467.1,435.9 L468.5,435.5 L469.9,434.9 L471.2,434.5M456.8,432.5 L457.6,432.5 L457.6,433.0 L457.1,433.7 L457.7,433.9M466.2,435.2 L466.6,435.5 L467.1,435.9 L467.5,436.2M472.5,431.5 L473.5,431.5 L475.0,431.2M462.6,436.2 L463.2,435.4 L463.5,434.8M530.0,432.6 L530.9,432.4 L532.2,432.9 L533.5,433.2M516.1,430.3 L516.1,429.6M519.3,430.4 L518.2,430.5 L517.1,430.6M545.8,433.5 L545.4,432.9M541.5,432.8 L540.9,432.1 L540.3,431.5M516.2,431.9 L515.0,431.8M539.0,431.4 L537.6,430.8 L536.7,430.2M533.5,434.8 L533.5,434.2 L534.3,433.9 L534.9,433.6M526.0,432.8 L526.8,432.5 L527.6,432.2 L527.7,431.6M543.4,433.9 L544.5,434.6 L545.8,434.9 L547.1,435.3M541.8,433.1 L543.1,433.7 L544.5,434.1M534.2,434.9 L535.5,435.2 L536.4,435.9M520.1,430.9 L521.1,430.8 L521.5,430.2M532.3,430.3 L531.0,429.8 L529.6,429.5 L528.2,429.2M524.8,432.2 L524.4,431.5 L524.1,430.8M519.6,430.7 L520.7,431.1 L521.9,431.1 L523.1,431.2M523.0,430.2 L521.9,429.7 L520.6,429.4M532.3,435.0 L531.5,435.3 L531.3,435.9 L530.2,435.9M517.5,430.6 L518.5,430.4 L519.4,430.0M528.5,428.9 L527.3,428.9 L526.9,429.3 L525.8,429.4M543.8,432.7 L545.2,433.1 L546.2,433.8M527.3,431.9 L526.9,432.4 L526.5,432.9M525.6,433.1 L524.6,432.5 L523.4,432.2M529.1,434.3 L529.1,435.0 L529.2,435.6M533.9,427.9 L535.1,428.5M517.5,431.7 L516.5,431.3 L516.3,430.7 L516.1,430.0M532.4,433.1 L531.2,432.9 L530.0,432.8 L528.9,432.8 L527.7,432.5M532.8,431.7 L532.2,431.0 L531.8,430.4M535.8,433.0 L536.1,433.6 L537.0,434.3M530.4,431.0 L529.1,430.8 L528.4,431.2 L527.2,431.0M530.5,432.5 L529.3,432.0 L528.6,431.3M530.8,430.5 L531.1,430.0 L531.0,429.5 L530.8,428.9M530.1,429.4 L530.9,429.2 L531.2,428.7M531.0,432.7 L529.9,432.0 L528.7,431.6 L528.0,430.9M536.3,434.1 L537.1,433.8 L538.3,433.9 L539.5,434.5 L540.8,435.0M515.7,432.5 L515.3,431.9 L515.6,431.2M519.1,429.7 L519.7,430.3 L520.9,430.7 L522.1,431.0 L523.3,431.4M533.2,435.3 L534.4,435.4 L535.1,435.1 L535.0,434.4 L535.2,433.9M530.9,431.2 L531.8,431.0 L533.1,431.3M531.0,430.2 L532.4,430.7M528.6,430.7 L529.5,430.5 L530.9,430.8 L532.1,431.4 L532.4,432.1M515.6,430.8 L516.1,430.3 L517.0,429.9 L518.1,429.8M546.2,433.4 L547.6,433.9M529.5,433.4 L529.0,433.9 L528.5,434.4 L527.4,434.3M530.8,435.1 L530.8,435.8 L530.0,436.1 L529.8,436.7M526.4,430.0 L525.9,429.3M528.7,431.3 L527.7,430.7 L527.2,430.1M517.0,429.6 L518.0,430.1 L519.3,430.3 L520.4,430.2M533.9,432.5 L533.0,432.7 L532.7,433.2 L532.1,433.6M534.3,432.3 L533.1,432.2 L531.8,432.0 L530.5,431.6M542.7,432.3 L541.8,432.4 L541.3,432.8M526.6,429.4 L525.7,429.6 L524.4,429.4M520.5,430.7 L520.7,431.3 L520.1,431.8M523.4,432.1 L522.5,431.5 L522.2,430.9 L521.1,430.4M536.2,433.5 L535.4,432.8 L534.2,432.2M528.7,434.2 L528.0,434.5 L528.1,435.2M530.8,435.4 L532.0,435.7 L533.2,436.0 L534.3,436.1M530.0,434.5 L528.8,434.3 L527.7,433.8 L526.6,433.8M529.9,429.2 L531.1,429.8M531.1,429.0 L530.6,429.3 L529.8,429.6 L528.6,429.6 L527.7,429.8M543.0,432.2 L541.7,432.1 L540.3,431.7 L538.9,431.2 L537.5,430.6M533.3,432.2 L534.4,432.8 L535.2,433.5M544.9,433.1 L544.5,432.4M525.7,433.3 L525.4,433.9M524.0,430.4 L524.7,430.0 L525.9,430.2 L527.2,430.6 L528.4,431.2M525.2,430.8 L524.7,430.1 L524.6,429.5M529.8,434.3 L530.7,434.1 L531.4,433.7M527.5,431.6 L527.3,430.9 L526.8,430.3M529.2,433.4 L529.0,434.0 L528.7,434.5M526.1,429.9 L526.6,430.6 L526.6,431.2 L526.4,431.8M525.8,431.2 L524.9,431.4 L523.8,431.5 L522.6,431.3M515.6,432.1 L514.9,431.6M530.0,430.6 L529.1,430.0 L528.7,429.3M519.5,430.6 L519.0,429.9M529.1,431.1 L529.8,431.8 L531.1,432.2M518.7,431.2 L518.2,431.7M524.3,429.9 L523.2,429.4M528.5,431.6 L529.3,432.3 L529.6,433.0M522.7,432.6 L522.0,431.9 L521.1,431.4 L520.0,430.9 L519.7,430.3M530.5,430.4 L531.3,430.1M526.5,430.2 L526.0,429.6M521.9,429.9 L520.7,429.7 L519.5,429.7 L518.8,430.1M529.8,433.1 L531.1,433.3 L532.2,433.8 L533.4,434.3 L533.8,435.1M518.5,431.0 L519.7,431.0 L519.9,430.4 L520.4,429.9 L520.8,429.4M525.5,431.6 L525.0,431.0 L525.1,430.4M530.8,429.5 L532.2,429.9M527.6,433.3 L526.4,433.2 L525.7,433.6M527.0,429.7 L528.1,430.3 L529.4,430.5 L530.8,430.7M533.4,434.7 L532.4,434.8 L531.3,434.8M529.5,433.5 L529.3,434.1 L528.5,434.4 L527.3,434.0M515.5,431.7 L515.7,432.4 L516.7,432.8M521.9,430.8 L521.7,430.1 L522.0,429.6M517.4,430.5 L516.7,431.0 L516.7,431.6 L516.7,432.3M540.0,431.9 L540.9,432.6 L541.8,433.3M523.2,432.8 L524.3,433.3 L525.1,433.9 L526.3,434.3M516.5,429.9 L517.7,430.2 L518.7,430.0M523.5,430.3 L523.4,430.9 L522.4,431.0M524.4,430.8 L525.5,430.7 L525.9,430.2 L526.5,429.8 L527.7,429.9M531.1,433.9 L531.5,433.4 L531.3,432.8M524.3,431.8 L523.2,431.9 L522.0,431.7 L521.2,432.0M540.7,431.4 L539.2,431.0 L537.8,430.7M524.0,432.1 L525.2,432.4 L526.1,432.1M530.1,431.1 L529.7,430.5 L528.5,430.0 L527.2,429.7M527.5,429.3 L526.9,429.7 L526.6,430.2M517.8,430.1 L516.7,430.3 L515.5,430.1M522.1,429.6 L523.1,430.1 L524.2,430.6M531.0,434.7 L529.8,434.6 L528.8,434.7M522.2,431.7 L522.6,432.4M526.2,433.0 L525.3,432.4 L525.3,431.7 L524.7,431.1M515.2,429.7 L515.1,430.3 L516.0,430.8 L516.6,431.5 L516.6,432.1M522.4,430.7 L522.3,430.0 L522.9,429.7M540.4,431.8 L540.9,431.5 L541.6,431.2M530.1,429.6 L531.5,429.8M545.0,433.5 L545.1,434.1 L545.4,434.7 L545.6,435.4M529.0,431.8 L527.8,431.4 L526.7,430.9 L526.4,430.2 L526.4,429.6M532.1,431.6 L531.9,431.0 L531.3,430.3M535.3,433.6 L535.0,433.0 L534.2,432.3M524.7,430.6 L525.8,430.5 L526.1,430.0 L525.5,429.4M531.8,435.3 L532.7,436.0 L533.8,436.5 L534.5,437.2M528.1,429.3 L527.0,429.5 L525.7,429.1M534.0,437.8 L534.9,437.6 L535.6,437.3 L535.5,436.6 L535.8,436.1M534.9,442.8 L533.9,442.4M541.7,438.5 L541.6,437.8 L542.4,437.6M532.8,441.1 L531.8,440.7 L531.4,439.9M545.8,443.1 L545.2,442.3 L544.3,441.6 L543.9,440.8 L542.9,440.2M538.1,437.4 L538.3,438.1 L537.4,438.4 L536.4,438.4M537.7,437.5 L538.7,438.2 L539.8,438.3 L540.5,438.1 L540.5,437.4M536.6,441.7 L535.7,441.7 L534.6,441.4 L533.7,440.8M533.9,439.4 L532.9,438.9 L531.8,438.8 L531.2,439.3M543.4,437.3 L544.0,438.0 L544.9,438.8M535.5,439.2 L534.5,438.7 L534.1,438.0 L534.6,437.5 L535.7,437.5M540.8,444.0 L540.7,443.2 L541.5,442.9 L542.0,442.5 L541.7,441.7M541.1,440.5 L542.3,440.8 L543.3,441.5 L544.4,441.8M550.6,442.1 L549.6,442.0 L548.8,442.2 L547.7,442.0 L546.8,442.0M541.4,440.1 L541.8,440.9 L541.1,441.2 L540.1,441.4M534.3,440.6 L535.1,441.2 L535.7,442.0 L536.7,442.5M535.6,440.4 L535.1,440.9 L534.2,441.1 L533.1,440.6M546.7,441.8 L546.4,442.4 L546.0,442.9 L546.0,443.6 L545.3,443.9M532.6,436.7 L532.9,437.4 L533.6,438.1M547.3,442.4 L548.4,442.8 L549.4,442.8M548.7,440.9 L548.4,440.2 L547.9,439.4 L547.3,438.6M538.5,438.0 L539.2,438.7 L540.3,439.2 L541.4,439.5 L542.5,440.1M539.8,442.2 L538.8,442.2 L537.8,441.9 L536.8,442.1 L536.5,442.7M543.2,441.0 L542.4,440.3 L541.7,439.5 L541.3,438.8M533.7,437.9 L532.6,437.7 L532.0,438.1 L530.9,438.1M463.9,441.1 L462.7,441.5 L461.6,441.8 L460.8,442.7 L460.1,443.5M480.5,440.9 L481.1,440.2 L481.4,439.4 L481.8,438.7M467.8,444.0 L466.9,444.0 L465.8,444.2 L464.9,444.8 L464.6,445.6M477.2,444.2 L476.1,444.5 L475.0,444.9 L474.2,445.6 L473.2,445.9M478.0,436.5 L477.0,437.2 L476.3,437.9 L475.3,438.7 L474.2,439.2M482.1,439.2 L483.1,438.5 L484.2,438.4M461.6,443.3 L461.6,444.1 L461.7,444.7 L462.6,444.8M471.3,448.9 L471.9,449.3 L472.5,449.8M478.3,446.8 L477.4,447.4 L476.4,447.6 L475.7,447.2 L474.8,447.0M466.3,442.2 L466.2,441.5 L466.8,440.7M482.1,439.1 L481.1,439.7 L480.3,440.4M478.5,448.5 L479.4,448.0 L480.4,447.7M472.4,443.7 L472.7,443.0 L473.2,442.2M460.0,446.0 L460.0,445.3 L459.2,445.0M476.7,437.5 L476.2,438.3 L475.2,439.0 L475.0,439.7M480.5,444.8 L480.1,444.3 L479.1,444.1 L478.6,443.6 L478.8,442.9M470.4,447.5 L471.1,447.9 L471.6,448.4 L471.8,449.1M487.6,437.6 L486.9,437.3 L486.5,436.8 L486.1,436.3M472.1,443.9 L472.8,443.1 L473.9,442.7M474.5,438.2 L475.7,437.8 L476.7,437.1 L478.0,436.6M471.0,447.1 L470.0,447.3 L469.2,447.1 L468.2,447.5 L467.2,448.0M468.2,443.4 L468.7,442.5 L468.9,441.8 L469.3,441.0 L468.7,440.7M478.6,444.8 L477.6,445.3 L476.7,445.3M479.0,442.9 L480.1,442.4 L480.9,441.7 L482.0,441.4M465.2,438.9 L463.9,439.5 L462.8,440.2M562.0,469.7 L561.7,469.1 L562.0,468.2M561.9,461.3 L561.3,460.7 L560.4,460.7 L559.7,461.1M566.7,474.1 L566.0,473.9 L565.3,473.7 L564.3,474.2 L563.3,474.7M557.4,475.5 L556.6,476.3M554.6,481.4 L554.0,481.1 L553.3,480.9 L553.1,480.3M567.3,458.4 L566.8,459.0 L565.9,458.8 L565.2,459.2 L564.7,460.0M552.9,481.1 L553.3,481.6 L554.4,481.4 L555.6,480.9 L556.3,481.1M562.6,462.4 L562.3,461.6 L561.6,461.1M559.0,468.9 L558.8,468.1 L558.8,467.3 L558.9,466.4M568.1,469.8 L567.3,470.5 L566.5,471.3M560.1,468.4 L560.6,469.0 L560.6,469.9 L561.4,470.1 L561.6,470.9M555.2,480.1 L554.2,480.1 L553.1,480.4M559.4,469.2 L558.8,468.7 L558.6,467.9M563.0,461.4 L562.3,461.9 L561.4,461.9M558.7,477.4 L557.7,478.0 L556.6,478.2M559.4,464.3 L559.1,463.6 L558.7,462.8M563.7,475.6 L563.3,475.0 L562.3,475.2M564.2,471.6 L565.1,471.0 L566.0,470.6 L566.7,470.9 L567.1,471.5M443.5,452.3 L442.7,452.9 L441.9,452.9 L441.8,452.0 L441.3,451.6M435.3,455.3 L434.9,456.4 L435.1,457.4 L435.7,457.8 L436.4,457.7M440.6,473.2 L441.2,474.2 L441.2,474.9 L442.0,475.9M450.7,445.8 L451.8,445.2 L452.4,444.3 L453.1,443.4M443.9,473.8 L443.0,473.0 L442.5,472.0 L442.6,471.2 L443.3,471.0M442.4,464.6 L443.2,464.7 L444.0,465.4 L444.6,466.2M437.1,454.5 L436.4,455.3 L435.7,455.2 L435.5,454.3M440.9,462.1 L440.2,462.3 L440.0,463.2 L440.4,464.1 L441.1,464.6M445.1,449.3 L445.9,449.4M441.1,463.9 L440.3,463.4 L439.8,462.6 L439.5,461.6 L438.8,461.2M442.9,462.9 L443.5,462.2 L444.0,461.5 L443.9,460.5 L444.1,459.6M435.5,463.2 L435.8,462.3 L435.6,461.3M587.6,455.7 L588.3,456.2M583.3,445.8 L583.0,445.0 L582.6,444.1 L583.0,443.7M583.7,447.9 L583.6,447.1 L582.9,446.1 L582.9,445.3M584.5,449.2 L585.4,449.9 L586.0,449.6M585.0,450.0 L584.7,450.6 L585.1,451.6 L585.5,452.6 L586.3,453.5M579.0,445.4 L580.1,445.8 L580.9,446.8M579.9,442.0 L579.4,442.3 L578.8,442.5M585.7,447.0 L586.5,448.0 L587.4,448.9 L588.1,450.0 L588.6,451.1" fill="none" stroke="#2a1414" stroke-width="0.4" stroke-opacity="0.8" stroke-linecap="round"/>
<path d="M459.8,439.8 L461.1,440.0 L462.6,438.5 L466.0,436.0 L466.6,434.9 L464.3,435.6 L462.2,437.8Z" fill="#cdeffa" stroke="#402020" stroke-width="0.3"/>
<path d="M481.5,424.4 L482.4,424.6 L483.2,425.0 L484.0,425.5 L484.9,425.9 L485.8,426.2 L486.8,426.6 L487.7,426.8 L488.7,427.1 L489.7,427.3 L490.7,427.5 L491.6,427.7 L492.6,427.9 L493.6,428.1 L494.6,428.2 L495.6,428.3 L496.6,428.5 L497.6,428.6 L498.6,428.7 L499.6,428.8 L500.6,428.8 L501.6,428.9 L502.6,429.0 L503.6,429.0 L504.6,429.1 L505.5,429.1 L506.5,429.2 L507.5,429.2 L508.5,429.2 L509.5,429.3 L510.5,429.3 L511.5,429.3 L512.5,429.3 L513.5,429.2 L514.5,429.2 L515.5,429.2 L516.5,429.2 L517.5,429.1 L518.5,429.1 L519.5,429.0 L520.5,429.0 L521.5,428.9 L522.5,428.8 L523.5,428.8 L524.5,428.7 L525.5,428.6 L526.5,428.5 L527.5,428.3 L528.5,428.2 L529.5,428.0 L530.5,427.9 L531.5,427.7 L532.4,427.5 L533.4,427.3 L534.4,427.1 L535.4,426.8 L536.3,426.5 L537.3,426.2 L538.2,425.8 L539.1,425.4 L539.9,425.0 L540.8,424.6 L541.7,424.4 L542.6,424.3 L543.5,424.3 L544.5,424.5 L545.5,424.7 L546.4,424.9 L547.4,425.2 L548.4,425.4 L549.3,425.7 L550.3,425.9 L551.3,426.2 L552.2,426.5 L553.2,426.8 L554.1,427.1 L555.1,427.4 L556.0,427.7 L557.0,428.0 L557.9,428.4 L558.9,428.7 L559.8,429.0 L560.7,429.4 L561.7,429.8 L562.6,430.1 L563.5,430.5 L564.4,430.9 L565.3,431.3 L566.3,431.8 L567.2,432.2 L568.1,432.6 L568.9,433.1 L569.8,433.6 L570.7,434.0 L571.6,434.5 L572.4,435.0 L573.3,435.5 L574.1,436.1 L575.0,436.6 L575.8,437.2 L576.6,437.7 L577.5,438.3 L578.3,438.9 L579.0,439.5 L579.8,440.1 L580.6,440.8 L581.3,441.5 L582.1,442.1 L582.8,442.8 L583.5,443.5 L584.2,444.3 L584.8,445.0 L585.5,445.8 L586.1,446.6 L586.7,447.4 L587.3,448.2 L587.8,449.0 L588.3,449.9 L588.8,450.7 L589.3,451.6 L589.7,452.5 L590.0,453.5 L590.4,454.4 L590.7,455.4 L590.9,456.3 L591.1,457.3 L591.2,458.3 L591.4,459.3 L591.4,460.3 L591.4,461.3 L591.4,462.3 L591.3,463.3 L591.1,464.3 L590.9,465.2 L590.7,466.2 L590.4,467.2 L590.1,468.1 L589.8,469.0 L589.3,469.9 L588.9,470.8 L588.4,471.7 L587.9,472.6 L587.4,473.4 L586.8,474.3 L586.2,475.1 L585.6,475.8 L585.0,476.6 L584.3,477.4 L583.7,478.1 L583.0,478.8 L582.2,479.5 L581.5,480.2 L580.8,480.9 L580.0,481.5 L579.2,482.1 L578.4,482.8 L577.6,483.4 L576.8,483.9 L576.0,484.5 L575.2,485.1 L574.3,485.6 L573.5,486.1 L572.6,486.7 L571.8,487.2 L570.9,487.7 L570.0,488.1 L569.1,488.6 L568.3,489.1 L567.4,489.5 L566.5,489.9 L565.6,490.4 L564.6,490.8 L563.7,491.2 L562.8,491.6 L561.9,491.9 L561.0,492.3 L560.0,492.7 L559.1,493.0 L558.1,493.4 L557.2,493.7 L556.3,494.0 L555.3,494.3 L554.4,494.7 L553.4,494.9 L552.5,495.2 L551.5,495.5 L550.5,495.8 L549.6,496.1 L548.6,496.3 L547.6,496.6 L546.7,496.8 L545.7,497.0 L544.7,497.3 L543.7,497.5 L542.8,497.5 L541.9,497.5 L541.0,497.2 L540.1,496.9 L539.3,496.5 L538.4,496.1 L537.5,495.7 L536.5,495.3 L535.6,495.0 L534.6,494.8 L533.6,494.5 L532.7,494.3 L531.7,494.1 L530.7,494.0 L529.7,493.8 L528.7,493.6 L527.7,493.5 L526.7,493.4 L525.8,493.3 L524.8,493.2 L523.8,493.1 L522.8,493.0 L521.8,492.9 L520.8,492.8 L519.8,492.8 L518.8,492.7 L517.8,492.7 L516.8,492.6 L515.8,492.6 L514.8,492.6 L513.8,492.6 L512.8,492.5 L511.8,492.5 L510.8,492.5 L509.8,492.5 L508.8,492.6 L507.8,492.6 L506.8,492.6 L505.8,492.6 L504.8,492.7 L503.8,492.7 L502.8,492.8 L501.8,492.9 L500.8,492.9 L499.8,493.0 L498.8,493.1 L497.8,493.2 L496.8,493.3 L495.8,493.4 L494.8,493.6 L493.8,493.7 L492.8,493.9 L491.9,494.0 L490.9,494.2 L489.9,494.4 L488.9,494.6 L488.0,494.9 L487.0,495.2 L486.1,495.5 L485.1,495.8 L484.2,496.2 L483.3,496.7 L482.5,497.1 L481.6,497.4 L480.7,497.5 L479.8,497.5 L478.8,497.4 L477.9,497.2 L476.9,496.9 L475.9,496.7 L474.9,496.5 L474.0,496.2 L473.0,495.9 L472.0,495.7 L471.1,495.4 L470.1,495.1 L469.2,494.8 L468.2,494.5 L467.3,494.2 L466.3,493.9 L465.4,493.6 L464.4,493.2 L463.5,492.9 L462.6,492.5 L461.6,492.2 L460.7,491.8 L459.8,491.4 L458.9,491.0 L458.0,490.6 L457.0,490.2 L456.1,489.7 L455.2,489.3 L454.3,488.9 L453.5,488.4 L452.6,487.9 L451.7,487.4 L450.8,486.9 L450.0,486.4 L449.1,485.9 L448.3,485.4 L447.4,484.8 L446.6,484.3 L445.8,483.7 L445.0,483.1 L444.2,482.5 L443.4,481.9 L442.7,481.2 L441.9,480.6 L441.2,479.9 L440.4,479.2 L439.7,478.5 L439.0,477.8 L438.4,477.0 L437.7,476.3 L437.1,475.5 L436.5,474.7 L435.9,473.9 L435.4,473.1 L434.8,472.2 L434.3,471.3 L433.9,470.5 L433.5,469.5 L433.1,468.6 L432.7,467.7 L432.4,466.7 L432.2,465.8 L432.0,464.8 L431.8,463.8 L431.7,462.8 L431.6,461.8 L431.6,460.8 L431.6,459.8 L431.7,458.9 L431.8,457.9 L432.0,456.9 L432.2,455.9 L432.5,455.0 L432.8,454.0 L433.1,453.1 L433.5,452.1 L433.9,451.2 L434.4,450.4 L434.9,449.5 L435.4,448.6 L436.0,447.8 L436.6,447.0 L437.2,446.2 L437.8,445.4 L438.4,444.7 L439.1,443.9 L439.8,443.2 L440.5,442.5 L441.2,441.8 L442.0,441.2 L442.7,440.5 L443.5,439.9 L444.3,439.2 L445.1,438.6 L445.9,438.1 L446.7,437.5 L447.5,436.9 L448.4,436.4 L449.2,435.8 L450.1,435.3 L450.9,434.8 L451.8,434.3 L452.7,433.8 L453.6,433.4 L454.4,432.9 L455.3,432.4 L456.2,432.0 L457.1,431.6 L458.1,431.2 L459.0,430.8 L459.9,430.4 L460.8,430.0 L461.7,429.6 L462.7,429.2 L463.6,428.9 L464.5,428.5 L465.5,428.2 L466.4,427.9 L467.4,427.6 L468.3,427.2 L469.3,426.9 L470.2,426.7 L471.2,426.4 L472.2,426.1 L473.1,425.8 L474.1,425.6 L475.1,425.3 L476.0,425.1 L477.0,424.8 L478.0,424.6 L478.9,424.4 L479.8,424.2 L480.7,424.2Z" fill="none" stroke="#000" stroke-width="2.4" stroke-linejoin="round"/>
<circle cx="519.7" cy="450.3" r="0.65" fill="#8a5555"/>
<circle cx="517.8" cy="449.4" r="0.65" fill="#8a5555"/>
<circle cx="492.5" cy="449" r="0.65" fill="#8a5555"/>
<circle cx="493" cy="452" r="0.65" fill="#8a5555"/>
<circle cx="504" cy="456.5" r="0.65" fill="#8a5555"/>
<circle cx="505.5" cy="459" r="0.65" fill="#8a5555"/>
<circle cx="506.5" cy="461.2" r="0.65" fill="#8a5555"/>
<circle cx="500" cy="465.5" r="0.65" fill="#8a5555"/>
<circle cx="501.5" cy="466.6" r="0.65" fill="#8a5555"/>
<circle cx="503" cy="468" r="0.65" fill="#8a5555"/>
<circle cx="504.5" cy="470.2" r="0.65" fill="#8a5555"/>
<circle cx="504.9" cy="472.3" r="0.65" fill="#8a5555"/>
<circle cx="508.4" cy="469.2" r="0.65" fill="#8a5555"/>
<circle cx="513" cy="468.5" r="0.65" fill="#8a5555"/>
<circle cx="514.5" cy="469.3" r="0.65" fill="#8a5555"/>
<circle cx="522" cy="468.5" r="0.65" fill="#8a5555"/>
<circle cx="524.5" cy="469.2" r="0.65" fill="#8a5555"/>
<circle cx="527" cy="470" r="0.65" fill="#8a5555"/>
<circle cx="529" cy="468.4" r="0.65" fill="#8a5555"/>
<circle cx="497" cy="457.5" r="0.65" fill="#8a5555"/>
<circle cx="510.5" cy="463.5" r="0.65" fill="#8a5555"/>
<path d="M502.24,442.51 L503.09,444.94 L505.66,445.00 L503.62,446.56 L504.35,449.02 L502.24,447.56 L500.12,449.02 L500.86,446.56 L498.81,445.00 L501.38,444.94Z" fill="#0000ff"/>
</svg>
</body></html>
